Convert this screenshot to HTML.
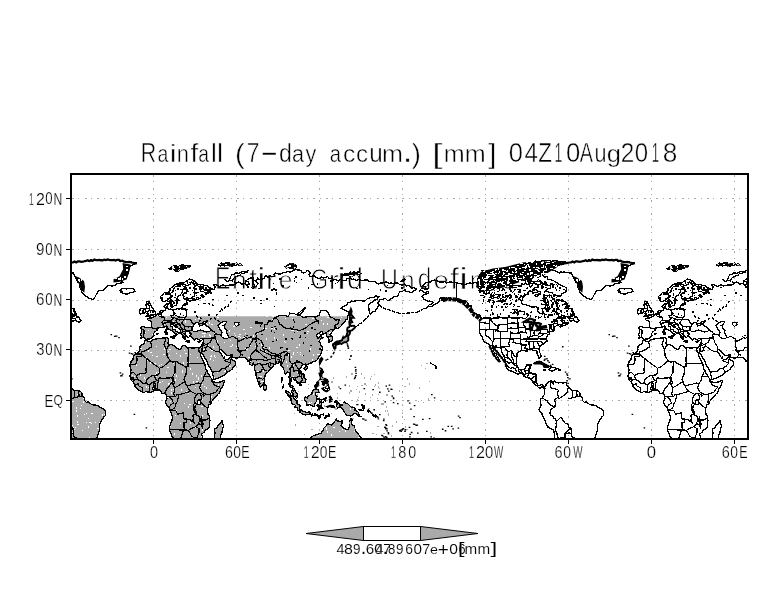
<!DOCTYPE html>
<html><head><meta charset="utf-8"><title>Rainfall</title>
<style>html,body{margin:0;padding:0;background:#fff;width:784px;height:612px;overflow:hidden}svg{display:block;filter:grayscale(1)}</style>
</head><body>
<svg width="784" height="612" viewBox="0 0 784 612">
<rect width="784" height="612" fill="#fff"/>
<g stroke="#aaaaaa" stroke-width="1" stroke-dasharray="2 4.35 1 5.35" fill="none" shape-rendering="crispEdges"><line x1="153.5" y1="175" x2="153.5" y2="438"/><line x1="236.5" y1="175" x2="236.5" y2="438"/><line x1="319.5" y1="175" x2="319.5" y2="438"/><line x1="402.5" y1="175" x2="402.5" y2="438"/><line x1="485.5" y1="175" x2="485.5" y2="438"/><line x1="568.5" y1="175" x2="568.5" y2="438"/><line x1="651.5" y1="175" x2="651.5" y2="438"/><line x1="734.5" y1="175" x2="734.5" y2="438"/><line x1="72" y1="400.5" x2="747" y2="400.5"/><line x1="72" y1="350.5" x2="747" y2="350.5"/><line x1="72" y1="300.5" x2="747" y2="300.5"/><line x1="72" y1="249.5" x2="747" y2="249.5"/><line x1="72" y1="198.5" x2="747" y2="198.5"/></g>
<g fill="#000"><text transform="translate(214.99,288.90) scale(0.2325,0.3081)" font-family="Liberation Sans" font-size="100" stroke="#fff" stroke-width="2.960">E</text><text transform="translate(232.05,288.90) scale(0.2637,0.2620)" font-family="Liberation Sans" font-size="100" stroke="#fff" stroke-width="3.044">n</text><text transform="translate(249.37,288.66) scale(0.2859,0.3041)" font-family="Liberation Sans" font-size="100" stroke="#fff" stroke-width="2.712">t</text><text transform="translate(257.11,288.90) scale(0.3868,0.2953)" font-family="Liberation Sans" font-size="100" stroke="#fff" stroke-width="2.345">i</text><text transform="translate(265.75,288.90) scale(0.3240,0.2620)" font-family="Liberation Sans" font-size="100" stroke="#fff" stroke-width="2.730">r</text><text transform="translate(278.66,288.65) scale(0.2451,0.2574)" font-family="Liberation Sans" font-size="100" stroke="#fff" stroke-width="3.184">e</text><text transform="translate(310.56,288.61) scale(0.2267,0.2994)" font-family="Liberation Sans" font-size="100" stroke="#fff" stroke-width="3.041">G</text><text transform="translate(328.81,288.90) scale(0.3000,0.2620)" font-family="Liberation Sans" font-size="100" stroke="#fff" stroke-width="2.847">r</text><text transform="translate(336.96,288.90) scale(0.4096,0.2953)" font-family="Liberation Sans" font-size="100" stroke="#fff" stroke-width="2.270">i</text><text transform="translate(347.10,288.62) scale(0.2869,0.2914)" font-family="Liberation Sans" font-size="100" stroke="#fff" stroke-width="2.767">d</text><text transform="translate(381.01,288.60) scale(0.2324,0.3038)" font-family="Liberation Sans" font-size="100" stroke="#fff" stroke-width="2.984">U</text><text transform="translate(401.32,288.90) scale(0.2378,0.2620)" font-family="Liberation Sans" font-size="100" stroke="#fff" stroke-width="3.201">n</text><text transform="translate(417.87,288.62) scale(0.2446,0.2914)" font-family="Liberation Sans" font-size="100" stroke="#fff" stroke-width="2.985">d</text><text transform="translate(433.43,288.65) scale(0.2749,0.2574)" font-family="Liberation Sans" font-size="100" stroke="#fff" stroke-width="3.006">e</text><text transform="translate(450.05,288.90) scale(0.3206,0.2957)" font-family="Liberation Sans" font-size="100" stroke="#fff" stroke-width="2.596">f</text><text transform="translate(458.96,288.90) scale(0.4096,0.2953)" font-family="Liberation Sans" font-size="100" stroke="#fff" stroke-width="2.270">i</text><text transform="translate(469.94,288.90) scale(0.2354,0.2620)" font-family="Liberation Sans" font-size="100" stroke="#fff" stroke-width="3.216">n</text><text transform="translate(485.41,288.65) scale(0.2557,0.2574)" font-family="Liberation Sans" font-size="100" stroke="#fff" stroke-width="3.118">e</text><text transform="translate(501.47,288.62) scale(0.2446,0.2914)" font-family="Liberation Sans" font-size="100" stroke="#fff" stroke-width="2.985">d</text></g>
<defs><clipPath id="box"><rect x="72" y="175" width="675" height="263"/></clipPath>
<clipPath id="gclip"><path d="M67.7,316.3 L348.5,316.3 L348.5,346.6 L356.9,363.5 L365.1,392.1 L365.1,444.3 L67.7,444.3Z"/></clipPath>
<g id="outl"><path d="M145.5,340.1 L144.9,338.3 L143.2,337.6 L141.0,338.2 L141.3,335.4 L140.3,335.2 L141.3,332.8 L141.7,329.9 L140.4,327.8 L142.5,326.5 L145.5,327.4 L148.2,327.2 L151.2,327.5 L151.3,325.4 L151.8,322.8 L150.5,320.9 L148.8,320.7 L147.7,319.8 L147.1,319.2 L149.4,317.9 L150.9,318.8 L150.9,316.9 L151.9,317.7 L153.7,317.1 L155.3,316.0 L155.7,314.8 L157.7,313.8 L158.8,313.2 L159.8,312.1 L160.4,311.1 L161.8,310.2 L163.1,310.4 L165.1,310.1 L165.8,309.6 L165.2,308.0 L163.8,306.8 L165.3,305.4 L165.4,304.5 L167.9,303.3 L168.0,304.9 L168.0,305.1 L166.7,306.9 L167.6,308.2 L168.7,309.5 L170.7,309.1 L172.9,310.0 L175.7,309.5 L177.4,308.7 L179.2,308.7 L181.1,308.7 L182.3,307.4 L182.7,305.5 L183.7,304.5 L184.5,303.8 L187.1,304.2 L187.0,302.2 L185.6,299.1 L188.1,299.4 L190.2,301.5 L192.2,300.0 L194.9,300.9 L193.6,299.0 L191.6,298.2 L189.3,298.2 L187.4,299.7 L185.0,299.8 L183.3,298.0 L184.1,296.2 L182.7,294.8 L184.4,292.8 L186.3,292.1 L186.5,290.2 L188.3,291.8 L186.7,289.0 L182.3,289.2 L182.7,291.5 L181.2,293.8 L179.5,295.8 L177.4,296.6 L176.6,300.1 L178.4,299.3 L179.0,300.6 L176.9,301.0 L177.1,303.3 L176.3,305.4 L174.5,305.4 L173.4,306.8 L171.3,307.3 L170.5,306.0 L170.0,303.3 L170.1,299.9 L169.3,301.8 L166.5,300.3 L164.6,301.5 L163.7,301.6 L162.1,301.1 L161.8,299.2 L160.3,297.8 L160.7,296.3 L162.4,294.9 L164.7,292.2 L169.1,293.6 L168.9,291.5 L169.8,288.8 L172.2,287.2 L173.5,286.2 L174.7,284.7 L176.8,283.8 L179.8,283.1 L182.7,282.8 L184.7,282.2 L186.7,281.0 L189.3,279.0 L192.7,280.1 L195.5,281.2 L196.3,283.3 L199.1,284.5 L201.2,284.5 L203.1,284.7 L204.9,285.4 L207.2,285.2 L208.4,286.8 L210.4,287.8 L208.9,289.4 L206.6,290.3 L204.8,290.0 L203.1,288.4 L201.2,289.0 L199.7,288.0 L200.2,290.3 L201.7,291.7 L203.4,291.7 L204.5,292.3 L206.6,292.4 L208.1,291.4 L209.3,289.9 L211.5,289.1 L214.3,289.2 L214.4,287.0 L213.7,285.1 L215.5,284.6 L217.2,285.5 L219.2,286.4 L221.2,285.5 L223.2,285.0 L225.3,285.9 L227.5,285.7 L229.5,284.8 L231.7,285.1 L233.7,285.1 L235.7,284.0 L238.1,282.0 L240.1,282.6 L242.1,284.2 L245.4,283.0 L246.3,285.6 L249.3,284.4 L248.3,281.9 L245.3,280.9 L246.7,280.2 L248.9,278.4 L251.0,277.9 L253.7,277.8 L253.5,280.0 L253.3,281.8 L253.6,284.0 L254.8,286.3 L252.9,288.3 L254.1,286.7 L255.5,286.7 L258.1,283.8 L256.9,282.2 L254.8,280.7 L256.8,280.2 L257.3,278.0 L260.1,279.8 L262.1,279.2 L264.0,278.4 L264.8,276.2 L266.4,275.5 L268.2,277.3 L269.6,275.3 L271.7,276.8 L274.6,276.1 L273.9,274.4 L275.8,273.0 L278.1,274.0 L279.8,274.1 L281.5,273.4 L283.2,272.8 L284.9,272.3 L286.6,272.0 L288.3,271.5 L290.2,272.3 L291.8,271.6 L293.6,270.4 L295.5,269.6 L297.7,270.1 L299.8,269.9 L301.5,270.9 L301.4,272.2 L303.5,273.0 L305.4,272.6 L307.5,270.4 L309.0,271.5 L310.9,273.0 L309.1,274.4 L309.8,276.9 L311.9,276.1 L314.1,276.0 L316.0,277.5 L318.2,278.4 L320.0,278.4 L321.8,276.9 L323.7,278.0 L325.8,277.4 L327.8,276.7 L329.1,278.6 L331.8,278.1 L332.7,281.1 L334.3,279.6 L336.0,279.6 L338.2,281.0 L340.3,279.3 L342.1,280.6 L343.9,280.3 L346.4,280.6 L347.2,278.2 L348.9,278.2 L350.6,278.2 L352.3,279.5 L354.0,279.0 L355.6,280.1 L357.4,280.3 L359.4,279.0 L361.0,280.2 L363.7,280.3 L365.5,280.0 L367.4,280.0 L369.2,281.6 L371.1,281.6 L372.9,281.9 L375.1,281.1 L376.9,283.6 L378.7,283.9 L380.4,282.9 L382.2,283.3 L384.0,282.5 L385.8,282.1 L387.6,282.2 L389.3,283.4 L391.4,282.8 L393.4,283.8 L395.6,282.9 L397.8,282.9 L399.6,284.5 L402.3,285.2 L404.7,284.1 L406.1,286.1 L408.3,285.7 L410.1,286.3 L411.5,288.3 L413.9,287.4 L415.3,288.4 L416.5,288.6 L415.2,290.0 L414.1,290.7 L412.2,292.7 L410.1,292.5 L408.3,291.5 L406.3,291.7 L405.1,289.5 L402.6,291.3 L399.7,291.9 L398.8,293.4 L398.5,295.6 L396.4,296.3 L394.2,296.5 L393.0,298.1 L390.8,298.3 L389.3,300.3 L387.2,300.2 L385.3,298.3 L383.2,299.4 L380.2,299.6 L379.1,301.2 L377.9,303.0 L379.2,304.1 L378.8,305.4 L377.3,308.0 L375.9,309.3 L374.9,311.3 L373.0,311.6 L371.4,313.0 L370.7,314.5 L369.3,312.1 L369.1,310.0 L368.8,307.9 L368.4,306.2 L369.1,304.6 L370.6,302.9 L372.4,302.6 L373.3,301.1 L374.8,300.0 L376.7,299.7 L377.9,297.7 L379.7,296.4 L377.6,296.3 L375.1,295.8 L374.1,297.7 L372.0,297.6 L370.2,297.2 L369.1,298.3 L367.3,298.8 L366.4,299.6 L364.9,300.9 L363.1,301.1 L361.0,300.7 L358.9,300.5 L356.8,300.5 L354.8,301.1 L353.0,301.5 L351.6,301.1 L350.0,302.4 L347.8,302.8 L346.6,304.8 L344.9,306.0 L342.5,306.7 L341.0,308.2 L343.6,309.8 L345.8,310.4 L347.6,311.5 L349.4,312.8 L347.9,315.5 L347.5,317.2 L347.9,319.1 L346.0,319.8 L345.3,321.6 L343.7,322.6 L342.4,323.9 L341.5,325.4 L340.3,326.7 L339.1,327.8 L337.5,328.4 L335.2,327.8 L334.2,329.4 L332.7,331.2 L330.8,333.5 L329.6,334.6 L331.6,335.8 L332.7,338.6 L332.4,340.4 L330.4,341.3 L328.8,342.5 L328.5,341.7 L329.1,339.8 L328.2,338.3 L328.6,337.2 L326.4,336.5 L326.7,334.3 L325.4,333.2 L323.8,333.8 L322.4,334.7 L320.8,335.0 L322.3,334.0 L322.8,332.1 L320.9,331.6 L318.8,333.3 L316.4,334.4 L316.3,335.7 L317.9,337.3 L318.1,337.9 L320.5,336.7 L323.2,337.9 L320.8,338.8 L319.8,340.3 L318.5,341.6 L320.3,342.6 L320.8,345.4 L322.5,347.0 L322.4,348.8 L321.7,349.4 L322.0,350.2 L321.7,352.6 L320.3,354.8 L318.7,357.3 L317.6,359.5 L315.5,361.2 L312.6,362.1 L311.5,363.0 L310.5,363.0 L308.5,363.9 L305.9,364.7 L306.5,366.1 L305.2,365.0 L303.6,364.2 L301.6,365.5 L301.6,367.2 L300.1,368.5 L299.6,370.3 L299.9,372.0 L301.2,373.8 L303.9,374.2 L303.9,377.0 L305.9,379.5 L304.9,382.4 L302.2,382.8 L300.2,382.7 L301.1,385.1 L299.7,385.8 L299.4,384.0 L297.9,383.5 L297.1,382.4 L296.7,380.6 L294.9,380.1 L293.6,379.1 L293.0,377.2 L291.6,377.9 L290.8,379.7 L290.2,381.3 L289.6,383.4 L291.0,385.1 L293.1,386.4 L292.8,387.8 L294.3,388.4 L294.7,390.2 L295.9,392.3 L297.7,393.6 L296.6,396.2 L297.5,397.6 L296.4,398.6 L295.3,397.1 L292.8,396.0 L293.3,393.3 L291.2,391.7 L293.0,389.0 L291.4,387.5 L289.8,386.7 L289.0,383.9 L291.0,382.1 L291.2,379.5 L288.4,377.3 L289.7,375.3 L289.5,373.4 L288.2,372.1 L286.6,372.2 L285.4,374.0 L284.3,373.6 L284.7,370.9 L283.5,369.5 L283.1,367.7 L281.4,365.8 L280.5,364.2 L280.5,362.9 L279.1,362.7 L277.6,363.3 L275.9,363.7 L274.2,364.4 L273.1,366.4 L271.0,368.1 L270.1,369.6 L268.9,370.8 L267.5,372.7 L265.8,373.4 L265.0,375.3 L264.7,377.8 L264.2,379.5 L264.3,381.1 L263.8,383.1 L262.6,384.9 L261.3,385.8 L260.5,387.0 L259.3,385.6 L258.7,382.8 L257.8,380.7 L256.9,377.8 L256.1,376.2 L256.0,374.4 L255.3,371.8 L254.9,370.1 L254.6,368.5 L254.4,366.0 L253.9,364.3 L253.2,363.0 L253.0,364.4 L251.5,365.4 L250.2,364.4 L249.0,363.0 L250.5,362.8 L249.2,362.0 L247.7,361.0 L246.8,359.0 L245.6,357.7 L242.7,357.7 L240.7,357.8 L238.8,357.7 L235.7,358.1 L232.8,357.1 L232.1,354.8 L231.0,355.0 L228.9,355.7 L226.7,355.3 L224.6,353.5 L222.8,351.5 L221.3,349.5 L219.9,350.0 L219.6,351.4 L220.7,353.0 L221.8,355.5 L222.8,356.8 L223.8,358.1 L224.7,357.1 L224.9,359.0 L226.1,359.5 L227.9,359.4 L230.1,357.6 L231.2,356.4 L231.3,358.8 L233.0,360.7 L234.8,360.9 L235.8,362.8 L234.9,365.7 L233.2,367.5 L231.9,369.4 L229.9,370.8 L227.9,371.6 L226.2,373.0 L224.2,375.2 L222.6,375.7 L221.3,376.6 L220.0,377.2 L218.4,378.3 L216.5,378.7 L214.4,379.4 L213.5,379.1 L213.3,376.9 L212.6,374.4 L212.5,372.5 L211.2,369.5 L209.7,367.1 L208.6,365.7 L207.9,364.2 L207.4,362.6 L206.9,360.9 L205.1,358.4 L204.1,357.0 L203.4,355.5 L202.2,353.2 L201.8,353.3 L201.5,350.8 L201.2,353.5 L200.1,352.4 L198.9,350.1 L198.2,348.1 L200.7,347.8 L201.6,345.2 L202.8,343.3 L203.5,340.8 L203.4,338.9 L202.7,339.2 L201.2,338.3 L198.9,339.7 L196.4,338.6 L194.4,339.9 L192.7,338.5 L191.4,337.2 L189.8,336.0 L190.6,334.1 L189.9,333.2 L190.1,332.6 L189.5,331.8 L188.0,331.3 L186.4,331.8 L185.3,332.1 L185.9,333.2 L184.8,334.0 L185.5,334.8 L186.8,336.4 L185.0,336.7 L185.2,339.3 L184.4,339.6 L183.8,338.4 L182.7,336.9 L183.3,336.1 L182.1,335.0 L181.3,333.5 L180.0,332.5 L180.6,330.6 L179.5,329.0 L177.8,327.9 L175.5,327.4 L174.3,325.4 L173.2,324.6 L172.4,324.6 L172.3,323.9 L170.4,324.1 L170.2,325.7 L171.0,326.5 L172.5,327.2 L173.0,329.5 L175.3,330.0 L175.8,331.2 L177.7,331.5 L178.7,332.9 L179.0,333.4 L177.4,332.6 L176.4,333.6 L177.0,334.9 L175.8,336.3 L174.9,336.5 L175.5,335.3 L175.0,333.3 L174.4,332.4 L173.2,331.9 L172.5,330.6 L170.8,330.1 L168.9,329.1 L167.8,328.2 L167.6,326.6 L166.0,326.0 L164.2,327.0 L162.5,327.8 L160.7,327.7 L159.5,327.2 L158.0,327.9 L157.8,329.6 L156.2,330.8 L154.7,332.1 L153.4,333.8 L153.9,335.4 L152.5,337.2 L151.0,338.9 L150.3,338.8 L147.6,339.1 L146.2,339.3Z M144.9,340.1 L144.6,341.4 L144.3,343.6 L143.2,344.2 L140.3,345.7 L139.7,348.4 L140.1,349.3 L139.5,351.3 L137.5,352.9 L135.4,354.0 L133.5,356.2 L133.0,359.3 L131.4,360.6 L130.8,362.9 L129.8,365.2 L130.5,367.7 L131.0,370.1 L130.6,373.2 L129.9,375.5 L129.5,375.7 L130.7,377.7 L130.7,379.5 L132.1,381.1 L133.6,382.6 L134.9,384.5 L135.1,386.7 L136.2,388.1 L137.8,389.4 L139.8,390.5 L141.6,391.6 L143.1,392.9 L145.9,391.6 L147.6,391.9 L149.2,392.3 L150.8,392.7 L153.4,390.8 L155.2,390.6 L157.0,390.2 L159.6,390.0 L160.8,391.4 L161.8,393.5 L163.2,393.4 L165.4,392.7 L165.8,393.9 L166.6,396.2 L167.1,398.9 L166.2,400.4 L165.5,402.3 L166.7,404.7 L168.0,406.4 L169.8,408.6 L170.2,410.7 L171.1,412.3 L171.5,414.0 L172.3,416.5 L172.2,419.0 L172.0,421.0 L170.8,423.4 L170.2,425.4 L169.4,427.4 L169.6,429.1 L169.8,430.8 L170.9,432.8 L171.6,434.9 L172.2,436.8 L173.6,438.4 L173.4,440.5 L173.6,442.6 L175.2,442.6 L176.8,442.6 L178.4,442.6 L180.0,442.6 L181.6,442.6 L183.2,442.6 L184.9,442.6 L186.5,442.6 L188.1,442.6 L189.7,442.6 L191.3,442.6 L192.9,442.6 L194.5,442.6 L196.2,442.6 L197.8,442.6 L199.4,442.6 L201.0,442.6 L202.6,442.6 L202.6,440.9 L202.2,439.2 L202.7,437.5 L201.5,434.4 L202.6,433.2 L204.3,432.4 L205.2,430.2 L207.5,429.1 L209.4,426.7 L209.4,424.1 L209.3,422.4 L209.9,420.7 L209.5,418.2 L209.2,416.0 L208.0,414.1 L207.7,412.0 L207.2,408.8 L208.6,407.3 L208.8,405.0 L211.2,403.6 L211.9,401.1 L213.8,399.0 L215.8,396.9 L217.6,394.5 L219.9,392.2 L220.2,390.4 L221.0,388.9 L222.8,386.3 L223.7,383.6 L224.6,381.0 L222.9,380.7 L221.3,381.8 L219.3,382.2 L217.2,382.6 L215.1,382.9 L213.7,381.5 L212.7,381.1 L212.4,379.7 L211.0,378.0 L209.9,376.1 L208.8,374.3 L207.9,373.2 L207.2,370.3 L205.6,369.0 L205.3,366.8 L205.1,365.1 L204.5,363.5 L203.4,362.0 L202.9,360.2 L202.5,359.3 L201.0,356.9 L200.4,354.7 L200.1,353.1 L198.9,351.8 L198.7,350.2 L198.2,347.9 L196.4,347.3 L195.2,347.9 L193.7,348.1 L191.5,348.2 L190.0,347.5 L188.3,347.4 L186.4,347.0 L185.3,345.6 L183.4,345.4 L181.7,346.3 L181.4,348.6 L179.6,349.8 L177.6,348.7 L175.1,347.1 L174.5,346.1 L171.8,344.7 L169.6,344.4 L167.7,343.8 L168.3,341.6 L168.8,338.6 L167.5,338.1 L167.0,337.6 L165.3,338.1 L163.1,338.0 L160.4,338.5 L157.7,338.8 L154.9,339.1 L152.7,340.0 L150.7,341.9 L148.5,341.6 L146.2,340.1Z M221.9,420.6 L222.3,422.8 L223.1,424.9 L223.3,426.6 L222.3,429.1 L222.2,431.3 L221.7,433.4 L220.4,435.4 L220.4,437.6 L220.1,439.3 L219.5,440.9 L219.2,442.6 L217.6,442.6 L216.0,442.6 L214.4,442.6 L214.2,440.6 L214.2,438.6 L214.3,436.8 L214.4,435.0 L215.0,433.3 L214.7,431.2 L214.1,428.8 L215.9,428.4 L217.2,427.3 L218.2,425.6 L219.3,423.9 L221.3,421.8Z M263.8,389.6 L263.6,387.9 L263.8,386.2 L264.7,383.8 L266.2,386.1 L266.9,388.8 L265.6,390.0 L264.4,390.4Z M145.6,316.4 L148.7,316.0 L150.4,315.8 L152.2,315.5 L153.8,314.9 L155.8,314.4 L155.6,312.2 L153.9,310.6 L153.5,309.1 L151.9,307.7 L150.9,305.1 L148.5,305.7 L150.0,305.3 L150.4,304.3 L149.1,301.7 L146.4,301.8 L147.2,304.6 L145.7,304.7 L146.4,306.6 L146.7,308.5 L148.8,308.3 L149.5,310.2 L146.8,311.8 L147.9,313.3 L146.3,313.6 L148.8,314.3 L147.6,315.0Z M145.5,312.6 L145.2,310.6 L145.7,308.6 L145.1,308.3 L144.3,308.7 L141.8,308.3 L139.7,309.3 L140.0,310.7 L139.2,312.5 L140.4,313.9 L142.4,313.1 L144.6,312.9Z M123.0,293.3 L121.5,292.6 L120.4,291.6 L122.2,291.2 L119.9,290.1 L121.7,288.7 L124.5,288.5 L126.5,289.1 L128.5,288.5 L131.4,288.5 L133.8,289.1 L135.0,291.3 L132.8,292.3 L129.9,292.7 L127.1,294.2 L125.1,293.8Z M52.2,268.1 L54.1,268.0 L55.0,266.3 L56.7,266.1 L58.2,265.0 L59.8,264.8 L61.6,265.3 L63.0,264.0 L64.8,264.2 L66.3,263.6 L68.0,263.3 L69.7,263.0 L71.3,262.4 L73.1,262.8 L74.6,261.6 L76.3,261.6 L77.9,261.2 L79.5,261.3 L81.2,261.3 L82.9,261.8 L84.4,261.0 L86.0,260.5 L87.7,260.5 L89.4,261.2 L90.9,259.9 L92.6,260.4 L94.3,260.1 L96.0,260.4 L97.6,259.9 L99.3,260.3 L100.9,260.0 L102.6,260.2 L104.3,260.4 L105.9,260.0 L107.6,259.4 L109.3,259.3 L110.8,260.4 L112.5,260.0 L114.1,259.7 L115.7,260.8 L117.3,260.4 L118.9,260.7 L120.5,261.3 L122.4,261.0 L124.1,261.4 L125.8,262.4 L127.7,261.7 L129.5,262.7 L131.4,262.1 L133.2,263.0 L135.0,263.2 L136.7,262.6 L135.0,263.4 L133.4,264.5 L131.8,265.5 L130.3,266.1 L128.9,267.1 L127.9,268.4 L127.3,270.3 L125.5,272.1 L127.9,273.4 L126.0,274.5 L124.7,276.1 L123.2,278.7 L122.0,279.8 L120.4,280.0 L121.9,281.0 L123.1,282.4 L121.0,283.1 L118.8,283.3 L117.1,283.7 L115.6,285.1 L113.8,285.3 L112.0,286.1 L109.9,285.7 L107.5,285.6 L106.7,287.5 L104.9,288.3 L103.8,290.0 L102.0,290.8 L99.9,290.3 L98.3,291.2 L97.1,293.8 L95.8,295.3 L95.0,297.1 L93.3,299.6 L91.2,298.7 L88.4,297.9 L87.2,296.9 L85.5,296.3 L84.3,295.2 L83.3,293.9 L81.8,292.2 L80.9,289.4 L79.3,286.8 L80.3,284.7 L83.0,283.5 L81.4,282.7 L79.9,281.8 L77.6,282.0 L76.9,280.4 L75.7,277.9 L75.0,276.3 L74.3,274.8 L73.3,273.1 L71.5,273.2 L69.9,272.2 L68.0,273.0 L66.3,271.7 L64.6,272.5 L62.9,271.9 L61.2,273.0 L59.7,272.1 L57.7,271.4 L56.0,270.3 L54.0,270.0Z M165.4,329.8 L166.6,328.1 L167.1,329.6 L166.4,330.5 L165.3,330.6Z M164.9,331.7 L166.3,330.9 L167.0,332.1 L166.9,334.8 L166.0,334.6 L165.4,334.7 L165.4,333.1Z M170.6,336.5 L172.2,336.3 L174.7,335.9 L174.4,338.2 L174.4,338.7 L173.3,338.1 L170.5,337.3Z M186.0,341.1 L187.4,341.1 L189.8,341.0 L189.4,341.9 L187.5,341.9 L186.1,341.3Z M198.0,341.8 L199.2,341.1 L201.2,340.5 L200.3,341.5 L199.1,342.5Z M156.5,333.5 L157.7,333.5 L158.2,333.6 L157.9,334.0 L157.0,334.2Z M-78.6,290.9 L-76.3,288.2 L-73.5,289.0 L-71.6,288.4 L-69.7,288.7 L-72.1,289.2 L-72.6,287.0 L-74.4,286.3 L-75.8,286.0 L-74.4,285.3 L-72.1,282.7 L-70.0,282.1 L-67.7,282.0 L-65.7,280.7 L-63.3,280.1 L-61.4,280.3 L-59.6,281.8 L-56.9,282.0 L-55.0,282.1 L-53.0,281.4 L-51.3,282.9 L-49.4,282.3 L-47.5,281.9 L-45.7,282.4 L-43.6,282.7 L-41.4,282.4 L-39.5,283.7 L-37.4,283.8 L-35.3,284.0 L-33.2,284.4 L-30.4,283.8 L-28.4,282.9 L-26.1,283.3 L-23.9,282.7 L-21.5,282.7 L-19.5,284.8 L-17.6,282.2 L-15.9,282.6 L-14.2,282.8 L-12.8,285.1 L-10.9,284.7 L-9.2,285.2 L-7.2,284.2 L-5.6,285.2 L-4.0,286.5 L-2.0,284.3 L-0.3,284.6 L1.2,284.5 L3.1,285.6 L4.9,286.5 L6.5,285.5 L8.3,284.9 L10.0,285.5 L11.9,284.8 L13.2,287.4 L15.1,285.9 L17.2,285.4 L19.3,285.5 L22.9,286.5 L23.5,283.0 L25.1,285.0 L27.2,283.6 L29.1,284.2 L31.0,284.1 L32.4,287.1 L33.6,286.0 L34.5,284.3 L36.4,282.4 L38.0,284.3 L40.4,285.1 L40.5,287.1 L38.4,287.2 L36.5,288.2 L35.0,289.8 L34.6,291.5 L31.9,290.9 L30.2,291.7 L29.8,294.7 L27.6,294.8 L26.3,296.1 L23.9,296.3 L24.8,299.0 L23.4,301.0 L23.7,303.5 L25.5,304.7 L27.3,304.5 L28.8,305.0 L31.0,305.7 L33.0,306.9 L35.9,307.1 L37.8,306.8 L40.5,307.5 L39.9,309.4 L39.7,311.4 L40.9,312.5 L41.9,313.7 L44.5,313.9 L45.1,312.1 L44.6,310.4 L43.9,308.4 L46.2,308.2 L47.8,306.3 L48.2,303.2 L47.4,301.8 L44.6,300.6 L46.1,298.8 L46.3,295.7 L47.9,295.7 L49.5,296.0 L51.3,295.4 L53.5,296.0 L54.2,298.3 L56.7,298.6 L56.6,301.2 L59.6,302.5 L61.3,300.7 L63.1,300.1 L64.0,299.2 L65.0,300.9 L66.9,301.9 L68.9,303.4 L68.8,305.4 L69.7,308.0 L71.4,308.3 L74.1,308.9 L73.9,311.8 L75.9,313.3 L74.9,314.7 L72.7,314.2 L71.9,317.0 L69.8,317.1 L67.8,316.4 L65.6,315.4 L63.6,316.1 L61.5,316.4 L59.6,317.3 L58.1,318.9 L56.5,320.0 L55.1,321.2 L57.5,320.6 L58.9,318.9 L60.8,318.0 L62.6,318.4 L64.4,318.3 L63.5,319.7 L64.2,321.4 L64.9,323.0 L66.7,323.0 L68.4,323.2 L70.5,322.7 L69.1,324.2 L67.5,325.2 L65.6,325.4 L64.1,326.4 L62.2,327.4 L62.0,326.1 L64.3,324.0 L62.3,324.5 L60.7,324.8 L58.5,325.7 L56.5,327.0 L55.8,328.7 L56.7,330.5 L54.7,331.1 L53.1,331.7 L51.0,332.1 L51.4,334.3 L49.4,334.9 L48.9,336.8 L48.1,338.4 L49.3,341.4 L47.6,342.0 L45.8,343.7 L43.8,344.5 L41.5,346.6 L40.8,349.2 L41.6,350.9 L41.8,352.6 L42.7,354.2 L43.1,356.0 L42.3,357.8 L40.8,358.1 L40.0,355.6 L38.9,353.4 L38.9,351.1 L36.9,350.1 L35.3,350.5 L33.2,349.3 L31.1,349.3 L29.6,349.7 L29.8,351.7 L28.3,351.4 L26.2,350.7 L23.5,350.7 L21.2,351.7 L18.9,353.6 L19.0,356.8 L18.2,358.4 L18.8,360.1 L18.5,361.8 L18.0,363.6 L19.3,365.8 L20.3,368.6 L22.9,370.3 L24.5,369.6 L26.2,369.2 L27.2,368.4 L28.3,366.0 L28.6,365.1 L30.2,365.0 L31.8,364.2 L33.2,364.6 L32.5,367.7 L31.4,370.2 L31.3,372.9 L33.0,372.9 L34.5,374.1 L37.3,373.9 L38.4,375.3 L37.8,376.9 L38.1,378.6 L38.0,380.3 L37.9,381.8 L39.0,383.5 L39.8,385.6 L42.8,384.9 L44.1,384.6 L46.3,386.4 L47.8,385.9 L48.2,384.3 L49.2,383.1 L50.4,381.9 L52.3,381.1 L53.6,380.4 L54.2,381.9 L54.4,383.4 L55.6,384.5 L55.4,382.4 L56.5,380.8 L58.7,382.7 L60.5,383.0 L62.2,382.3 L65.0,383.0 L68.0,382.4 L68.3,383.8 L69.3,386.6 L70.4,386.8 L72.5,388.8 L74.6,390.7 L77.4,390.5 L80.2,391.2 L82.2,393.3 L82.7,395.6 L84.2,398.0 L84.4,400.5 L86.4,402.3 L88.5,401.6 L90.0,403.2 L91.9,404.7 L93.6,405.0 L95.4,405.1 L98.2,405.3 L100.0,407.1 L102.4,408.5 L104.7,409.8 L105.7,412.5 L105.6,414.1 L105.3,415.8 L103.9,416.8 L103.2,418.3 L101.8,419.8 L100.6,422.5 L99.7,424.0 L99.4,425.7 L99.6,427.9 L99.5,430.0 L99.1,431.7 L98.4,433.3 L97.7,435.9 L97.0,438.0 L95.1,439.2 L95.4,440.9 L95.4,442.6 L93.8,442.6 L92.1,442.6 L90.5,442.6 L88.8,442.6 L87.2,442.6 L85.5,442.6 L83.9,442.6 L82.3,442.6 L80.6,442.6 L79.0,442.6 L77.3,442.6 L75.7,442.6 L74.0,442.6 L72.4,442.6 L70.8,442.6 L69.1,442.6 L67.5,442.6 L65.8,442.6 L64.2,442.6 L62.5,442.6 L60.9,442.6 L59.3,442.6 L57.6,442.6 L56.0,442.6 L56.1,440.9 L56.5,439.2 L56.6,437.6 L56.5,435.8 L56.2,433.6 L56.0,431.6 L55.3,429.9 L53.9,429.2 L52.3,428.6 L51.2,427.3 L49.4,426.8 L48.8,425.0 L48.0,423.2 L47.4,421.2 L46.3,419.3 L45.4,417.5 L44.4,415.3 L43.8,413.0 L42.2,411.6 L41.1,409.7 L42.0,407.6 L43.2,405.5 L42.8,403.8 L42.6,402.3 L42.6,398.8 L44.5,398.0 L45.1,396.1 L46.4,394.6 L46.6,392.9 L46.5,391.2 L46.7,389.5 L45.2,387.2 L43.5,387.0 L42.1,388.3 L39.9,386.9 L38.5,385.5 L36.9,384.3 L35.4,383.6 L35.0,381.8 L33.8,380.1 L32.5,378.5 L30.4,377.8 L28.6,377.7 L27.1,376.8 L25.7,375.9 L25.0,374.1 L22.7,372.9 L19.9,374.3 L17.4,372.7 L15.6,372.0 L13.9,371.1 L11.9,370.9 L10.2,369.8 L8.7,368.5 L8.0,366.9 L7.8,364.4 L6.8,362.2 L5.7,360.1 L4.0,358.5 L3.2,357.1 L2.1,355.8 L0.9,354.7 L0.3,353.1 L-1.2,351.6 L-2.4,349.9 L-3.8,348.3 L-5.4,347.0 L-4.6,349.8 L-4.3,351.6 L-3.4,353.0 L-1.8,354.0 L-1.1,355.8 L-0.0,357.4 L0.9,359.1 L2.1,361.7 L0.6,361.0 L-0.7,359.9 L-1.4,358.4 L-2.7,356.6 L-4.5,355.2 L-5.5,352.5 L-6.1,350.8 L-6.7,349.0 L-7.3,347.3 L-8.2,345.6 L-10.5,343.4 L-13.7,342.4 L-14.4,340.6 L-15.4,339.0 L-15.7,336.7 L-17.0,335.5 L-17.7,334.0 L-18.2,332.5 L-18.2,329.8 L-18.3,328.2 L-18.4,326.3 L-18.2,324.5 L-18.3,322.8 L-18.7,320.9 L-18.9,319.9 L-16.9,319.0 L-17.2,316.9 L-18.7,314.8 L-20.8,314.8 L-21.4,314.3 L-24.0,312.6 L-26.2,312.3 L-27.2,310.1 L-26.5,305.8 L-29.9,306.7 L-31.4,306.0 L-33.2,305.1 L-33.0,300.4 L-36.5,302.5 L-38.5,302.3 L-39.5,300.5 L-41.3,300.5 L-42.9,299.1 L-45.6,299.2 L-47.5,299.0 L-49.3,297.8 L-51.5,300.3 L-54.0,300.1 L-56.2,300.9 L-55.9,299.1 L-53.7,298.1 L-57.4,298.1 L-58.5,299.4 L-58.8,301.2 L-60.7,303.5 L-62.3,304.0 L-63.9,304.6 L-65.0,305.8 L-66.5,306.5 L-69.5,306.6 L-72.0,308.1 L-74.5,308.8 L-72.2,308.4 L-70.4,307.0 L-68.9,304.8 L-66.5,304.5 L-65.7,303.1 L-64.5,302.4 L-66.4,301.8 L-68.2,301.0 L-69.7,301.6 L-70.8,300.4 L-72.6,300.1 L-74.6,299.0 L-75.3,297.1 L-76.1,296.2 L-74.1,294.4 L-72.5,294.0 L-70.8,293.9 L-69.6,293.6 L-69.2,291.1 L-72.0,292.4 L-73.7,292.2 L-75.3,291.7 L-76.6,290.2Z M310.7,438.3 L311.5,437.2 L313.9,435.4 L316.0,435.0 L318.1,434.1 L321.0,433.4 L321.6,431.8 L322.8,430.5 L324.0,428.0 L325.6,426.5 L326.6,425.2 L327.8,423.7 L329.8,424.3 L331.8,425.3 L333.1,423.4 L334.7,421.6 L336.3,418.9 L337.1,421.0 L340.3,421.3 L342.3,420.5 L342.0,423.3 L341.0,425.7 L342.9,427.5 L344.5,428.4 L345.8,429.4 L348.1,429.9 L348.5,428.2 L349.5,426.6 L349.2,424.5 L349.3,422.4 L350.0,420.8 L350.6,420.0 L351.1,418.3 L352.4,419.5 L351.6,421.5 L351.8,424.3 L354.2,425.8 L354.6,428.3 L355.7,430.7 L356.4,432.2 L358.4,434.1 L359.6,435.8 L361.4,437.8 L361.5,439.4 L361.9,441.0 L362.4,442.6 L360.7,442.6 L359.1,442.6 L357.5,442.6 L355.8,442.6 L354.2,442.6 L352.5,442.6 L350.9,442.6 L349.2,442.6 L347.6,442.6 L346.0,442.6 L344.3,442.6 L342.7,442.6 L341.0,442.6 L339.4,442.6 L337.7,442.6 L336.1,442.6 L334.5,442.6 L332.8,442.6 L331.2,442.6 L329.5,442.6 L327.9,442.6 L326.2,442.6 L324.6,442.6 L323.0,442.6 L321.3,442.6 L319.7,442.6 L318.0,442.6 L316.4,442.6 L314.7,442.6 L313.1,442.6 L311.5,442.6 L309.8,442.6 L310.3,440.5Z M71.3,320.4 L73.7,320.6 L75.7,320.6 L76.8,321.4 L79.7,322.2 L80.9,320.4 L79.6,318.9 L79.7,317.5 L76.3,316.5 L76.8,314.0 L74.4,313.7 L74.3,316.1 L72.6,317.2 L71.5,318.9Z M35.8,363.4 L37.4,362.9 L38.7,361.8 L41.6,361.2 L44.2,362.6 L45.6,363.5 L47.0,364.3 L49.8,365.6 L51.0,366.7 L49.1,367.2 L46.2,366.9 L44.9,364.5 L42.2,363.6 L40.0,363.2 L37.3,363.5Z M50.7,369.5 L51.9,368.4 L52.8,367.0 L54.7,367.2 L56.7,367.3 L58.9,368.8 L56.7,370.0 L54.5,371.2 L52.4,370.4Z M45.1,369.9 L48.0,370.0 L47.1,370.5 L45.5,369.9Z M60.6,369.1 L62.6,369.5 L62.6,370.1 L60.5,370.2Z M68.6,288.1 L68.0,291.4 L66.3,292.8 L63.7,293.4 L63.6,295.7 L61.9,295.9 L60.2,295.5 L58.4,295.4 L56.9,294.4 L55.1,294.2 L54.2,292.6 L52.5,292.5 L49.8,291.8 L47.7,290.6 L46.1,292.1 L46.7,291.5 L48.3,290.3 L49.8,288.6 L52.3,288.7 L52.5,285.9 L50.4,285.6 L48.1,285.6 L46.6,283.1 L44.3,283.3 L42.4,281.8 L40.1,281.8 L38.0,281.3 L36.0,282.5 L34.2,281.5 L32.3,281.2 L29.7,281.3 L29.4,279.8 L30.6,277.4 L32.7,278.3 L34.6,278.3 L35.9,276.9 L37.6,275.4 L39.4,277.4 L41.1,276.9 L43.1,275.5 L45.0,275.6 L46.5,277.5 L48.9,276.6 L50.0,279.2 L52.1,279.4 L53.9,280.2 L55.8,280.9 L57.5,282.0 L59.1,283.0 L61.6,284.5 L63.2,285.3 L64.7,286.2 L66.5,286.7Z M28.9,273.0 L30.5,273.2 L32.2,273.1 L33.9,270.7 L35.4,272.3 L37.1,271.9 L38.7,272.3 L40.3,271.0 L42.1,271.1 L43.9,271.7 L45.1,271.1 L46.9,270.5 L47.5,268.4 L49.6,267.9 L51.7,268.0 L53.4,267.1 L55.3,266.7 L57.0,266.3 L58.5,265.2 L60.1,264.2 L62.1,264.3 L63.6,263.4 L65.7,262.8 L67.7,261.8 L65.9,261.2 L64.0,261.7 L62.2,261.1 L60.3,261.3 L58.5,260.9 L56.7,260.6 L54.9,261.0 L53.2,261.3 L51.5,260.8 L49.8,260.5 L48.0,260.5 L46.3,260.9 L44.6,260.4 L43.0,261.7 L41.3,262.0 L39.5,261.9 L37.5,260.8 L36.1,262.9 L34.4,263.5 L32.7,263.9 L31.0,264.4 L29.5,263.8 L27.5,264.4 L25.6,266.6 L27.9,266.6 L29.2,267.8 L30.9,269.5Z M22.2,269.8 L24.1,270.0 L25.8,267.8 L28.0,269.9 L28.9,268.6 L29.1,265.9 L27.8,265.4 L25.6,263.6 L23.9,265.6 L21.8,264.2 L19.4,265.3 L20.3,267.4Z M42.8,275.5 L41.2,273.8 L39.5,274.0 L37.8,275.9 L36.2,273.9 L34.5,274.6 L32.9,276.4 L31.2,273.6 L29.5,275.7 L27.9,275.5 L26.2,275.1 L24.5,274.0 L22.2,274.6 L20.8,273.5 L22.5,273.7 L24.0,272.5 L25.8,273.1 L27.4,272.3 L28.9,272.7 L30.8,270.9 L32.5,271.6 L34.2,272.1 L36.0,271.1 L37.5,273.9 L39.3,273.0 L41.2,271.6 L42.6,272.9Z M29.0,278.6 L27.3,280.2 L25.7,280.2 L24.0,279.0 L22.4,280.6 L21.5,279.6 L22.1,277.9 L22.1,274.6 L23.9,276.5 L25.8,275.9 L27.2,276.1 L27.0,278.1Z M20.8,279.7 L19.2,279.2 L17.7,278.1 L15.5,280.0 L13.8,280.1 L13.1,279.2 L13.4,276.8 L15.2,275.6 L17.1,277.3 L20.2,276.4 L18.9,278.9Z M13.8,285.5 L12.0,285.5 L10.1,284.2 L8.3,285.5 L6.5,285.7 L4.6,284.9 L2.7,285.1 L0.9,285.8 L-1.0,285.4 L-2.4,284.3 L-4.8,285.5 L-6.2,284.7 L-8.0,284.5 L-9.2,283.2 L-11.5,281.4 L-8.4,280.7 L-9.2,277.9 L-6.8,279.5 L-5.5,276.5 L-3.1,278.4 L-1.4,276.8 L0.2,277.5 L1.8,277.6 L3.6,276.6 L5.3,276.7 L6.5,278.1 L9.2,278.0 L11.5,279.2 L10.8,282.1 L12.3,283.2Z M-5.6,279.2 L-7.4,280.1 L-9.5,278.9 L-11.2,280.8 L-13.2,280.4 L-15.0,280.6 L-16.7,280.1 L-18.1,278.2 L-20.7,279.0 L-19.2,277.4 L-18.1,274.8 L-16.4,275.0 L-14.6,276.9 L-13.1,274.8 L-11.4,275.5 L-9.6,274.9 L-8.3,276.6 L-6.1,276.7Z M7.5,273.3 L6.0,274.6 L4.2,276.0 L2.3,274.2 L0.6,275.6 L-1.2,275.5 L-3.0,275.2 L-4.8,274.5 L-6.6,273.6 L-8.4,275.0 L-6.1,274.2 L-6.4,273.2 L-4.6,271.1 L-2.9,270.7 L-1.3,271.0 L0.2,273.2 L1.9,272.5 L3.5,273.6 L5.1,273.9 L6.5,272.9Z M24.7,275.7 L22.9,275.3 L21.1,274.3 L19.4,273.3 L17.4,274.8 L15.5,274.7 L13.4,272.7 L15.6,273.2 L16.7,270.7 L18.3,272.7 L20.2,272.8 L22.7,271.6 L23.4,273.5Z M-5.3,272.1 L-7.1,272.1 L-8.9,272.1 L-11.0,270.7 L-12.5,272.2 L-14.1,271.3 L-16.3,270.6 L-14.4,271.3 L-12.6,271.9 L-11.3,270.5 L-10.0,271.3 L-7.9,271.6Z M15.1,269.3 L13.3,269.4 L11.3,269.2 L9.2,270.9 L7.6,268.8 L9.7,269.4 L11.8,269.2 L14.5,267.3Z M42.8,294.4 L41.3,293.9 L39.8,292.9 L38.2,292.4 L36.6,292.2 L34.7,293.4 L34.3,293.4 L34.6,290.0 L36.5,289.9 L38.4,289.6 L40.0,291.1 L42.3,292.1Z M38.7,296.3 L41.5,294.5 L39.5,294.3 L36.5,295.6Z M347.2,330.7 L349.1,331.2 L351.8,330.3 L353.4,329.1 L355.0,327.5 L354.1,325.8 L351.0,325.9 L349.5,324.1 L349.7,325.7 L349.2,327.1 L347.6,327.8 L347.1,329.8Z M349.1,330.8 L349.9,332.3 L349.8,333.9 L348.2,336.0 L348.3,338.2 L348.3,340.4 L347.1,341.5 L345.8,342.2 L344.4,342.2 L343.0,343.0 L341.7,344.0 L340.4,343.4 L338.9,342.4 L336.8,343.0 L334.9,343.4 L335.1,342.6 L336.9,341.5 L338.9,341.2 L341.9,340.4 L343.0,337.6 L343.2,338.3 L345.0,337.1 L346.4,335.7 L347.3,333.2 L347.6,331.4Z M333.3,343.7 L334.8,343.4 L335.6,345.2 L335.5,348.0 L334.2,348.3 L333.5,346.7 L333.0,345.0Z M336.7,344.7 L338.1,344.2 L339.6,343.7 L339.6,343.0 L337.4,342.9 L336.7,344.1Z M349.9,323.0 L352.3,322.2 L351.2,320.2 L351.3,317.8 L353.8,317.8 L352.6,316.3 L351.3,314.7 L351.3,313.0 L351.7,311.2 L350.9,309.1 L350.4,310.5 L349.2,313.0 L350.1,314.6 L349.8,316.3 L349.8,318.0 L350.0,319.7 L349.5,321.4Z M319.7,361.7 L319.9,363.4 L321.1,361.3 L322.5,359.1 L321.5,357.9 L320.3,359.2Z M304.1,368.5 L306.3,365.6 L307.6,367.8 L305.5,370.6 L304.9,369.3Z M320.3,368.2 L322.0,369.3 L323.1,372.2 L321.7,373.9 L321.6,377.0 L323.0,378.2 L325.1,378.7 L324.3,379.3 L321.7,378.3 L320.2,376.5 L319.2,373.4 L321.1,372.8 L320.4,371.0Z M322.2,388.5 L325.1,387.6 L326.9,386.5 L327.9,384.1 L328.5,386.3 L329.5,389.4 L326.6,391.7 L324.7,390.8Z M325.5,378.9 L327.4,380.0 L328.1,381.9 L326.5,383.7 L324.6,383.0 L324.3,381.3Z M321.8,381.5 L324.1,381.6 L323.1,382.6 L323.2,382.3Z M323.6,381.8 L324.5,382.9 L323.9,385.1 L322.6,384.4Z M320.2,378.1 L322.5,378.3 L321.4,379.3 L319.8,379.5Z M314.7,385.7 L316.6,384.6 L317.1,382.5 L318.4,381.3 L318.5,383.6 L318.2,385.9 L315.3,387.6Z M304.3,398.0 L305.4,396.6 L307.3,398.2 L308.0,396.1 L309.8,395.1 L311.9,393.9 L312.3,390.9 L314.4,389.2 L315.7,389.0 L318.1,389.4 L319.1,392.3 L315.9,392.9 L315.4,394.8 L317.0,396.9 L316.6,398.0 L317.2,398.3 L316.4,401.6 L314.4,403.8 L314.2,405.5 L314.3,406.9 L312.4,405.9 L310.0,404.7 L307.2,405.1 L306.8,405.1 L306.3,401.7 L304.7,400.5Z M285.5,390.4 L288.4,391.7 L290.5,393.4 L290.1,395.9 L292.1,396.1 L293.8,397.7 L294.5,399.8 L296.9,400.4 L297.1,403.8 L298.6,404.7 L300.0,405.5 L299.7,407.9 L299.9,410.0 L297.8,410.5 L297.6,407.9 L295.1,407.4 L295.2,405.2 L294.1,404.4 L291.4,403.5 L291.3,401.6 L291.0,399.5 L290.8,397.1 L288.3,396.7 L287.9,394.4 L286.2,393.0Z M300.0,412.7 L300.4,409.3 L302.8,411.7 L304.6,411.4 L306.2,412.9 L309.2,411.9 L310.8,413.4 L311.6,416.0 L310.3,413.5 L308.4,414.7 L305.5,414.9 L302.8,414.0 L300.4,412.7Z M311.9,414.4 L312.8,413.9 L312.8,415.4Z M314.2,415.7 L315.8,414.7 L314.7,415.3 L313.9,415.3Z M314.8,413.9 L316.9,414.3 L318.2,416.2 L315.9,415.4Z M319.4,416.0 L321.4,414.6 L323.6,414.1 L323.4,414.9 L321.3,414.5 L320.6,415.0Z M318.5,415.4 L320.5,417.1 L319.2,419.0 L318.2,417.0Z M324.5,418.0 L326.1,415.3 L328.2,415.7 L328.9,413.7 L329.2,416.5 L327.0,416.7 L325.5,418.0Z M317.1,405.4 L319.4,403.7 L319.9,401.6 L318.4,398.7 L320.5,399.4 L323.8,399.3 L326.0,397.8 L325.7,401.1 L323.7,398.9 L321.9,399.8 L320.8,402.6 L324.0,401.9 L321.6,402.8 L321.1,405.8 L323.0,408.5 L321.6,408.0 L319.1,405.1 L319.2,407.5 L320.2,408.9 L317.8,410.0 L318.7,407.6Z M329.5,397.1 L330.4,396.9 L331.9,399.3 L329.8,400.0 L331.3,401.4 L329.9,401.8 L330.9,399.7Z M330.6,405.5 L332.3,405.7 L333.3,405.8 L334.4,407.4 L330.9,406.8Z M327.8,407.0 L330.3,406.1 L329.5,405.9 L327.1,406.7Z M334.6,402.1 L336.3,400.7 L337.9,402.4 L339.6,404.0 L339.5,405.2 L342.4,405.0 L344.2,402.0 L345.7,403.1 L347.5,403.5 L349.8,405.8 L351.3,407.2 L353.2,407.4 L355.0,408.0 L355.1,410.6 L356.6,410.8 L358.3,412.2 L358.7,413.6 L359.2,416.2 L361.2,416.6 L359.1,416.7 L357.6,415.0 L355.6,413.4 L353.4,413.7 L352.0,415.4 L350.3,416.0 L348.8,415.7 L347.1,415.1 L345.3,414.8 L345.4,413.5 L344.0,412.0 L343.6,409.3 L341.9,408.8 L340.6,406.8 L337.5,407.9 L336.2,405.4 L338.2,403.8 L335.6,402.8Z M358.9,409.7 L361.2,410.0 L363.1,407.5 L363.3,407.5 L363.8,410.8 L361.3,409.9 L359.5,410.6Z M361.8,404.7 L364.2,405.7 L364.5,407.5 L364.6,408.7 L363.1,406.5 L361.8,405.4Z M368.7,409.0 L369.2,411.0 L368.3,412.6 L367.5,410.9Z M370.5,411.6 L372.2,414.3 L374.8,415.4 L372.6,415.8 L372.4,414.2Z M373.9,416.7 L375.7,416.7 L375.6,417.1 L375.3,416.6Z M375.5,414.6 L377.2,416.4 L376.2,416.8 L375.6,415.3Z M281.4,377.9 L282.3,378.0 L282.0,380.3 L281.5,382.2 L281.9,381.7 L281.3,379.5Z M283.4,385.0 L283.3,387.0 L282.5,388.8 L283.1,386.8Z M225.1,279.5 L226.9,281.5 L229.1,280.6 L230.0,278.4 L231.0,276.0 L232.2,274.7 L234.0,274.3 L235.2,273.2 L236.9,272.8 L238.8,273.3 L240.4,272.5 L242.0,271.4 L244.1,271.2 L246.2,271.6 L248.0,270.7 L246.9,272.7 L244.6,272.7 L243.1,273.9 L241.2,273.7 L239.8,275.5 L238.1,275.4 L237.1,276.8 L235.2,276.9 L234.1,277.8 L233.3,279.2 L232.4,281.1 L230.6,280.2 L229.1,280.9 L227.4,281.6Z M234.5,281.9 L237.2,282.7 L236.5,283.2 L234.4,282.8Z M168.9,269.0 L170.5,267.8 L171.9,266.4 L173.7,265.8 L175.6,265.5 L177.6,266.3 L179.4,266.2 L181.2,264.9 L182.8,265.1 L184.4,265.2 L186.0,266.1 L187.6,265.3 L189.2,265.1 L190.8,265.5 L189.5,267.2 L187.4,267.3 L186.0,268.9 L183.8,268.6 L182.1,269.9 L180.0,269.5 L178.4,271.0 L176.1,271.9 L174.7,269.6 L172.3,268.5 L170.2,269.7Z M218.5,264.9 L220.2,264.3 L221.7,263.1 L223.8,263.8 L225.4,263.1 L227.3,263.2 L229.1,262.9 L231.0,263.4 L232.8,263.8 L234.6,263.6 L236.6,263.0 L238.2,264.6 L240.3,263.7 L242.2,265.4 L240.5,265.3 L238.7,265.0 L236.9,264.5 L235.4,265.8 L233.7,265.5 L231.9,266.3 L230.0,266.7 L228.2,265.0 L226.4,265.7 L224.5,265.9 L222.7,265.5 L220.5,266.1Z M284.8,266.4 L286.8,266.7 L287.5,264.4 L289.6,264.0 L291.9,263.7 L293.9,264.3 L295.7,265.3 L297.0,266.0 L295.6,267.7 L293.7,269.6 L292.3,267.6 L290.3,268.6 L288.8,267.0 L286.5,268.1Z M341.7,276.6 L343.4,275.3 L345.2,274.8 L346.8,275.7 L349.3,275.4 L350.6,277.1 L352.3,276.2 L354.0,275.2 L355.5,273.1 L357.3,274.2 L359.2,273.9 L361.6,273.4 L359.7,273.3 L357.7,271.3 L356.0,273.2 L354.0,271.9 L352.2,272.7 L350.3,272.1 L348.6,273.6 L346.5,273.5 L345.0,274.1 L342.6,274.2Z M400.6,281.6 L403.3,279.3 L405.6,279.6 L403.9,280.8 L402.1,281.7Z M-62.0,368.7 L-61.1,367.8 L-62.2,366.4 L-62.4,367.4Z M-63.3,365.3 L-62.2,365.6 L-62.8,365.8Z M-65.7,364.5 L-64.7,364.5 L-65.3,364.7Z M-67.5,362.7 L-67.0,363.2 L-67.4,363.7Z"/><path d="M193.6,331.4 L192.1,330.3 L192.0,328.9 L191.7,327.6 L193.2,326.6 L193.2,324.8 L194.5,324.2 L195.2,322.9 L196.2,322.5 L198.5,322.9 L200.1,323.4 L198.5,324.0 L199.9,326.0 L201.2,325.3 L202.7,324.9 L204.1,324.2 L205.5,325.1 L206.3,326.2 L208.4,326.8 L209.3,328.4 L211.2,329.5 L210.8,330.4 L209.3,331.5 L206.7,332.0 L204.5,331.5 L202.5,330.7 L200.8,330.1 L199.3,330.2 L197.1,331.4 L195.4,331.4Z M201.9,323.9 L204.2,324.1 L206.2,322.4 L207.7,320.6 L205.4,321.5 L203.8,321.9 L202.4,322.6Z M219.2,328.1 L220.6,330.1 L221.9,332.3 L221.7,334.1 L221.0,336.0 L222.1,337.1 L223.4,338.2 L225.1,338.6 L226.9,338.6 L228.6,337.7 L227.9,335.1 L226.7,333.2 L226.4,330.5 L227.2,330.8 L226.6,329.6 L224.5,327.8 L224.4,325.8 L223.1,325.5 L225.0,324.5 L226.9,321.8 L224.0,321.1 L221.4,322.5 L219.3,324.0 L217.9,325.4Z"/><path d="M354.6,327.0 L356.3,326.6 L357.7,325.4 L358.9,324.3 L361.2,323.4 L362.9,321.5 L364.1,320.2 L366.1,318.2 L367.9,316.6 L369.3,315.5 M378.7,305.9 L380.8,305.6 L381.4,307.7 L383.2,307.7 L385.1,309.1 L387.4,309.2 L389.0,309.8 L390.5,310.6 L392.3,310.9 L394.3,311.9 L396.4,312.3 L398.4,312.8 L401.1,314.0 L403.9,313.2 L406.0,313.8 L408.0,313.0 L410.1,313.1 L412.1,312.4 L415.0,312.6 L417.9,312.0 L420.4,310.2 L423.2,309.6" stroke-dasharray="5 1 3 1"/><path d="M150.3,341.5 L150.8,343.3 L151.4,344.9 L151.9,346.6 L150.0,347.7 L148.4,349.2 L146.6,349.8 L145.0,350.7 L143.2,351.4 L141.3,352.2 L141.5,354.1 L139.4,353.9 L137.3,353.9 L135.2,353.9 M141.4,353.9 L141.5,356.7 L139.2,356.8 L136.8,356.7 L137.0,358.8 L137.0,361.0 L136.1,362.8 L135.5,364.7 L133.7,364.4 L131.8,364.7 L130.0,364.6 M141.5,354.5 L142.9,355.4 L144.2,356.4 L145.4,357.6 L146.8,358.5 L148.3,359.4 L149.5,360.8 L150.9,361.9 L152.5,362.7 L153.7,364.1 L155.2,365.1 L156.7,366.0 L158.0,367.1 L159.3,368.2 L161.7,367.5 L163.1,366.5 L164.6,365.5 L165.9,364.2 L167.4,363.3 L168.7,362.1 L170.1,360.9 M147.0,358.4 L146.8,360.0 L146.8,361.6 L146.6,363.2 L146.3,364.8 L146.5,366.5 L146.1,368.1 L146.0,369.7 L146.2,371.3 L145.9,373.1 L144.3,373.2 L142.6,373.3 L141.0,373.8 L139.3,374.0 L137.6,374.3 L136.8,375.6 L135.1,374.1 L133.5,372.6 L130.7,373.2 M165.4,338.4 L165.2,340.2 L164.9,342.0 L163.8,344.7 L164.9,346.2 L165.9,347.9 L166.5,349.7 L166.7,351.4 L166.9,353.2 L166.9,355.0 L167.3,356.7 L168.4,358.1 L169.5,359.6 L170.1,360.9 M169.5,344.9 L167.6,347.1 L166.6,349.7 M188.0,347.3 L188.1,348.9 L188.1,350.5 L188.1,352.2 L188.2,353.8 L188.2,355.4 L188.1,357.0 L188.0,358.6 L188.0,360.2 L188.1,361.9 L188.1,363.7 L189.7,363.3 L191.4,363.7 L193.0,363.6 L194.7,363.6 L196.3,363.3 L198.0,363.5 L199.6,363.6 L201.3,363.6 L202.9,363.6 L204.5,363.5 M188.1,363.5 L188.0,365.1 L188.1,366.6 L186.7,366.8 L186.6,367.8 L185.3,366.9 L184.0,365.9 L182.5,365.2 L181.2,364.2 L179.7,363.6 L178.3,362.7 L177.0,361.8 L175.6,361.3 L172.9,362.2 L170.1,360.9 M175.5,361.1 L175.2,362.7 L175.1,364.4 L175.1,366.0 L175.0,367.7 L175.1,369.4 L174.9,371.0 L175.0,372.8 L174.0,374.0 L173.3,375.5 L172.5,376.9 M159.2,368.2 L159.1,370.2 L159.4,372.3 L158.4,374.7 L156.6,375.1 L154.9,375.2 L153.8,375.6 L155.5,378.2 L156.2,379.5 L157.3,380.2 L158.4,380.8 L159.0,377.9 L161.1,378.2 L163.2,378.4 L165.2,378.3 L167.3,378.0 L169.0,378.0 L170.7,377.8 L172.5,377.8 M157.3,389.7 L157.3,387.5 L157.3,385.4 L157.8,383.1 L158.5,380.8 M165.1,392.7 L166.0,390.7 L167.0,388.6 L168.5,387.1 L169.7,385.3 L170.8,384.0 L172.0,382.9 L172.6,381.1 L173.6,379.4 L172.9,378.3 M173.8,379.4 L174.0,381.6 L174.4,383.7 L172.6,384.0 L173.6,386.0 L175.0,387.9 L174.6,389.9 L174.1,391.8 L173.7,393.6 L174.5,395.3 L175.6,396.8 L173.6,396.8 L171.3,396.8 L169.1,396.7 L167.1,396.6 M174.8,387.7 L176.2,386.9 L177.7,386.2 L179.1,385.4 L180.7,384.3 L182.3,383.0 L183.9,382.2 L185.2,382.0 L185.8,383.8 L186.6,385.4 L188.0,387.9 L189.0,389.3 L190.3,390.5 L191.4,391.7 L189.7,391.7 L188.1,392.1 L186.0,392.6 L183.9,393.4 L182.4,393.9 L180.8,394.3 L179.2,394.6 L176.6,394.7 L175.6,396.8 M186.8,367.7 L186.5,369.4 L186.5,371.1 L186.2,372.7 L186.0,374.4 L184.7,376.9 L183.9,379.5 L185.0,382.2 M186.0,385.5 L187.8,385.7 L189.5,385.5 L191.3,384.7 L193.2,384.6 L195.0,384.0 L197.0,383.3 L199.0,382.9 L200.5,384.5 M206.8,370.5 L206.0,371.9 L205.4,373.5 L204.6,374.9 L203.8,376.4 L203.5,379.4 L202.9,380.9 L201.8,382.2 L200.6,384.5 L200.6,386.0 L199.0,387.1 L200.1,388.7 L201.0,390.4 L202.0,392.0 L203.2,392.8 M204.0,376.6 L205.4,376.8 L207.1,376.6 L208.9,376.1 L210.1,377.1 L211.2,378.3 L212.3,379.5 M212.1,379.4 L211.2,381.2 L213.0,382.8 L214.4,385.2 L216.2,385.8 L218.0,386.6 L219.8,386.9 L218.8,388.2 L217.7,389.5 L216.7,390.7 L215.8,392.3 L213.7,392.9 L211.6,393.6 L209.5,394.3 L207.4,394.8 L205.3,393.8 L203.2,392.8 M210.2,393.8 L210.4,395.8 L210.3,397.7 L210.4,399.6 L210.0,401.5 L210.2,403.4 M203.1,392.5 L200.6,393.6 L198.4,393.7 L196.4,394.3 L194.2,393.1 L191.4,391.7 M200.7,393.4 L201.1,395.7 L202.0,398.0 L200.4,400.5 L200.3,402.3 L201.5,403.4 L202.8,404.3 L204.0,405.3 L205.2,406.4 L206.5,407.4 L207.7,408.4 M196.6,394.3 L195.7,396.1 L194.8,398.0 L194.7,400.3 L194.7,402.8 L193.5,405.2 L194.0,408.1 L194.0,409.8 L194.2,411.5 L195.1,413.1 L195.7,414.8 M194.5,402.9 L195.6,402.2 L196.2,404.7 L195.0,407.2 L194.0,408.1 M170.4,410.5 L171.3,410.3 L173.0,409.0 L174.6,407.7 L175.5,405.9 L175.8,403.8 L177.6,401.3 L177.7,399.4 L178.2,397.5 L178.5,395.9 L179.2,394.4 M169.0,396.9 L170.3,398.0 L171.8,398.8 L172.5,401.0 L173.5,403.0 L172.2,403.8 L170.9,404.8 L169.0,407.1 M170.4,410.8 L172.1,410.5 L173.9,410.4 L175.7,410.6 L176.7,412.3 L177.7,414.1 L179.7,413.8 L181.7,413.3 L183.9,412.8 L183.7,414.9 L183.7,416.9 L183.9,418.9 L186.7,419.0 M186.5,419.0 L186.5,420.7 L186.7,422.3 L183.9,422.4 L183.9,424.1 L184.1,425.8 L183.8,427.5 L185.7,430.0 L184.1,429.8 L182.4,430.1 L180.7,430.0 L179.1,429.9 L177.2,429.8 L175.4,429.5 L173.5,429.5 L171.7,429.5 L169.8,429.6 M181.2,442.6 L181.2,440.9 L181.2,439.2 L181.0,437.5 L181.6,435.5 L182.2,433.4 L182.6,431.3 L184.2,430.7 L185.8,429.8 L188.4,430.3 L190.3,429.3 L192.2,428.1 L193.8,427.4 L195.6,426.8 M195.7,414.7 L193.1,414.8 L193.0,416.5 L193.5,418.2 L193.0,419.8 L192.9,421.5 L194.6,423.2 L192.7,421.8 L190.9,420.2 L188.8,419.4 L186.7,419.0 M196.6,415.1 L199.3,416.5 L199.2,418.6 L199.4,420.7 L198.6,423.5 L197.1,425.2 L195.6,426.8 M201.8,420.0 L203.6,420.0 L205.5,420.2 L207.4,419.1 L209.4,418.2 M202.0,419.8 L202.4,422.0 L203.2,424.1 L202.7,426.2 L202.4,428.2 L202.0,426.5 L201.3,424.8 L199.5,424.2 L198.7,423.6 M195.6,426.7 L197.2,427.7 L199.1,428.4 L199.0,430.5 L199.1,432.6 L198.2,434.4 L197.6,436.3 L196.8,438.3 L194.2,437.8 L192.4,436.6 L191.2,435.4 L190.6,433.8 L189.4,432.5 L188.5,430.5 M188.1,443.4 L190.2,441.7 L191.5,440.5 L192.7,439.0 L194.2,437.9 M197.0,438.2 L197.3,440.4 L197.8,442.6 M136.5,375.8 L137.1,377.7 L137.7,379.7 L139.7,380.6 L141.7,381.3 L142.4,383.4 L144.2,383.3 L146.0,383.0 L146.5,381.0 L147.2,379.1 L148.9,377.7 L150.7,376.5 L152.2,375.8 L153.8,375.4 M145.9,383.1 L147.7,384.0 L149.7,384.4 L151.3,383.2 L152.8,382.1 L154.6,381.9 L156.8,380.5 M130.4,379.7 L132.4,379.3 L134.6,379.2 L137.7,379.6 M132.7,382.1 L133.7,380.8 L134.5,379.3 M135.1,385.4 L136.7,384.6 L138.5,383.6 L139.0,386.1 L140.7,386.9 L142.5,387.7 L142.8,389.5 L142.7,391.3 L143.1,393.1 M149.0,391.9 L149.2,390.1 L149.2,388.2 L149.3,386.3 L149.6,384.5 M155.2,390.2 L154.5,388.7 L154.1,387.0 L154.0,385.4 L153.8,383.7 L153.6,382.0 M155.9,390.1 L155.9,387.7 L155.8,385.3 L155.0,383.7 L154.7,382.0 M130.3,377.7 L132.3,377.5 L134.4,377.6 M130.4,378.3 L132.4,378.5 L134.4,378.3 M201.0,347.7 L201.8,350.8 M248.2,360.7 L250.1,360.5 L251.9,359.7 L253.8,359.3 L256.6,360.1 L258.3,359.7 L260.0,359.2 L262.1,359.6 L264.2,360.3 L267.0,360.2 L269.7,359.4 L272.5,358.5 L275.2,358.4 M254.3,366.2 L256.6,364.4 L258.6,363.8 L261.4,364.1 L263.1,364.1 L264.8,364.3 L267.7,363.7 L269.7,362.7 L272.4,363.6 L273.9,364.3 M255.2,373.7 L257.2,372.6 L258.9,372.2 L260.8,371.9 L262.1,369.4 L264.9,370.1 L266.2,371.0 M256.7,379.6 L258.6,377.8 L261.4,378.7 L262.6,379.3 L264.4,377.8 M259.3,386.2 L260.1,383.6 L259.3,381.1 M256.0,349.8 L257.3,350.7 L258.6,351.7 L260.6,353.4 L262.0,355.1 L264.1,356.8 L265.6,357.5 L266.9,358.4 M260.0,349.2 L261.4,350.8 L263.5,351.7 L264.2,352.0 M261.4,364.3 L262.2,365.9 L262.8,367.6 L263.9,368.9 L264.9,370.2 M267.8,363.4 L268.5,365.1 L269.0,366.9 L270.9,368.0 M203.5,339.0 L204.1,338.4 L206.1,338.6 L208.8,338.3 L212.0,338.0 L213.7,338.0 L215.6,337.9 L214.6,335.6 L215.6,333.5 L213.7,331.5 L210.9,330.6 M215.6,333.5 L217.8,334.8 L219.9,334.4 L221.1,335.9 M215.3,338.0 L216.3,340.8 L217.1,343.3 L218.0,344.7 L219.0,346.0 L219.4,347.5 L219.9,350.0 M212.2,338.1 L211.1,340.2 L210.4,342.3 L208.7,343.2 L207.2,344.3 L208.0,346.2 L209.4,347.3 L210.9,348.3 L212.3,349.4 L213.7,350.5 L215.3,351.2 L217.9,351.3 L219.5,352.5 M217.8,351.6 L220.5,352.5 M207.9,346.3 L206.3,347.0 L204.7,347.5 L206.1,350.1 L203.3,351.5 L201.9,351.0 M203.1,345.6 L205.1,345.0 L207.2,344.3 M202.6,344.9 L202.2,346.9 L202.2,348.9 L201.9,350.8 M203.0,342.4 L204.1,343.4 L202.7,344.4 M212.8,373.0 L214.3,371.3 L216.4,371.5 L218.5,371.8 L219.9,370.4 L221.3,369.1 L223.4,368.7 L225.4,368.5 L226.6,367.1 L228.1,366.1 L229.3,364.8 L230.6,363.3 L228.9,362.5 L227.2,361.6 L225.4,361.0 L224.7,359.6 M225.3,368.6 L226.2,370.5 L227.0,372.6 M230.4,363.4 L230.8,361.2 L231.1,358.9 M238.3,340.6 L237.6,343.3 L237.3,345.4 L237.3,347.7 L238.9,347.9 L237.8,350.2 L239.7,352.2 L241.1,354.7 L240.0,355.9 L238.7,358.1 M228.1,337.8 L230.3,337.3 L232.4,336.4 L234.1,337.1 L235.6,338.0 L237.1,338.9 L238.2,340.6 L240.0,341.1 L241.4,340.3 L242.7,339.4 L244.0,338.4 L245.5,337.8 L247.6,338.3 L249.2,337.3 L251.1,336.8 L252.4,338.3 L254.5,338.2 L256.6,337.7 L257.2,338.2 M256.6,338.4 L254.6,339.3 L252.6,339.9 L251.6,342.6 L250.4,343.6 L249.8,345.2 L249.4,346.9 L247.3,347.5 L246.1,348.8 L245.2,350.4 L243.5,350.8 L241.7,350.9 L240.0,350.9 L237.7,350.3 M257.4,338.3 L256.4,340.3 L255.8,342.4 L256.6,344.1 L257.2,345.8 L256.7,348.4 L255.0,350.2 L254.1,351.6 L252.7,352.4 L251.8,353.8 L250.3,355.9 L251.0,358.3 L249.6,359.7 L248.0,360.8 M257.1,338.4 L259.2,339.4 L261.2,340.7 L261.9,342.4 L262.8,344.1 L263.5,345.8 L262.0,348.1 L264.5,349.5 L266.2,349.4 L268.1,350.5 L269.8,351.9 L272.5,353.5 L275.5,353.5 M264.5,349.6 L264.1,352.1 L265.7,352.9 L267.3,353.8 L269.1,354.2 L271.1,355.4 L273.2,355.7 L275.6,356.1 L275.5,353.5 M276.3,354.5 L278.6,354.1 L280.7,353.6 L282.1,352.7 L283.5,352.1 L286.6,351.6 L288.1,353.1 L286.4,354.3 L284.8,355.7 L284.5,357.9 L283.7,360.1 L283.1,361.8 L282.4,363.4 L281.6,364.8 M276.1,363.5 L276.0,361.3 L275.6,359.3 L275.9,356.4 L277.8,356.6 L279.5,357.6 L281.3,358.4 L281.1,360.1 L281.1,361.8 L281.6,364.8 M276.2,354.6 L276.6,355.4 L278.7,355.3 L280.5,355.2 L280.8,353.7 M288.1,353.0 L289.7,354.2 L289.6,356.1 L289.3,357.9 L289.2,359.7 L290.0,361.5 L291.1,363.1 L292.9,363.8 L291.8,366.0 L290.8,367.6 L289.7,368.8 L290.4,370.8 L289.9,373.0 L290.4,374.9 L290.0,376.7 L289.7,378.5 L289.3,380.2 L289.4,381.9 L289.9,383.7 M291.7,366.4 L293.7,367.6 L293.3,369.4 L293.6,371.4 L295.6,370.2 L298.5,371.0 L299.1,373.8 L299.2,375.8 L297.3,377.2 L295.0,377.1 L295.4,379.0 L295.8,380.8 M299.3,376.2 L301.5,376.2 L301.8,378.0 L302.5,380.1 L300.1,382.2 L298.1,383.0 M301.4,376.3 L302.1,374.4 L301.2,372.1 L300.3,370.5 L298.9,369.2 L297.5,367.6 L295.9,365.5 L294.9,362.9 L294.2,362.8 L293.4,364.1 M294.9,362.9 L297.4,362.0 L300.2,362.1 L301.5,363.2 L302.9,364.3 M292.2,389.4 L293.7,391.4 L294.7,390.1 M274.9,317.7 L276.9,319.0 L278.6,320.6 L279.0,322.2 L279.4,323.9 L280.8,324.7 L282.1,325.8 L283.5,326.8 L284.9,327.8 L286.3,328.7 L288.0,328.9 L289.8,328.8 L291.5,328.9 L293.2,329.2 L295.0,329.3 L296.7,329.6 L298.4,330.2 L300.1,330.5 L301.8,329.5 L303.6,329.0 L305.3,328.1 L306.9,327.2 L308.0,325.9 L309.2,324.8 L311.0,324.0 L312.8,323.0 L314.6,322.1 L316.8,321.5 L318.7,320.8 L316.0,319.7 L315.3,318.2 L314.7,316.7 M275.0,317.7 L276.9,316.8 L278.8,316.0 L280.8,315.4 L282.7,315.5 L284.6,315.7 L286.5,316.0 L288.4,316.4 L289.1,314.7 L289.5,313.1 L291.2,313.5 L292.9,313.6 L294.6,313.9 L296.1,314.4 L297.7,315.0 L299.3,315.4 L300.8,315.9 L302.2,316.7 L303.6,317.6 L305.3,317.0 L307.1,317.0 L308.8,316.5 L310.5,316.4 L312.6,316.5 L314.7,316.7 M314.6,316.5 L316.8,316.3 L318.7,315.8 L319.5,314.2 L320.0,312.4 L320.6,310.9 L322.5,310.6 L324.3,310.6 L326.1,310.9 L327.9,311.6 L328.3,313.4 L329.4,314.9 L329.8,316.9 L332.0,317.5 L334.0,318.4 L335.4,320.3 L337.6,319.8 L339.7,319.1 L339.0,320.9 L338.4,322.6 L337.5,324.2 L334.9,325.1 L334.9,326.9 L335.0,328.8 L334.2,329.1 M334.1,329.0 L331.9,330.0 L330.5,329.6 L329.2,330.7 L327.7,331.4 L325.4,333.3 M328.7,337.0 L331.0,335.5 M274.9,317.6 L273.8,318.8 L272.9,320.2 L271.8,321.5 L270.1,321.0 L268.4,321.1 L267.7,324.1 L266.1,324.4 L264.4,324.8 L264.7,326.4 L264.3,328.1 L264.5,329.6 L263.1,330.4 L261.6,331.1 L260.0,331.5 L258.0,332.5 L255.7,333.1 L255.5,333.9 L256.4,335.6 L257.2,337.4 M188.1,309.4 L185.9,309.8 L186.2,311.4 L186.1,313.0 L186.4,313.8 L186.8,315.6 L185.0,318.0 L184.1,318.9 L186.0,320.0 L188.1,319.4 L190.2,319.5 L191.3,320.4 L191.9,322.1 L192.5,323.9 M191.4,298.0 L192.9,296.7 L195.0,296.1 L194.5,294.5 L194.8,292.8 L194.2,290.7 L194.1,288.5 L195.6,286.1 L193.5,284.4 M186.9,289.7 L186.0,287.7 L184.6,286.7 L182.9,286.0 L182.1,283.7 L184.1,284.0 L186.0,285.5 L188.2,285.1 L190.1,284.5 L191.0,282.4 L193.1,283.5 L194.7,283.1 L196.4,283.0 M182.2,285.1 L180.0,283.9 L178.7,285.7 L177.4,286.6 L175.3,286.6 L174.3,287.9 L173.2,289.1 L172.9,291.7 L171.1,292.8 L169.7,294.3 L170.7,296.2 L169.7,298.0 L171.0,299.8 L169.0,301.2 M180.6,309.1 L182.8,308.9 L185.0,309.0 L186.0,309.8 M192.5,323.7 L194.6,324.2 M183.0,324.9 L184.9,326.0 L186.5,326.6 L188.1,327.0 L189.9,326.5 L191.9,326.3 L193.1,326.9 M184.1,319.0 L183.1,320.7 L182.5,322.4 L181.7,322.8 L183.1,324.8 M185.1,326.1 L184.8,328.1 L185.2,330.9 L186.7,330.8 L189.6,330.3 L192.2,329.8 M181.3,333.8 L182.4,331.5 L185.2,331.0 M189.6,331.8 L189.6,330.3 M172.4,324.1 L175.0,323.0 L176.5,322.2 L177.7,323.4 L179.3,323.3 L180.4,324.4 L179.8,324.9 M175.2,324.3 L177.5,324.7 L179.7,325.0 L180.7,327.4 L179.1,329.0 M175.3,324.4 L176.4,325.6 L177.7,328.1 M180.2,329.9 L181.1,329.0 L181.9,329.8 L182.6,331.8 M181.8,329.6 L184.6,329.3 M180.7,327.2 L181.6,328.5 L183.9,329.3 M175.8,320.3 L177.0,319.5 L179.5,320.1 L181.8,319.6 L184.1,319.0 M176.5,322.2 L175.8,320.2 M184.6,318.0 L182.6,317.3 L180.5,317.1 L179.5,317.2 L177.0,318.7 M179.5,317.1 L177.9,316.4 L176.3,315.6 L174.2,314.6 L172.6,315.4 L170.9,315.7 L172.6,318.3 L174.3,317.8 L177.0,318.7 M172.6,318.4 L171.5,320.6 L169.8,320.3 L168.0,320.6 L166.8,320.5 M166.8,320.6 L168.1,321.9 L170.5,321.4 L172.5,322.4 L175.1,322.1 M172.5,322.1 L170.2,322.3 L168.0,322.1 L165.9,323.0 L163.0,323.2 L163.2,326.1 L163.9,326.8 M161.7,322.7 L163.2,320.7 L165.4,320.3 L166.8,320.5 M151.1,327.3 L153.5,328.7 L155.6,328.8 L157.9,329.1 M141.2,329.8 L142.5,329.6 L144.4,330.3 L144.1,331.5 L143.9,334.0 L143.5,335.7 L143.3,337.9 M157.1,314.3 L159.0,316.0 L161.5,317.3 L163.2,317.5 L164.8,318.0 L164.0,320.4 M158.2,314.1 L160.4,313.8 L161.7,314.6 M163.5,311.0 L161.6,313.3 L161.8,315.0 L162.2,317.2 M173.1,309.8 L173.9,312.1 L174.2,314.6 M165.4,308.0 L167.2,308.3 M143.6,308.1 L142.4,308.8 L144.9,309.4 M-5.3,346.9 L-3.6,347.5 L-1.8,347.5 L-0.0,347.8 M2.9,347.8 L3.2,349.7 L3.6,351.6 L4.8,354.2 L6.0,355.8 L6.7,357.6 L7.0,359.3 L7.6,360.9 M9.1,350.7 L9.2,352.4 L9.1,354.2 L8.9,355.9 L10.1,357.1 L11.1,358.4 L12.4,360.1 L13.8,361.8 M12.9,350.4 L13.4,351.9 L13.4,353.5 L13.8,355.1 L13.8,356.7 L14.5,358.4 L15.3,360.1 L15.6,362.2 L15.9,364.3 M7.6,360.9 L9.4,362.1 L10.9,363.3 L12.3,362.5 L13.7,361.9 L14.8,363.0 L15.9,364.3 L17.9,366.0 M7.8,364.4 L9.1,365.6 L10.4,366.7 L12.4,368.4 L15.2,367.6 L17.3,369.3 L18.6,371.9 M18.3,363.3 L15.9,364.3 M19.2,366.1 L18.1,367.7 L17.2,369.4 M20.2,368.5 L20.1,370.9 L21.4,372.1 L22.8,373.2 M22.7,369.9 L24.2,372.7 L26.0,375.2 M11.0,358.5 L9.0,357.8 L6.9,357.6 M3.9,358.3 L5.3,356.8 L6.2,355.1 M38.5,375.4 L35.9,376.9 L34.6,378.0 L33.2,378.6 M31.4,372.8 L30.0,375.2 L29.7,376.9 M34.9,381.8 L37.3,382.2 L37.7,382.0 M38.7,386.2 L39.4,384.5 M46.5,387.0 L47.0,388.7 M-16.7,318.5 L-15.0,318.1 L-13.4,318.0 L-11.8,318.1 L-10.2,318.0 L-8.6,317.8 L-7.0,318.2 L-5.4,318.2 L-3.8,317.9 L-2.2,318.0 L-0.6,318.1 L1.0,317.9 L2.6,317.8 L4.2,317.9 L5.8,318.0 L7.4,318.0 L9.0,318.0 L10.6,317.9 L12.2,317.8 L13.8,318.1 L15.4,318.0 L17.0,318.0 L18.6,317.9 L20.2,317.9 L21.7,318.0 L22.0,317.5 L24.0,317.9 L25.9,318.4 L27.8,318.9 L29.7,319.7 M50.0,324.5 L52.3,324.7 L54.4,324.6 L56.1,323.1 L57.8,320.9 L59.6,320.9 L59.5,323.7 L60.8,325.1 M-41.4,283.2 L-41.1,284.9 L-41.2,286.7 L-41.8,288.4 L-41.8,290.2 L-41.6,292.0 L-41.7,293.7 L-41.8,295.5 L-41.1,297.2 L-41.5,298.9 L-38.7,299.4 L-36.8,301.0 L-34.2,300.2 L-33.0,301.4 L-31.1,301.9 L-30.1,303.5 L-29.7,305.5 L-27.2,305.8 L-26.3,307.9 M-8.5,345.9 L-6.8,345.5 L-5.2,345.4 L-3.5,346.4 L-1.8,347.0 L-0.0,347.9 L1.9,347.6 L3.8,347.8 L3.8,347.0 L6.2,346.9 L7.6,348.8 L8.9,350.8 L11.0,351.6 L13.1,350.3 L14.2,351.8 L15.0,353.4 L16.2,356.1 L19.0,356.9 M-18.0,322.8 L-16.3,322.8 L-14.6,322.9 L-12.8,323.0 L-11.1,323.2 L-8.2,323.1 M-18.3,329.8 L-16.7,329.8 L-15.0,329.6 L-13.3,329.8 L-11.7,330.0 L-10.0,329.8 L-8.3,329.7 L-6.7,329.6 L-5.0,329.8 L-3.4,329.9 L-1.7,329.9 L-0.0,329.8 M-8.2,318.0 L-8.2,320.2 L-8.5,322.4 L-8.1,323.9 L-8.3,325.9 L-8.5,327.9 L-8.3,329.8 M-7.0,318.0 L-7.0,320.6 L-5.9,321.8 L-4.9,323.1 L-3.1,324.2 L-1.4,325.7 L-0.0,325.6 M-0.0,324.9 L1.6,325.0 L3.2,324.7 L4.8,324.6 L6.4,324.7 L8.0,324.9 L9.6,324.8 M9.6,318.0 L9.6,319.7 L9.6,321.4 L9.5,323.1 L9.8,324.8 L9.7,326.4 L9.5,328.1 L9.7,329.8 L9.6,331.5 M0.0,324.8 L0.1,326.4 L-0.0,328.1 L-0.1,329.8 L-0.0,331.3 L1.6,331.6 L3.2,331.4 L4.8,331.4 L6.4,331.4 L8.0,331.4 L9.6,331.5 M-4.1,329.8 L-4.3,331.4 L-4.4,333.1 L-4.2,334.7 L-4.3,336.3 L-4.2,337.9 L-4.0,339.6 L-5.2,341.6 L-5.2,343.5 L-5.2,345.5 M-12.3,329.8 L-12.5,331.5 L-12.6,333.2 L-12.4,334.7 L-11.4,336.1 L-9.9,336.9 L-8.7,338.1 L-7.5,339.3 L-6.4,340.6 L-5.0,341.6 M-0.0,331.3 L2.7,331.5 L2.7,333.1 L2.6,334.7 L2.6,336.4 L2.9,338.0 L2.5,339.6 L2.8,341.3 L2.8,342.9 L2.8,344.5 L2.6,346.2 L2.7,347.8 M-4.2,338.3 L-2.5,338.2 L-0.9,338.4 L0.8,338.1 L2.4,338.4 L4.1,338.2 L5.8,338.3 L7.4,338.4 L9.1,338.2 L10.7,338.4 L12.4,338.2 M12.3,331.5 L12.5,333.2 L12.5,334.9 L12.3,336.5 L12.4,338.2 M10.9,338.2 L11.2,339.9 L11.2,341.6 L10.8,343.3 L11.2,344.9 L11.0,346.8 L9.4,346.8 L7.7,346.6 L6.0,346.6 M9.6,323.1 L11.3,323.2 L13.0,323.1 L14.8,322.9 L16.5,323.1 L18.2,323.1 L19.9,323.1 M9.6,328.2 L11.4,328.2 L13.1,328.0 L14.8,328.2 L16.5,328.1 L18.3,328.2 L20.0,328.1 M12.4,333.0 L14.3,333.0 L16.1,333.2 L18.0,333.3 L19.8,333.0 L21.7,333.2 M12.4,338.3 L14.1,338.3 L15.8,338.1 L17.5,338.3 L19.2,338.1 L20.9,338.3 L22.6,338.2 M11.0,338.8 L13.1,339.1 L15.2,339.1 L15.1,342.5 L17.3,342.8 L19.3,343.7 L21.4,343.8 L23.4,343.9 L23.3,346.1 L23.7,348.3 L23.7,350.5 M18.9,318.0 L19.2,319.7 L19.7,321.4 L20.1,323.1 L19.9,325.2 L20.0,327.1 L21.8,327.2 L23.7,327.5 L25.5,327.3 L27.3,327.3 M21.0,332.2 L23.0,331.9 L25.0,332.1 L27.1,332.2 M19.8,327.3 L20.3,328.9 L20.7,330.5 L20.9,332.2 L22.6,334.7 L22.7,336.9 L22.6,339.2 L24.7,339.1 L26.8,339.0 L28.9,339.0 L29.7,339.9 M22.5,339.1 L22.5,341.0 L22.7,343.0 L22.8,344.9 L25.1,345.0 L27.3,344.9 M23.5,345.0 L25.4,344.8 L27.4,345.0 L27.2,346.7 L26.8,348.2 L29.6,348.3 L29.6,349.7 M31.2,341.6 L31.0,343.5 L31.2,345.5 L31.2,347.4 L31.2,349.3 M35.3,341.6 L35.4,343.3 L35.7,344.9 L36.0,346.6 L35.9,348.5 L34.1,348.3 L32.3,348.3 L32.5,349.5 M35.9,348.3 L38.0,348.4 L40.0,348.8 L40.8,348.8 M29.0,339.0 L30.6,339.0 L32.3,339.1 L33.9,338.9 L35.6,338.9 L37.2,339.1 L38.8,339.0 L40.5,338.9 M28.6,341.6 L30.2,341.7 L31.9,341.5 L33.6,341.5 L35.2,341.5 L36.9,341.6 M36.9,341.7 L38.5,341.4 L40.1,341.2 L41.7,341.4 L43.3,341.9 L44.9,343.4 M38.7,341.5 L40.2,343.5 L41.5,346.5 M37.7,338.9 L39.5,338.9 L41.3,338.8 L43.1,339.1 L44.9,338.9 L46.7,339.0 L48.5,339.0 M30.2,338.2 L32.4,336.5 L34.3,336.1 L35.9,335.0 L37.5,335.7 L39.2,335.8 L40.7,334.1 L42.0,332.2 M32.6,330.3 L32.5,332.6 L32.3,334.8 L31.8,336.9 M36.4,330.3 L36.0,332.5 L36.2,334.7 M42.1,329.8 L42.1,331.7 L42.1,333.7 M42.1,329.6 L43.9,329.7 L45.7,329.7 L47.4,329.6 L49.2,329.8 L50.1,331.0 L49.6,333.5 M42.1,333.9 L43.8,333.7 L45.4,333.9 L47.0,333.8 L48.6,333.7 M46.2,333.6 L45.8,334.2 L43.6,335.8 L41.7,336.4 L40.1,337.4 M28.2,328.9 L30.1,328.9 L32.0,329.0 M26.2,321.9 L25.2,323.8 L26.4,325.5 L27.3,327.3 M33.2,330.3 L34.8,330.5 L36.4,330.1 L38.0,330.3 M51.9,324.7 L51.9,326.7 L51.9,328.6 L51.5,331.5 M52.1,328.5 L54.4,329.7 L54.2,331.0 M53.0,324.8 L53.2,326.7 L53.2,328.6 M55.2,324.2 L55.4,326.1 L55.3,327.9 M27.1,332.5 L27.7,330.8 L28.2,329.0 M31.7,364.3 L31.2,365.8 L31.2,367.5 L30.6,369.0 L30.2,370.3 L28.5,370.7 L26.9,371.4 L28.4,373.6 L26.0,375.2 M30.0,373.7 L30.2,372.1 L30.2,370.5 M26.2,369.2 L27.6,371.0 M53.7,380.2 L53.1,382.0 L52.3,385.1 L53.2,387.9 L54.9,388.3 L56.7,388.7 L58.5,389.2 L60.3,390.1 L59.7,392.9 L59.9,395.1 L60.5,397.1 L61.1,398.5 M44.5,398.0 L47.0,399.7 L48.9,400.6 L49.9,402.1 L50.8,403.4 L51.9,404.6 L53.5,405.4 L55.2,406.2 L56.7,407.2 M56.8,407.2 L57.1,405.6 L57.2,403.9 L57.2,402.3 L56.8,400.6 L57.3,398.7 L58.9,398.1 L60.4,397.1 M56.7,407.3 L54.9,408.0 L53.2,408.9 L52.6,411.0 L51.9,413.1 L52.8,415.5 L54.4,416.0 L55.8,416.5 L56.0,418.8 L57.4,419.0 L58.4,421.5 L58.1,423.6 L58.1,425.8 L57.9,427.9 L57.6,430.0 L57.4,431.1 M58.4,421.4 L59.9,420.1 L61.4,418.7 L62.8,417.4 L64.0,418.7 L65.0,420.3 L66.0,421.7 L67.1,423.1 L69.9,423.7 L70.4,425.8 L70.5,427.8 L72.8,427.9 L73.1,429.7 L73.4,431.5 L73.1,433.4 L73.7,435.0 L73.9,436.7 L76.8,438.0 L78.1,440.9 M57.5,431.0 L58.9,432.4 L59.0,434.2 L59.3,435.9 L60.0,437.4 L60.8,438.8 L63.6,437.6 L65.3,437.6 L66.9,438.0 L69.1,440.1 L70.7,440.9 L72.3,441.7 L74.0,442.6 M72.9,427.8 L71.7,428.9 L70.5,429.9 L69.3,431.0 L68.2,432.3 L67.0,433.3 L67.1,435.6 L67.0,437.9 M67.0,433.3 L69.1,433.3 L71.2,433.0 L73.3,434.2 M70.6,386.2 L70.2,388.1 L69.5,389.9 L69.1,391.9 L69.8,391.7 L68.1,393.2 L66.5,394.7 L64.9,396.2 L63.1,397.5 L61.1,398.5 M74.3,390.4 L74.4,392.1 L74.7,393.8 L74.6,395.5 L74.7,397.1 M78.7,390.9 L78.7,392.8 L79.0,394.7 L78.8,396.6 M82.3,393.5 L81.6,395.1 L80.9,396.4 L78.8,396.7 L76.1,397.3 L73.3,398.1 L70.5,398.8" stroke-width="1.2"/><path d="M197.4,400.3 L199.2,399.9 L200.6,401.0 L201.1,402.9 L199.8,404.6 L198.4,404.8 L197.1,403.5Z M193.9,406.3 L194.9,408.6 L195.9,411.4 L195.9,413.0 L196.2,414.5 L196.5,415.0 L196.1,412.2 L194.7,409.8 L194.3,408.1 L194.4,406.6Z M201.1,416.7 L201.6,419.0 L202.2,420.8 L201.9,422.7 L202.5,424.5 L201.5,423.2 L201.1,421.5 L200.9,419.9 L201.1,418.3Z M172.0,378.4 L173.7,377.2 L173.8,378.4 L172.8,379.5Z M152.3,389.6 L152.7,387.8 L153.4,386.2 L154.4,388.8 L153.8,390.1Z M203.2,393.0 L204.2,395.6 L203.5,396.3 L203.1,394.6Z M194.0,299.4 L195.7,299.6 L196.9,297.7 L198.4,297.9 L198.9,298.7 L197.1,299.6 L195.1,299.8Z M200.8,295.8 L202.5,294.7 L204.1,296.3 L202.8,297.3Z M170.6,300.5 L172.2,300.4 L172.2,301.3 L170.8,302.2Z M234.1,322.2 L236.4,322.1 L238.7,322.2 L239.1,324.9 L236.5,326.4 L234.6,324.7Z M255.2,322.0 L257.9,322.1 L259.6,322.2 L261.2,322.1 L262.8,322.2 L261.4,324.0 L258.6,323.3 L255.8,323.9Z M297.1,313.9 L298.7,312.9 L300.1,311.9 L301.4,310.8 L303.0,309.5 L304.2,307.8 L305.6,307.2 L304.2,309.6 L302.8,311.9 L301.6,313.2 L300.2,314.1 L298.0,314.4Z M292.2,338.2 L292.4,339.1 L291.3,338.4Z M25.9,321.8 L27.8,320.7 L29.7,319.7 L31.8,318.5 L33.9,319.0 L35.7,319.9 L36.6,322.3 L33.8,322.5 L31.1,321.5 L28.3,322.1Z M31.8,324.3 L32.2,326.2 L32.1,328.1 L32.4,330.2 L34.0,330.2 L34.3,327.4 L35.5,325.2 L36.2,323.4 L35.3,323.5 L33.5,324.1Z M36.5,322.9 L38.4,323.0 L40.7,323.4 L43.0,324.0 L42.1,325.6 L40.5,327.7 L39.7,327.9 L39.4,326.0 L38.1,325.6 L38.3,323.9Z M38.0,330.1 L39.7,330.3 L41.4,329.8 L44.2,328.2 L42.2,328.6 L39.4,329.6Z M43.1,327.5 L46.3,327.4 L48.2,327.2 L47.8,326.2 L44.9,326.6 L43.5,327.2Z M16.6,309.8 L19.3,310.0 L20.1,312.1 L20.0,314.0 L19.8,315.7 L19.0,313.7 L17.3,312.1Z M-8.3,297.4 L-6.7,298.2 L-5.1,298.1 L-3.5,297.8 L-1.7,297.7 L-0.3,296.8 L1.3,296.2 L2.8,294.6 L0.6,295.2 L-1.7,294.1 L-3.5,295.4 L-5.6,296.1 L-7.4,296.3Z M-19.2,290.6 L-18.4,288.8 L-16.4,288.8 L-15.3,288.2 L-13.4,287.6 L-11.5,287.1 L-9.0,287.7 L-9.1,289.2 L-10.6,290.1 L-12.3,290.4 L-13.9,291.6 L-15.6,291.5 L-17.0,290.3Z M-0.9,301.5 L0.8,301.3 L2.6,301.1 L4.1,300.2 L6.8,300.2 L4.8,301.2 L2.7,301.6 L0.9,301.2Z M11.8,304.6 L13.4,303.1 L12.5,304.0Z M14.5,313.8 L16.0,312.0 L16.8,313.8Z M54.2,311.0 L56.3,309.1 L56.7,311.2Z M58.1,314.3 L59.7,314.0 L58.0,313.9Z M50.2,315.1 L52.7,314.4 L51.9,315.3Z M-3.4,347.1 L-1.4,344.9 M-2.4,331.6 L-1.4,330.3 L-2.2,330.9Z M17.2,300.9 L19.3,301.2 M13.7,309.5 L15.6,308.9 M15.3,306.5 L17.2,305.4 M19.4,307.2 L21.4,305.9 M23.4,312.1 L25.5,311.3 M24.9,314.7 L26.9,313.8 M27.6,317.5 L29.7,316.7 M32.4,312.9 L34.5,311.6 M37.2,316.9 L39.4,316.3 M45.9,316.8 L47.7,317.7 M48.1,308.3 L50.4,307.6 M52.6,305.5 L55.3,304.0 M57.8,306.7 L59.7,306.2 M62.1,311.2 L64.3,310.3 M65.8,308.6 L67.7,307.6 M8.2,307.8 L9.6,306.6 M5.4,304.3 L7.6,303.7 M6.8,293.5 L8.9,292.3 M17.1,295.8 L19.3,295.3 M20.4,292.1 L22.8,291.9 M15.4,291.5 L17.2,289.7 M4.0,289.1 L6.2,288.6 M-1.2,292.3 L0.6,290.7 M-4.9,294.5 L-2.8,293.3 M-9.6,294.0 L-7.7,292.8 M9.3,296.5 L11.7,295.8 M21.1,299.2 L22.4,297.5 M28.3,288.5 L30.4,287.7" stroke-width="1.2"/><path d="M219.3,322.1 L217.5,320.2 L214.6,318.3 L216.4,316.3 L217.1,313.8 L218.4,312.6 L219.8,311.1 L222.4,310.9 L221.8,308.5 L224.3,308.0 L225.8,306.7 L228.0,306.7 L228.7,304.6 L230.3,302.7 L231.7,300.3 M203.5,303.8 L205.2,303.4 L206.6,303.5 L208.8,303.5 L211.6,304.9 L214.4,305.7 M195.7,315.5 L197.0,316.7 L198.5,317.3 L200.7,318.2 L202.1,320.0 L200.3,320.5 L199.1,321.6 L198.5,322.1 M208.5,313.6 L209.5,316.3 L211.0,318.9 L209.5,320.5 M29.0,350.8 L28.7,349.2 L29.0,347.4 L28.7,345.7 L27.5,343.8 L27.9,341.8 L28.9,340.1 L29.6,338.3 L29.1,335.1 L27.9,332.3 L27.6,330.2 L27.2,328.2 L26.3,325.4 L24.8,324.8" stroke-width="1.3" stroke-dasharray="2.5 2"/></g>
<clipPath id="landc"><path d="M145.5,340.1 L144.9,338.3 L143.2,337.6 L141.0,338.2 L141.3,335.4 L140.3,335.2 L141.3,332.8 L141.7,329.9 L140.4,327.8 L142.5,326.5 L145.5,327.4 L148.2,327.2 L151.2,327.5 L151.3,325.4 L151.8,322.8 L150.5,320.9 L148.8,320.7 L147.7,319.8 L147.1,319.2 L149.4,317.9 L150.9,318.8 L150.9,316.9 L151.9,317.7 L153.7,317.1 L155.3,316.0 L155.7,314.8 L157.7,313.8 L158.8,313.2 L159.8,312.1 L160.4,311.1 L161.8,310.2 L163.1,310.4 L165.1,310.1 L165.8,309.6 L165.2,308.0 L163.8,306.8 L165.3,305.4 L165.4,304.5 L167.9,303.3 L168.0,304.9 L168.0,305.1 L166.7,306.9 L167.6,308.2 L168.7,309.5 L170.7,309.1 L172.9,310.0 L175.7,309.5 L177.4,308.7 L179.2,308.7 L181.1,308.7 L182.3,307.4 L182.7,305.5 L183.7,304.5 L184.5,303.8 L187.1,304.2 L187.0,302.2 L185.6,299.1 L188.1,299.4 L190.2,301.5 L192.2,300.0 L194.9,300.9 L193.6,299.0 L191.6,298.2 L189.3,298.2 L187.4,299.7 L185.0,299.8 L183.3,298.0 L184.1,296.2 L182.7,294.8 L184.4,292.8 L186.3,292.1 L186.5,290.2 L188.3,291.8 L186.7,289.0 L182.3,289.2 L182.7,291.5 L181.2,293.8 L179.5,295.8 L177.4,296.6 L176.6,300.1 L178.4,299.3 L179.0,300.6 L176.9,301.0 L177.1,303.3 L176.3,305.4 L174.5,305.4 L173.4,306.8 L171.3,307.3 L170.5,306.0 L170.0,303.3 L170.1,299.9 L169.3,301.8 L166.5,300.3 L164.6,301.5 L163.7,301.6 L162.1,301.1 L161.8,299.2 L160.3,297.8 L160.7,296.3 L162.4,294.9 L164.7,292.2 L169.1,293.6 L168.9,291.5 L169.8,288.8 L172.2,287.2 L173.5,286.2 L174.7,284.7 L176.8,283.8 L179.8,283.1 L182.7,282.8 L184.7,282.2 L186.7,281.0 L189.3,279.0 L192.7,280.1 L195.5,281.2 L196.3,283.3 L199.1,284.5 L201.2,284.5 L203.1,284.7 L204.9,285.4 L207.2,285.2 L208.4,286.8 L210.4,287.8 L208.9,289.4 L206.6,290.3 L204.8,290.0 L203.1,288.4 L201.2,289.0 L199.7,288.0 L200.2,290.3 L201.7,291.7 L203.4,291.7 L204.5,292.3 L206.6,292.4 L208.1,291.4 L209.3,289.9 L211.5,289.1 L214.3,289.2 L214.4,287.0 L213.7,285.1 L215.5,284.6 L217.2,285.5 L219.2,286.4 L221.2,285.5 L223.2,285.0 L225.3,285.9 L227.5,285.7 L229.5,284.8 L231.7,285.1 L233.7,285.1 L235.7,284.0 L238.1,282.0 L240.1,282.6 L242.1,284.2 L245.4,283.0 L246.3,285.6 L249.3,284.4 L248.3,281.9 L245.3,280.9 L246.7,280.2 L248.9,278.4 L251.0,277.9 L253.7,277.8 L253.5,280.0 L253.3,281.8 L253.6,284.0 L254.8,286.3 L252.9,288.3 L254.1,286.7 L255.5,286.7 L258.1,283.8 L256.9,282.2 L254.8,280.7 L256.8,280.2 L257.3,278.0 L260.1,279.8 L262.1,279.2 L264.0,278.4 L264.8,276.2 L266.4,275.5 L268.2,277.3 L269.6,275.3 L271.7,276.8 L274.6,276.1 L273.9,274.4 L275.8,273.0 L278.1,274.0 L279.8,274.1 L281.5,273.4 L283.2,272.8 L284.9,272.3 L286.6,272.0 L288.3,271.5 L290.2,272.3 L291.8,271.6 L293.6,270.4 L295.5,269.6 L297.7,270.1 L299.8,269.9 L301.5,270.9 L301.4,272.2 L303.5,273.0 L305.4,272.6 L307.5,270.4 L309.0,271.5 L310.9,273.0 L309.1,274.4 L309.8,276.9 L311.9,276.1 L314.1,276.0 L316.0,277.5 L318.2,278.4 L320.0,278.4 L321.8,276.9 L323.7,278.0 L325.8,277.4 L327.8,276.7 L329.1,278.6 L331.8,278.1 L332.7,281.1 L334.3,279.6 L336.0,279.6 L338.2,281.0 L340.3,279.3 L342.1,280.6 L343.9,280.3 L346.4,280.6 L347.2,278.2 L348.9,278.2 L350.6,278.2 L352.3,279.5 L354.0,279.0 L355.6,280.1 L357.4,280.3 L359.4,279.0 L361.0,280.2 L363.7,280.3 L365.5,280.0 L367.4,280.0 L369.2,281.6 L371.1,281.6 L372.9,281.9 L375.1,281.1 L376.9,283.6 L378.7,283.9 L380.4,282.9 L382.2,283.3 L384.0,282.5 L385.8,282.1 L387.6,282.2 L389.3,283.4 L391.4,282.8 L393.4,283.8 L395.6,282.9 L397.8,282.9 L399.6,284.5 L402.3,285.2 L404.7,284.1 L406.1,286.1 L408.3,285.7 L410.1,286.3 L411.5,288.3 L413.9,287.4 L415.3,288.4 L416.5,288.6 L415.2,290.0 L414.1,290.7 L412.2,292.7 L410.1,292.5 L408.3,291.5 L406.3,291.7 L405.1,289.5 L402.6,291.3 L399.7,291.9 L398.8,293.4 L398.5,295.6 L396.4,296.3 L394.2,296.5 L393.0,298.1 L390.8,298.3 L389.3,300.3 L387.2,300.2 L385.3,298.3 L383.2,299.4 L380.2,299.6 L379.1,301.2 L377.9,303.0 L379.2,304.1 L378.8,305.4 L377.3,308.0 L375.9,309.3 L374.9,311.3 L373.0,311.6 L371.4,313.0 L370.7,314.5 L369.3,312.1 L369.1,310.0 L368.8,307.9 L368.4,306.2 L369.1,304.6 L370.6,302.9 L372.4,302.6 L373.3,301.1 L374.8,300.0 L376.7,299.7 L377.9,297.7 L379.7,296.4 L377.6,296.3 L375.1,295.8 L374.1,297.7 L372.0,297.6 L370.2,297.2 L369.1,298.3 L367.3,298.8 L366.4,299.6 L364.9,300.9 L363.1,301.1 L361.0,300.7 L358.9,300.5 L356.8,300.5 L354.8,301.1 L353.0,301.5 L351.6,301.1 L350.0,302.4 L347.8,302.8 L346.6,304.8 L344.9,306.0 L342.5,306.7 L341.0,308.2 L343.6,309.8 L345.8,310.4 L347.6,311.5 L349.4,312.8 L347.9,315.5 L347.5,317.2 L347.9,319.1 L346.0,319.8 L345.3,321.6 L343.7,322.6 L342.4,323.9 L341.5,325.4 L340.3,326.7 L339.1,327.8 L337.5,328.4 L335.2,327.8 L334.2,329.4 L332.7,331.2 L330.8,333.5 L329.6,334.6 L331.6,335.8 L332.7,338.6 L332.4,340.4 L330.4,341.3 L328.8,342.5 L328.5,341.7 L329.1,339.8 L328.2,338.3 L328.6,337.2 L326.4,336.5 L326.7,334.3 L325.4,333.2 L323.8,333.8 L322.4,334.7 L320.8,335.0 L322.3,334.0 L322.8,332.1 L320.9,331.6 L318.8,333.3 L316.4,334.4 L316.3,335.7 L317.9,337.3 L318.1,337.9 L320.5,336.7 L323.2,337.9 L320.8,338.8 L319.8,340.3 L318.5,341.6 L320.3,342.6 L320.8,345.4 L322.5,347.0 L322.4,348.8 L321.7,349.4 L322.0,350.2 L321.7,352.6 L320.3,354.8 L318.7,357.3 L317.6,359.5 L315.5,361.2 L312.6,362.1 L311.5,363.0 L310.5,363.0 L308.5,363.9 L305.9,364.7 L306.5,366.1 L305.2,365.0 L303.6,364.2 L301.6,365.5 L301.6,367.2 L300.1,368.5 L299.6,370.3 L299.9,372.0 L301.2,373.8 L303.9,374.2 L303.9,377.0 L305.9,379.5 L304.9,382.4 L302.2,382.8 L300.2,382.7 L301.1,385.1 L299.7,385.8 L299.4,384.0 L297.9,383.5 L297.1,382.4 L296.7,380.6 L294.9,380.1 L293.6,379.1 L293.0,377.2 L291.6,377.9 L290.8,379.7 L290.2,381.3 L289.6,383.4 L291.0,385.1 L293.1,386.4 L292.8,387.8 L294.3,388.4 L294.7,390.2 L295.9,392.3 L297.7,393.6 L296.6,396.2 L297.5,397.6 L296.4,398.6 L295.3,397.1 L292.8,396.0 L293.3,393.3 L291.2,391.7 L293.0,389.0 L291.4,387.5 L289.8,386.7 L289.0,383.9 L291.0,382.1 L291.2,379.5 L288.4,377.3 L289.7,375.3 L289.5,373.4 L288.2,372.1 L286.6,372.2 L285.4,374.0 L284.3,373.6 L284.7,370.9 L283.5,369.5 L283.1,367.7 L281.4,365.8 L280.5,364.2 L280.5,362.9 L279.1,362.7 L277.6,363.3 L275.9,363.7 L274.2,364.4 L273.1,366.4 L271.0,368.1 L270.1,369.6 L268.9,370.8 L267.5,372.7 L265.8,373.4 L265.0,375.3 L264.7,377.8 L264.2,379.5 L264.3,381.1 L263.8,383.1 L262.6,384.9 L261.3,385.8 L260.5,387.0 L259.3,385.6 L258.7,382.8 L257.8,380.7 L256.9,377.8 L256.1,376.2 L256.0,374.4 L255.3,371.8 L254.9,370.1 L254.6,368.5 L254.4,366.0 L253.9,364.3 L253.2,363.0 L253.0,364.4 L251.5,365.4 L250.2,364.4 L249.0,363.0 L250.5,362.8 L249.2,362.0 L247.7,361.0 L246.8,359.0 L245.6,357.7 L242.7,357.7 L240.7,357.8 L238.8,357.7 L235.7,358.1 L232.8,357.1 L232.1,354.8 L231.0,355.0 L228.9,355.7 L226.7,355.3 L224.6,353.5 L222.8,351.5 L221.3,349.5 L219.9,350.0 L219.6,351.4 L220.7,353.0 L221.8,355.5 L222.8,356.8 L223.8,358.1 L224.7,357.1 L224.9,359.0 L226.1,359.5 L227.9,359.4 L230.1,357.6 L231.2,356.4 L231.3,358.8 L233.0,360.7 L234.8,360.9 L235.8,362.8 L234.9,365.7 L233.2,367.5 L231.9,369.4 L229.9,370.8 L227.9,371.6 L226.2,373.0 L224.2,375.2 L222.6,375.7 L221.3,376.6 L220.0,377.2 L218.4,378.3 L216.5,378.7 L214.4,379.4 L213.5,379.1 L213.3,376.9 L212.6,374.4 L212.5,372.5 L211.2,369.5 L209.7,367.1 L208.6,365.7 L207.9,364.2 L207.4,362.6 L206.9,360.9 L205.1,358.4 L204.1,357.0 L203.4,355.5 L202.2,353.2 L201.8,353.3 L201.5,350.8 L201.2,353.5 L200.1,352.4 L198.9,350.1 L198.2,348.1 L200.7,347.8 L201.6,345.2 L202.8,343.3 L203.5,340.8 L203.4,338.9 L202.7,339.2 L201.2,338.3 L198.9,339.7 L196.4,338.6 L194.4,339.9 L192.7,338.5 L191.4,337.2 L189.8,336.0 L190.6,334.1 L189.9,333.2 L190.1,332.6 L189.5,331.8 L188.0,331.3 L186.4,331.8 L185.3,332.1 L185.9,333.2 L184.8,334.0 L185.5,334.8 L186.8,336.4 L185.0,336.7 L185.2,339.3 L184.4,339.6 L183.8,338.4 L182.7,336.9 L183.3,336.1 L182.1,335.0 L181.3,333.5 L180.0,332.5 L180.6,330.6 L179.5,329.0 L177.8,327.9 L175.5,327.4 L174.3,325.4 L173.2,324.6 L172.4,324.6 L172.3,323.9 L170.4,324.1 L170.2,325.7 L171.0,326.5 L172.5,327.2 L173.0,329.5 L175.3,330.0 L175.8,331.2 L177.7,331.5 L178.7,332.9 L179.0,333.4 L177.4,332.6 L176.4,333.6 L177.0,334.9 L175.8,336.3 L174.9,336.5 L175.5,335.3 L175.0,333.3 L174.4,332.4 L173.2,331.9 L172.5,330.6 L170.8,330.1 L168.9,329.1 L167.8,328.2 L167.6,326.6 L166.0,326.0 L164.2,327.0 L162.5,327.8 L160.7,327.7 L159.5,327.2 L158.0,327.9 L157.8,329.6 L156.2,330.8 L154.7,332.1 L153.4,333.8 L153.9,335.4 L152.5,337.2 L151.0,338.9 L150.3,338.8 L147.6,339.1 L146.2,339.3Z M144.9,340.1 L144.6,341.4 L144.3,343.6 L143.2,344.2 L140.3,345.7 L139.7,348.4 L140.1,349.3 L139.5,351.3 L137.5,352.9 L135.4,354.0 L133.5,356.2 L133.0,359.3 L131.4,360.6 L130.8,362.9 L129.8,365.2 L130.5,367.7 L131.0,370.1 L130.6,373.2 L129.9,375.5 L129.5,375.7 L130.7,377.7 L130.7,379.5 L132.1,381.1 L133.6,382.6 L134.9,384.5 L135.1,386.7 L136.2,388.1 L137.8,389.4 L139.8,390.5 L141.6,391.6 L143.1,392.9 L145.9,391.6 L147.6,391.9 L149.2,392.3 L150.8,392.7 L153.4,390.8 L155.2,390.6 L157.0,390.2 L159.6,390.0 L160.8,391.4 L161.8,393.5 L163.2,393.4 L165.4,392.7 L165.8,393.9 L166.6,396.2 L167.1,398.9 L166.2,400.4 L165.5,402.3 L166.7,404.7 L168.0,406.4 L169.8,408.6 L170.2,410.7 L171.1,412.3 L171.5,414.0 L172.3,416.5 L172.2,419.0 L172.0,421.0 L170.8,423.4 L170.2,425.4 L169.4,427.4 L169.6,429.1 L169.8,430.8 L170.9,432.8 L171.6,434.9 L172.2,436.8 L173.6,438.4 L173.4,440.5 L173.6,442.6 L175.2,442.6 L176.8,442.6 L178.4,442.6 L180.0,442.6 L181.6,442.6 L183.2,442.6 L184.9,442.6 L186.5,442.6 L188.1,442.6 L189.7,442.6 L191.3,442.6 L192.9,442.6 L194.5,442.6 L196.2,442.6 L197.8,442.6 L199.4,442.6 L201.0,442.6 L202.6,442.6 L202.6,440.9 L202.2,439.2 L202.7,437.5 L201.5,434.4 L202.6,433.2 L204.3,432.4 L205.2,430.2 L207.5,429.1 L209.4,426.7 L209.4,424.1 L209.3,422.4 L209.9,420.7 L209.5,418.2 L209.2,416.0 L208.0,414.1 L207.7,412.0 L207.2,408.8 L208.6,407.3 L208.8,405.0 L211.2,403.6 L211.9,401.1 L213.8,399.0 L215.8,396.9 L217.6,394.5 L219.9,392.2 L220.2,390.4 L221.0,388.9 L222.8,386.3 L223.7,383.6 L224.6,381.0 L222.9,380.7 L221.3,381.8 L219.3,382.2 L217.2,382.6 L215.1,382.9 L213.7,381.5 L212.7,381.1 L212.4,379.7 L211.0,378.0 L209.9,376.1 L208.8,374.3 L207.9,373.2 L207.2,370.3 L205.6,369.0 L205.3,366.8 L205.1,365.1 L204.5,363.5 L203.4,362.0 L202.9,360.2 L202.5,359.3 L201.0,356.9 L200.4,354.7 L200.1,353.1 L198.9,351.8 L198.7,350.2 L198.2,347.9 L196.4,347.3 L195.2,347.9 L193.7,348.1 L191.5,348.2 L190.0,347.5 L188.3,347.4 L186.4,347.0 L185.3,345.6 L183.4,345.4 L181.7,346.3 L181.4,348.6 L179.6,349.8 L177.6,348.7 L175.1,347.1 L174.5,346.1 L171.8,344.7 L169.6,344.4 L167.7,343.8 L168.3,341.6 L168.8,338.6 L167.5,338.1 L167.0,337.6 L165.3,338.1 L163.1,338.0 L160.4,338.5 L157.7,338.8 L154.9,339.1 L152.7,340.0 L150.7,341.9 L148.5,341.6 L146.2,340.1Z M221.9,420.6 L222.3,422.8 L223.1,424.9 L223.3,426.6 L222.3,429.1 L222.2,431.3 L221.7,433.4 L220.4,435.4 L220.4,437.6 L220.1,439.3 L219.5,440.9 L219.2,442.6 L217.6,442.6 L216.0,442.6 L214.4,442.6 L214.2,440.6 L214.2,438.6 L214.3,436.8 L214.4,435.0 L215.0,433.3 L214.7,431.2 L214.1,428.8 L215.9,428.4 L217.2,427.3 L218.2,425.6 L219.3,423.9 L221.3,421.8Z M263.8,389.6 L263.6,387.9 L263.8,386.2 L264.7,383.8 L266.2,386.1 L266.9,388.8 L265.6,390.0 L264.4,390.4Z M145.6,316.4 L148.7,316.0 L150.4,315.8 L152.2,315.5 L153.8,314.9 L155.8,314.4 L155.6,312.2 L153.9,310.6 L153.5,309.1 L151.9,307.7 L150.9,305.1 L148.5,305.7 L150.0,305.3 L150.4,304.3 L149.1,301.7 L146.4,301.8 L147.2,304.6 L145.7,304.7 L146.4,306.6 L146.7,308.5 L148.8,308.3 L149.5,310.2 L146.8,311.8 L147.9,313.3 L146.3,313.6 L148.8,314.3 L147.6,315.0Z M145.5,312.6 L145.2,310.6 L145.7,308.6 L145.1,308.3 L144.3,308.7 L141.8,308.3 L139.7,309.3 L140.0,310.7 L139.2,312.5 L140.4,313.9 L142.4,313.1 L144.6,312.9Z M123.0,293.3 L121.5,292.6 L120.4,291.6 L122.2,291.2 L119.9,290.1 L121.7,288.7 L124.5,288.5 L126.5,289.1 L128.5,288.5 L131.4,288.5 L133.8,289.1 L135.0,291.3 L132.8,292.3 L129.9,292.7 L127.1,294.2 L125.1,293.8Z M52.2,268.1 L54.1,268.0 L55.0,266.3 L56.7,266.1 L58.2,265.0 L59.8,264.8 L61.6,265.3 L63.0,264.0 L64.8,264.2 L66.3,263.6 L68.0,263.3 L69.7,263.0 L71.3,262.4 L73.1,262.8 L74.6,261.6 L76.3,261.6 L77.9,261.2 L79.5,261.3 L81.2,261.3 L82.9,261.8 L84.4,261.0 L86.0,260.5 L87.7,260.5 L89.4,261.2 L90.9,259.9 L92.6,260.4 L94.3,260.1 L96.0,260.4 L97.6,259.9 L99.3,260.3 L100.9,260.0 L102.6,260.2 L104.3,260.4 L105.9,260.0 L107.6,259.4 L109.3,259.3 L110.8,260.4 L112.5,260.0 L114.1,259.7 L115.7,260.8 L117.3,260.4 L118.9,260.7 L120.5,261.3 L122.4,261.0 L124.1,261.4 L125.8,262.4 L127.7,261.7 L129.5,262.7 L131.4,262.1 L133.2,263.0 L135.0,263.2 L136.7,262.6 L135.0,263.4 L133.4,264.5 L131.8,265.5 L130.3,266.1 L128.9,267.1 L127.9,268.4 L127.3,270.3 L125.5,272.1 L127.9,273.4 L126.0,274.5 L124.7,276.1 L123.2,278.7 L122.0,279.8 L120.4,280.0 L121.9,281.0 L123.1,282.4 L121.0,283.1 L118.8,283.3 L117.1,283.7 L115.6,285.1 L113.8,285.3 L112.0,286.1 L109.9,285.7 L107.5,285.6 L106.7,287.5 L104.9,288.3 L103.8,290.0 L102.0,290.8 L99.9,290.3 L98.3,291.2 L97.1,293.8 L95.8,295.3 L95.0,297.1 L93.3,299.6 L91.2,298.7 L88.4,297.9 L87.2,296.9 L85.5,296.3 L84.3,295.2 L83.3,293.9 L81.8,292.2 L80.9,289.4 L79.3,286.8 L80.3,284.7 L83.0,283.5 L81.4,282.7 L79.9,281.8 L77.6,282.0 L76.9,280.4 L75.7,277.9 L75.0,276.3 L74.3,274.8 L73.3,273.1 L71.5,273.2 L69.9,272.2 L68.0,273.0 L66.3,271.7 L64.6,272.5 L62.9,271.9 L61.2,273.0 L59.7,272.1 L57.7,271.4 L56.0,270.3 L54.0,270.0Z M165.4,329.8 L166.6,328.1 L167.1,329.6 L166.4,330.5 L165.3,330.6Z M164.9,331.7 L166.3,330.9 L167.0,332.1 L166.9,334.8 L166.0,334.6 L165.4,334.7 L165.4,333.1Z M170.6,336.5 L172.2,336.3 L174.7,335.9 L174.4,338.2 L174.4,338.7 L173.3,338.1 L170.5,337.3Z M186.0,341.1 L187.4,341.1 L189.8,341.0 L189.4,341.9 L187.5,341.9 L186.1,341.3Z M198.0,341.8 L199.2,341.1 L201.2,340.5 L200.3,341.5 L199.1,342.5Z M156.5,333.5 L157.7,333.5 L158.2,333.6 L157.9,334.0 L157.0,334.2Z M-78.6,290.9 L-76.3,288.2 L-73.5,289.0 L-71.6,288.4 L-69.7,288.7 L-72.1,289.2 L-72.6,287.0 L-74.4,286.3 L-75.8,286.0 L-74.4,285.3 L-72.1,282.7 L-70.0,282.1 L-67.7,282.0 L-65.7,280.7 L-63.3,280.1 L-61.4,280.3 L-59.6,281.8 L-56.9,282.0 L-55.0,282.1 L-53.0,281.4 L-51.3,282.9 L-49.4,282.3 L-47.5,281.9 L-45.7,282.4 L-43.6,282.7 L-41.4,282.4 L-39.5,283.7 L-37.4,283.8 L-35.3,284.0 L-33.2,284.4 L-30.4,283.8 L-28.4,282.9 L-26.1,283.3 L-23.9,282.7 L-21.5,282.7 L-19.5,284.8 L-17.6,282.2 L-15.9,282.6 L-14.2,282.8 L-12.8,285.1 L-10.9,284.7 L-9.2,285.2 L-7.2,284.2 L-5.6,285.2 L-4.0,286.5 L-2.0,284.3 L-0.3,284.6 L1.2,284.5 L3.1,285.6 L4.9,286.5 L6.5,285.5 L8.3,284.9 L10.0,285.5 L11.9,284.8 L13.2,287.4 L15.1,285.9 L17.2,285.4 L19.3,285.5 L22.9,286.5 L23.5,283.0 L25.1,285.0 L27.2,283.6 L29.1,284.2 L31.0,284.1 L32.4,287.1 L33.6,286.0 L34.5,284.3 L36.4,282.4 L38.0,284.3 L40.4,285.1 L40.5,287.1 L38.4,287.2 L36.5,288.2 L35.0,289.8 L34.6,291.5 L31.9,290.9 L30.2,291.7 L29.8,294.7 L27.6,294.8 L26.3,296.1 L23.9,296.3 L24.8,299.0 L23.4,301.0 L23.7,303.5 L25.5,304.7 L27.3,304.5 L28.8,305.0 L31.0,305.7 L33.0,306.9 L35.9,307.1 L37.8,306.8 L40.5,307.5 L39.9,309.4 L39.7,311.4 L40.9,312.5 L41.9,313.7 L44.5,313.9 L45.1,312.1 L44.6,310.4 L43.9,308.4 L46.2,308.2 L47.8,306.3 L48.2,303.2 L47.4,301.8 L44.6,300.6 L46.1,298.8 L46.3,295.7 L47.9,295.7 L49.5,296.0 L51.3,295.4 L53.5,296.0 L54.2,298.3 L56.7,298.6 L56.6,301.2 L59.6,302.5 L61.3,300.7 L63.1,300.1 L64.0,299.2 L65.0,300.9 L66.9,301.9 L68.9,303.4 L68.8,305.4 L69.7,308.0 L71.4,308.3 L74.1,308.9 L73.9,311.8 L75.9,313.3 L74.9,314.7 L72.7,314.2 L71.9,317.0 L69.8,317.1 L67.8,316.4 L65.6,315.4 L63.6,316.1 L61.5,316.4 L59.6,317.3 L58.1,318.9 L56.5,320.0 L55.1,321.2 L57.5,320.6 L58.9,318.9 L60.8,318.0 L62.6,318.4 L64.4,318.3 L63.5,319.7 L64.2,321.4 L64.9,323.0 L66.7,323.0 L68.4,323.2 L70.5,322.7 L69.1,324.2 L67.5,325.2 L65.6,325.4 L64.1,326.4 L62.2,327.4 L62.0,326.1 L64.3,324.0 L62.3,324.5 L60.7,324.8 L58.5,325.7 L56.5,327.0 L55.8,328.7 L56.7,330.5 L54.7,331.1 L53.1,331.7 L51.0,332.1 L51.4,334.3 L49.4,334.9 L48.9,336.8 L48.1,338.4 L49.3,341.4 L47.6,342.0 L45.8,343.7 L43.8,344.5 L41.5,346.6 L40.8,349.2 L41.6,350.9 L41.8,352.6 L42.7,354.2 L43.1,356.0 L42.3,357.8 L40.8,358.1 L40.0,355.6 L38.9,353.4 L38.9,351.1 L36.9,350.1 L35.3,350.5 L33.2,349.3 L31.1,349.3 L29.6,349.7 L29.8,351.7 L28.3,351.4 L26.2,350.7 L23.5,350.7 L21.2,351.7 L18.9,353.6 L19.0,356.8 L18.2,358.4 L18.8,360.1 L18.5,361.8 L18.0,363.6 L19.3,365.8 L20.3,368.6 L22.9,370.3 L24.5,369.6 L26.2,369.2 L27.2,368.4 L28.3,366.0 L28.6,365.1 L30.2,365.0 L31.8,364.2 L33.2,364.6 L32.5,367.7 L31.4,370.2 L31.3,372.9 L33.0,372.9 L34.5,374.1 L37.3,373.9 L38.4,375.3 L37.8,376.9 L38.1,378.6 L38.0,380.3 L37.9,381.8 L39.0,383.5 L39.8,385.6 L42.8,384.9 L44.1,384.6 L46.3,386.4 L47.8,385.9 L48.2,384.3 L49.2,383.1 L50.4,381.9 L52.3,381.1 L53.6,380.4 L54.2,381.9 L54.4,383.4 L55.6,384.5 L55.4,382.4 L56.5,380.8 L58.7,382.7 L60.5,383.0 L62.2,382.3 L65.0,383.0 L68.0,382.4 L68.3,383.8 L69.3,386.6 L70.4,386.8 L72.5,388.8 L74.6,390.7 L77.4,390.5 L80.2,391.2 L82.2,393.3 L82.7,395.6 L84.2,398.0 L84.4,400.5 L86.4,402.3 L88.5,401.6 L90.0,403.2 L91.9,404.7 L93.6,405.0 L95.4,405.1 L98.2,405.3 L100.0,407.1 L102.4,408.5 L104.7,409.8 L105.7,412.5 L105.6,414.1 L105.3,415.8 L103.9,416.8 L103.2,418.3 L101.8,419.8 L100.6,422.5 L99.7,424.0 L99.4,425.7 L99.6,427.9 L99.5,430.0 L99.1,431.7 L98.4,433.3 L97.7,435.9 L97.0,438.0 L95.1,439.2 L95.4,440.9 L95.4,442.6 L93.8,442.6 L92.1,442.6 L90.5,442.6 L88.8,442.6 L87.2,442.6 L85.5,442.6 L83.9,442.6 L82.3,442.6 L80.6,442.6 L79.0,442.6 L77.3,442.6 L75.7,442.6 L74.0,442.6 L72.4,442.6 L70.8,442.6 L69.1,442.6 L67.5,442.6 L65.8,442.6 L64.2,442.6 L62.5,442.6 L60.9,442.6 L59.3,442.6 L57.6,442.6 L56.0,442.6 L56.1,440.9 L56.5,439.2 L56.6,437.6 L56.5,435.8 L56.2,433.6 L56.0,431.6 L55.3,429.9 L53.9,429.2 L52.3,428.6 L51.2,427.3 L49.4,426.8 L48.8,425.0 L48.0,423.2 L47.4,421.2 L46.3,419.3 L45.4,417.5 L44.4,415.3 L43.8,413.0 L42.2,411.6 L41.1,409.7 L42.0,407.6 L43.2,405.5 L42.8,403.8 L42.6,402.3 L42.6,398.8 L44.5,398.0 L45.1,396.1 L46.4,394.6 L46.6,392.9 L46.5,391.2 L46.7,389.5 L45.2,387.2 L43.5,387.0 L42.1,388.3 L39.9,386.9 L38.5,385.5 L36.9,384.3 L35.4,383.6 L35.0,381.8 L33.8,380.1 L32.5,378.5 L30.4,377.8 L28.6,377.7 L27.1,376.8 L25.7,375.9 L25.0,374.1 L22.7,372.9 L19.9,374.3 L17.4,372.7 L15.6,372.0 L13.9,371.1 L11.9,370.9 L10.2,369.8 L8.7,368.5 L8.0,366.9 L7.8,364.4 L6.8,362.2 L5.7,360.1 L4.0,358.5 L3.2,357.1 L2.1,355.8 L0.9,354.7 L0.3,353.1 L-1.2,351.6 L-2.4,349.9 L-3.8,348.3 L-5.4,347.0 L-4.6,349.8 L-4.3,351.6 L-3.4,353.0 L-1.8,354.0 L-1.1,355.8 L-0.0,357.4 L0.9,359.1 L2.1,361.7 L0.6,361.0 L-0.7,359.9 L-1.4,358.4 L-2.7,356.6 L-4.5,355.2 L-5.5,352.5 L-6.1,350.8 L-6.7,349.0 L-7.3,347.3 L-8.2,345.6 L-10.5,343.4 L-13.7,342.4 L-14.4,340.6 L-15.4,339.0 L-15.7,336.7 L-17.0,335.5 L-17.7,334.0 L-18.2,332.5 L-18.2,329.8 L-18.3,328.2 L-18.4,326.3 L-18.2,324.5 L-18.3,322.8 L-18.7,320.9 L-18.9,319.9 L-16.9,319.0 L-17.2,316.9 L-18.7,314.8 L-20.8,314.8 L-21.4,314.3 L-24.0,312.6 L-26.2,312.3 L-27.2,310.1 L-26.5,305.8 L-29.9,306.7 L-31.4,306.0 L-33.2,305.1 L-33.0,300.4 L-36.5,302.5 L-38.5,302.3 L-39.5,300.5 L-41.3,300.5 L-42.9,299.1 L-45.6,299.2 L-47.5,299.0 L-49.3,297.8 L-51.5,300.3 L-54.0,300.1 L-56.2,300.9 L-55.9,299.1 L-53.7,298.1 L-57.4,298.1 L-58.5,299.4 L-58.8,301.2 L-60.7,303.5 L-62.3,304.0 L-63.9,304.6 L-65.0,305.8 L-66.5,306.5 L-69.5,306.6 L-72.0,308.1 L-74.5,308.8 L-72.2,308.4 L-70.4,307.0 L-68.9,304.8 L-66.5,304.5 L-65.7,303.1 L-64.5,302.4 L-66.4,301.8 L-68.2,301.0 L-69.7,301.6 L-70.8,300.4 L-72.6,300.1 L-74.6,299.0 L-75.3,297.1 L-76.1,296.2 L-74.1,294.4 L-72.5,294.0 L-70.8,293.9 L-69.6,293.6 L-69.2,291.1 L-72.0,292.4 L-73.7,292.2 L-75.3,291.7 L-76.6,290.2Z M310.7,438.3 L311.5,437.2 L313.9,435.4 L316.0,435.0 L318.1,434.1 L321.0,433.4 L321.6,431.8 L322.8,430.5 L324.0,428.0 L325.6,426.5 L326.6,425.2 L327.8,423.7 L329.8,424.3 L331.8,425.3 L333.1,423.4 L334.7,421.6 L336.3,418.9 L337.1,421.0 L340.3,421.3 L342.3,420.5 L342.0,423.3 L341.0,425.7 L342.9,427.5 L344.5,428.4 L345.8,429.4 L348.1,429.9 L348.5,428.2 L349.5,426.6 L349.2,424.5 L349.3,422.4 L350.0,420.8 L350.6,420.0 L351.1,418.3 L352.4,419.5 L351.6,421.5 L351.8,424.3 L354.2,425.8 L354.6,428.3 L355.7,430.7 L356.4,432.2 L358.4,434.1 L359.6,435.8 L361.4,437.8 L361.5,439.4 L361.9,441.0 L362.4,442.6 L360.7,442.6 L359.1,442.6 L357.5,442.6 L355.8,442.6 L354.2,442.6 L352.5,442.6 L350.9,442.6 L349.2,442.6 L347.6,442.6 L346.0,442.6 L344.3,442.6 L342.7,442.6 L341.0,442.6 L339.4,442.6 L337.7,442.6 L336.1,442.6 L334.5,442.6 L332.8,442.6 L331.2,442.6 L329.5,442.6 L327.9,442.6 L326.2,442.6 L324.6,442.6 L323.0,442.6 L321.3,442.6 L319.7,442.6 L318.0,442.6 L316.4,442.6 L314.7,442.6 L313.1,442.6 L311.5,442.6 L309.8,442.6 L310.3,440.5Z M71.3,320.4 L73.7,320.6 L75.7,320.6 L76.8,321.4 L79.7,322.2 L80.9,320.4 L79.6,318.9 L79.7,317.5 L76.3,316.5 L76.8,314.0 L74.4,313.7 L74.3,316.1 L72.6,317.2 L71.5,318.9Z M35.8,363.4 L37.4,362.9 L38.7,361.8 L41.6,361.2 L44.2,362.6 L45.6,363.5 L47.0,364.3 L49.8,365.6 L51.0,366.7 L49.1,367.2 L46.2,366.9 L44.9,364.5 L42.2,363.6 L40.0,363.2 L37.3,363.5Z M50.7,369.5 L51.9,368.4 L52.8,367.0 L54.7,367.2 L56.7,367.3 L58.9,368.8 L56.7,370.0 L54.5,371.2 L52.4,370.4Z M45.1,369.9 L48.0,370.0 L47.1,370.5 L45.5,369.9Z M60.6,369.1 L62.6,369.5 L62.6,370.1 L60.5,370.2Z M68.6,288.1 L68.0,291.4 L66.3,292.8 L63.7,293.4 L63.6,295.7 L61.9,295.9 L60.2,295.5 L58.4,295.4 L56.9,294.4 L55.1,294.2 L54.2,292.6 L52.5,292.5 L49.8,291.8 L47.7,290.6 L46.1,292.1 L46.7,291.5 L48.3,290.3 L49.8,288.6 L52.3,288.7 L52.5,285.9 L50.4,285.6 L48.1,285.6 L46.6,283.1 L44.3,283.3 L42.4,281.8 L40.1,281.8 L38.0,281.3 L36.0,282.5 L34.2,281.5 L32.3,281.2 L29.7,281.3 L29.4,279.8 L30.6,277.4 L32.7,278.3 L34.6,278.3 L35.9,276.9 L37.6,275.4 L39.4,277.4 L41.1,276.9 L43.1,275.5 L45.0,275.6 L46.5,277.5 L48.9,276.6 L50.0,279.2 L52.1,279.4 L53.9,280.2 L55.8,280.9 L57.5,282.0 L59.1,283.0 L61.6,284.5 L63.2,285.3 L64.7,286.2 L66.5,286.7Z M28.9,273.0 L30.5,273.2 L32.2,273.1 L33.9,270.7 L35.4,272.3 L37.1,271.9 L38.7,272.3 L40.3,271.0 L42.1,271.1 L43.9,271.7 L45.1,271.1 L46.9,270.5 L47.5,268.4 L49.6,267.9 L51.7,268.0 L53.4,267.1 L55.3,266.7 L57.0,266.3 L58.5,265.2 L60.1,264.2 L62.1,264.3 L63.6,263.4 L65.7,262.8 L67.7,261.8 L65.9,261.2 L64.0,261.7 L62.2,261.1 L60.3,261.3 L58.5,260.9 L56.7,260.6 L54.9,261.0 L53.2,261.3 L51.5,260.8 L49.8,260.5 L48.0,260.5 L46.3,260.9 L44.6,260.4 L43.0,261.7 L41.3,262.0 L39.5,261.9 L37.5,260.8 L36.1,262.9 L34.4,263.5 L32.7,263.9 L31.0,264.4 L29.5,263.8 L27.5,264.4 L25.6,266.6 L27.9,266.6 L29.2,267.8 L30.9,269.5Z M22.2,269.8 L24.1,270.0 L25.8,267.8 L28.0,269.9 L28.9,268.6 L29.1,265.9 L27.8,265.4 L25.6,263.6 L23.9,265.6 L21.8,264.2 L19.4,265.3 L20.3,267.4Z M42.8,275.5 L41.2,273.8 L39.5,274.0 L37.8,275.9 L36.2,273.9 L34.5,274.6 L32.9,276.4 L31.2,273.6 L29.5,275.7 L27.9,275.5 L26.2,275.1 L24.5,274.0 L22.2,274.6 L20.8,273.5 L22.5,273.7 L24.0,272.5 L25.8,273.1 L27.4,272.3 L28.9,272.7 L30.8,270.9 L32.5,271.6 L34.2,272.1 L36.0,271.1 L37.5,273.9 L39.3,273.0 L41.2,271.6 L42.6,272.9Z M29.0,278.6 L27.3,280.2 L25.7,280.2 L24.0,279.0 L22.4,280.6 L21.5,279.6 L22.1,277.9 L22.1,274.6 L23.9,276.5 L25.8,275.9 L27.2,276.1 L27.0,278.1Z M20.8,279.7 L19.2,279.2 L17.7,278.1 L15.5,280.0 L13.8,280.1 L13.1,279.2 L13.4,276.8 L15.2,275.6 L17.1,277.3 L20.2,276.4 L18.9,278.9Z M13.8,285.5 L12.0,285.5 L10.1,284.2 L8.3,285.5 L6.5,285.7 L4.6,284.9 L2.7,285.1 L0.9,285.8 L-1.0,285.4 L-2.4,284.3 L-4.8,285.5 L-6.2,284.7 L-8.0,284.5 L-9.2,283.2 L-11.5,281.4 L-8.4,280.7 L-9.2,277.9 L-6.8,279.5 L-5.5,276.5 L-3.1,278.4 L-1.4,276.8 L0.2,277.5 L1.8,277.6 L3.6,276.6 L5.3,276.7 L6.5,278.1 L9.2,278.0 L11.5,279.2 L10.8,282.1 L12.3,283.2Z M-5.6,279.2 L-7.4,280.1 L-9.5,278.9 L-11.2,280.8 L-13.2,280.4 L-15.0,280.6 L-16.7,280.1 L-18.1,278.2 L-20.7,279.0 L-19.2,277.4 L-18.1,274.8 L-16.4,275.0 L-14.6,276.9 L-13.1,274.8 L-11.4,275.5 L-9.6,274.9 L-8.3,276.6 L-6.1,276.7Z M7.5,273.3 L6.0,274.6 L4.2,276.0 L2.3,274.2 L0.6,275.6 L-1.2,275.5 L-3.0,275.2 L-4.8,274.5 L-6.6,273.6 L-8.4,275.0 L-6.1,274.2 L-6.4,273.2 L-4.6,271.1 L-2.9,270.7 L-1.3,271.0 L0.2,273.2 L1.9,272.5 L3.5,273.6 L5.1,273.9 L6.5,272.9Z M24.7,275.7 L22.9,275.3 L21.1,274.3 L19.4,273.3 L17.4,274.8 L15.5,274.7 L13.4,272.7 L15.6,273.2 L16.7,270.7 L18.3,272.7 L20.2,272.8 L22.7,271.6 L23.4,273.5Z M-5.3,272.1 L-7.1,272.1 L-8.9,272.1 L-11.0,270.7 L-12.5,272.2 L-14.1,271.3 L-16.3,270.6 L-14.4,271.3 L-12.6,271.9 L-11.3,270.5 L-10.0,271.3 L-7.9,271.6Z M15.1,269.3 L13.3,269.4 L11.3,269.2 L9.2,270.9 L7.6,268.8 L9.7,269.4 L11.8,269.2 L14.5,267.3Z M42.8,294.4 L41.3,293.9 L39.8,292.9 L38.2,292.4 L36.6,292.2 L34.7,293.4 L34.3,293.4 L34.6,290.0 L36.5,289.9 L38.4,289.6 L40.0,291.1 L42.3,292.1Z M38.7,296.3 L41.5,294.5 L39.5,294.3 L36.5,295.6Z M347.2,330.7 L349.1,331.2 L351.8,330.3 L353.4,329.1 L355.0,327.5 L354.1,325.8 L351.0,325.9 L349.5,324.1 L349.7,325.7 L349.2,327.1 L347.6,327.8 L347.1,329.8Z M349.1,330.8 L349.9,332.3 L349.8,333.9 L348.2,336.0 L348.3,338.2 L348.3,340.4 L347.1,341.5 L345.8,342.2 L344.4,342.2 L343.0,343.0 L341.7,344.0 L340.4,343.4 L338.9,342.4 L336.8,343.0 L334.9,343.4 L335.1,342.6 L336.9,341.5 L338.9,341.2 L341.9,340.4 L343.0,337.6 L343.2,338.3 L345.0,337.1 L346.4,335.7 L347.3,333.2 L347.6,331.4Z M333.3,343.7 L334.8,343.4 L335.6,345.2 L335.5,348.0 L334.2,348.3 L333.5,346.7 L333.0,345.0Z M336.7,344.7 L338.1,344.2 L339.6,343.7 L339.6,343.0 L337.4,342.9 L336.7,344.1Z M349.9,323.0 L352.3,322.2 L351.2,320.2 L351.3,317.8 L353.8,317.8 L352.6,316.3 L351.3,314.7 L351.3,313.0 L351.7,311.2 L350.9,309.1 L350.4,310.5 L349.2,313.0 L350.1,314.6 L349.8,316.3 L349.8,318.0 L350.0,319.7 L349.5,321.4Z M319.7,361.7 L319.9,363.4 L321.1,361.3 L322.5,359.1 L321.5,357.9 L320.3,359.2Z M304.1,368.5 L306.3,365.6 L307.6,367.8 L305.5,370.6 L304.9,369.3Z M320.3,368.2 L322.0,369.3 L323.1,372.2 L321.7,373.9 L321.6,377.0 L323.0,378.2 L325.1,378.7 L324.3,379.3 L321.7,378.3 L320.2,376.5 L319.2,373.4 L321.1,372.8 L320.4,371.0Z M322.2,388.5 L325.1,387.6 L326.9,386.5 L327.9,384.1 L328.5,386.3 L329.5,389.4 L326.6,391.7 L324.7,390.8Z M325.5,378.9 L327.4,380.0 L328.1,381.9 L326.5,383.7 L324.6,383.0 L324.3,381.3Z M321.8,381.5 L324.1,381.6 L323.1,382.6 L323.2,382.3Z M323.6,381.8 L324.5,382.9 L323.9,385.1 L322.6,384.4Z M320.2,378.1 L322.5,378.3 L321.4,379.3 L319.8,379.5Z M314.7,385.7 L316.6,384.6 L317.1,382.5 L318.4,381.3 L318.5,383.6 L318.2,385.9 L315.3,387.6Z M304.3,398.0 L305.4,396.6 L307.3,398.2 L308.0,396.1 L309.8,395.1 L311.9,393.9 L312.3,390.9 L314.4,389.2 L315.7,389.0 L318.1,389.4 L319.1,392.3 L315.9,392.9 L315.4,394.8 L317.0,396.9 L316.6,398.0 L317.2,398.3 L316.4,401.6 L314.4,403.8 L314.2,405.5 L314.3,406.9 L312.4,405.9 L310.0,404.7 L307.2,405.1 L306.8,405.1 L306.3,401.7 L304.7,400.5Z M285.5,390.4 L288.4,391.7 L290.5,393.4 L290.1,395.9 L292.1,396.1 L293.8,397.7 L294.5,399.8 L296.9,400.4 L297.1,403.8 L298.6,404.7 L300.0,405.5 L299.7,407.9 L299.9,410.0 L297.8,410.5 L297.6,407.9 L295.1,407.4 L295.2,405.2 L294.1,404.4 L291.4,403.5 L291.3,401.6 L291.0,399.5 L290.8,397.1 L288.3,396.7 L287.9,394.4 L286.2,393.0Z M300.0,412.7 L300.4,409.3 L302.8,411.7 L304.6,411.4 L306.2,412.9 L309.2,411.9 L310.8,413.4 L311.6,416.0 L310.3,413.5 L308.4,414.7 L305.5,414.9 L302.8,414.0 L300.4,412.7Z M311.9,414.4 L312.8,413.9 L312.8,415.4Z M314.2,415.7 L315.8,414.7 L314.7,415.3 L313.9,415.3Z M314.8,413.9 L316.9,414.3 L318.2,416.2 L315.9,415.4Z M319.4,416.0 L321.4,414.6 L323.6,414.1 L323.4,414.9 L321.3,414.5 L320.6,415.0Z M318.5,415.4 L320.5,417.1 L319.2,419.0 L318.2,417.0Z M324.5,418.0 L326.1,415.3 L328.2,415.7 L328.9,413.7 L329.2,416.5 L327.0,416.7 L325.5,418.0Z M317.1,405.4 L319.4,403.7 L319.9,401.6 L318.4,398.7 L320.5,399.4 L323.8,399.3 L326.0,397.8 L325.7,401.1 L323.7,398.9 L321.9,399.8 L320.8,402.6 L324.0,401.9 L321.6,402.8 L321.1,405.8 L323.0,408.5 L321.6,408.0 L319.1,405.1 L319.2,407.5 L320.2,408.9 L317.8,410.0 L318.7,407.6Z M329.5,397.1 L330.4,396.9 L331.9,399.3 L329.8,400.0 L331.3,401.4 L329.9,401.8 L330.9,399.7Z M330.6,405.5 L332.3,405.7 L333.3,405.8 L334.4,407.4 L330.9,406.8Z M327.8,407.0 L330.3,406.1 L329.5,405.9 L327.1,406.7Z M334.6,402.1 L336.3,400.7 L337.9,402.4 L339.6,404.0 L339.5,405.2 L342.4,405.0 L344.2,402.0 L345.7,403.1 L347.5,403.5 L349.8,405.8 L351.3,407.2 L353.2,407.4 L355.0,408.0 L355.1,410.6 L356.6,410.8 L358.3,412.2 L358.7,413.6 L359.2,416.2 L361.2,416.6 L359.1,416.7 L357.6,415.0 L355.6,413.4 L353.4,413.7 L352.0,415.4 L350.3,416.0 L348.8,415.7 L347.1,415.1 L345.3,414.8 L345.4,413.5 L344.0,412.0 L343.6,409.3 L341.9,408.8 L340.6,406.8 L337.5,407.9 L336.2,405.4 L338.2,403.8 L335.6,402.8Z M358.9,409.7 L361.2,410.0 L363.1,407.5 L363.3,407.5 L363.8,410.8 L361.3,409.9 L359.5,410.6Z M361.8,404.7 L364.2,405.7 L364.5,407.5 L364.6,408.7 L363.1,406.5 L361.8,405.4Z M368.7,409.0 L369.2,411.0 L368.3,412.6 L367.5,410.9Z M370.5,411.6 L372.2,414.3 L374.8,415.4 L372.6,415.8 L372.4,414.2Z M373.9,416.7 L375.7,416.7 L375.6,417.1 L375.3,416.6Z M375.5,414.6 L377.2,416.4 L376.2,416.8 L375.6,415.3Z M281.4,377.9 L282.3,378.0 L282.0,380.3 L281.5,382.2 L281.9,381.7 L281.3,379.5Z M283.4,385.0 L283.3,387.0 L282.5,388.8 L283.1,386.8Z M225.1,279.5 L226.9,281.5 L229.1,280.6 L230.0,278.4 L231.0,276.0 L232.2,274.7 L234.0,274.3 L235.2,273.2 L236.9,272.8 L238.8,273.3 L240.4,272.5 L242.0,271.4 L244.1,271.2 L246.2,271.6 L248.0,270.7 L246.9,272.7 L244.6,272.7 L243.1,273.9 L241.2,273.7 L239.8,275.5 L238.1,275.4 L237.1,276.8 L235.2,276.9 L234.1,277.8 L233.3,279.2 L232.4,281.1 L230.6,280.2 L229.1,280.9 L227.4,281.6Z M234.5,281.9 L237.2,282.7 L236.5,283.2 L234.4,282.8Z M168.9,269.0 L170.5,267.8 L171.9,266.4 L173.7,265.8 L175.6,265.5 L177.6,266.3 L179.4,266.2 L181.2,264.9 L182.8,265.1 L184.4,265.2 L186.0,266.1 L187.6,265.3 L189.2,265.1 L190.8,265.5 L189.5,267.2 L187.4,267.3 L186.0,268.9 L183.8,268.6 L182.1,269.9 L180.0,269.5 L178.4,271.0 L176.1,271.9 L174.7,269.6 L172.3,268.5 L170.2,269.7Z M218.5,264.9 L220.2,264.3 L221.7,263.1 L223.8,263.8 L225.4,263.1 L227.3,263.2 L229.1,262.9 L231.0,263.4 L232.8,263.8 L234.6,263.6 L236.6,263.0 L238.2,264.6 L240.3,263.7 L242.2,265.4 L240.5,265.3 L238.7,265.0 L236.9,264.5 L235.4,265.8 L233.7,265.5 L231.9,266.3 L230.0,266.7 L228.2,265.0 L226.4,265.7 L224.5,265.9 L222.7,265.5 L220.5,266.1Z M284.8,266.4 L286.8,266.7 L287.5,264.4 L289.6,264.0 L291.9,263.7 L293.9,264.3 L295.7,265.3 L297.0,266.0 L295.6,267.7 L293.7,269.6 L292.3,267.6 L290.3,268.6 L288.8,267.0 L286.5,268.1Z M341.7,276.6 L343.4,275.3 L345.2,274.8 L346.8,275.7 L349.3,275.4 L350.6,277.1 L352.3,276.2 L354.0,275.2 L355.5,273.1 L357.3,274.2 L359.2,273.9 L361.6,273.4 L359.7,273.3 L357.7,271.3 L356.0,273.2 L354.0,271.9 L352.2,272.7 L350.3,272.1 L348.6,273.6 L346.5,273.5 L345.0,274.1 L342.6,274.2Z M400.6,281.6 L403.3,279.3 L405.6,279.6 L403.9,280.8 L402.1,281.7Z M-62.0,368.7 L-61.1,367.8 L-62.2,366.4 L-62.4,367.4Z M-63.3,365.3 L-62.2,365.6 L-62.8,365.8Z M-65.7,364.5 L-64.7,364.5 L-65.3,364.7Z M-67.5,362.7 L-67.0,363.2 L-67.4,363.7Z"/></clipPath>
<clipPath id="dic"><path d="M168.9,269.0 L170.5,267.8 L171.9,266.4 L173.7,265.8 L175.6,265.5 L177.6,266.3 L179.4,266.2 L181.2,264.9 L182.8,265.1 L184.4,265.2 L186.0,266.1 L187.6,265.3 L189.2,265.1 L190.8,265.5 L189.5,267.2 L187.4,267.3 L186.0,268.9 L183.8,268.6 L182.1,269.9 L180.0,269.5 L178.4,271.0 L176.1,271.9 L174.7,269.6 L172.3,268.5 L170.2,269.7Z M218.5,264.9 L220.2,264.3 L221.7,263.1 L223.8,263.8 L225.4,263.1 L227.3,263.2 L229.1,262.9 L231.0,263.4 L232.8,263.8 L234.6,263.6 L236.6,263.0 L238.2,264.6 L240.3,263.7 L242.2,265.4 L240.5,265.3 L238.7,265.0 L236.9,264.5 L235.4,265.8 L233.7,265.5 L231.9,266.3 L230.0,266.7 L228.2,265.0 L226.4,265.7 L224.5,265.9 L222.7,265.5 L220.5,266.1Z M284.8,266.4 L286.8,266.7 L287.5,264.4 L289.6,264.0 L291.9,263.7 L293.9,264.3 L295.7,265.3 L297.0,266.0 L295.6,267.7 L293.7,269.6 L292.3,267.6 L290.3,268.6 L288.8,267.0 L286.5,268.1Z M341.7,276.6 L343.4,275.3 L345.2,274.8 L346.8,275.7 L349.3,275.4 L350.6,277.1 L352.3,276.2 L354.0,275.2 L355.5,273.1 L357.3,274.2 L359.2,273.9 L361.6,273.4 L359.7,273.3 L357.7,271.3 L356.0,273.2 L354.0,271.9 L352.2,272.7 L350.3,272.1 L348.6,273.6 L346.5,273.5 L345.0,274.1 L342.6,274.2Z M400.6,281.6 L403.3,279.3 L405.6,279.6 L403.9,280.8 L402.1,281.7Z"/></clipPath>
<clipPath id="phc"><path d="M320.3,368.2 L322.0,369.3 L323.1,372.2 L321.7,373.9 L321.6,377.0 L323.0,378.2 L325.1,378.7 L324.3,379.3 L321.7,378.3 L320.2,376.5 L319.2,373.4 L321.1,372.8 L320.4,371.0Z M322.2,388.5 L325.1,387.6 L326.9,386.5 L327.9,384.1 L328.5,386.3 L329.5,389.4 L326.6,391.7 L324.7,390.8Z M325.5,378.9 L327.4,380.0 L328.1,381.9 L326.5,383.7 L324.6,383.0 L324.3,381.3Z M321.8,381.5 L324.1,381.6 L323.1,382.6 L323.2,382.3Z M323.6,381.8 L324.5,382.9 L323.9,385.1 L322.6,384.4Z M320.2,378.1 L322.5,378.3 L321.4,379.3 L319.8,379.5Z M314.7,385.7 L316.6,384.6 L317.1,382.5 L318.4,381.3 L318.5,383.6 L318.2,385.9 L315.3,387.6Z M329.5,397.1 L330.4,396.9 L331.9,399.3 L329.8,400.0 L331.3,401.4 L329.9,401.8 L330.9,399.7Z M330.6,405.5 L332.3,405.7 L333.3,405.8 L334.4,407.4 L330.9,406.8Z M327.8,407.0 L330.3,406.1 L329.5,405.9 L327.1,406.7Z"/></clipPath>
<g id="tex"><path d="M-22.0,287.0 L-20.0,277.0 L-17.0,271.8 L-5.0,268.4 L7.0,267.0 L15.0,265.0 L26.0,262.3 L42.0,261.5 L65.0,261.5 L58.0,268.0 L45.0,275.7 L32.0,277.0 L22.0,282.0 L7.0,287.0 L-8.0,291.0 L-18.0,290.0Z" fill="#000"/><path d="M17,278h2v1h-2zM-5,285h2v1h-2zM-14,285h1v1h-1zM29,273h2v1h-2zM23,263h2v1h-2zM45,271h1v2h-1zM33,276h1v1h-1zM17,269h1v2h-1zM39,270h2v1h-2zM26,264h1v1h-1zM-15,280h3v1h-3zM7,270h1v1h-1zM47,266h1v2h-1zM-5,276h2v1h-2zM14,272h2v1h-2zM14,267h3v1h-3zM28,262h2v1h-2zM-3,269h1v2h-1zM6,270h1v1h-1zM33,261h3v1h-3zM10,274h1v2h-1zM20,278h2v1h-2zM-4,289h2v1h-2zM30,273h1v1h-1zM-12,276h3v1h-3zM-1,282h3v1h-3zM20,276h1v1h-1zM-11,275h1v2h-1zM31,269h2v1h-2zM43,263h2v1h-2zM-6,272h1v2h-1zM-9,274h3v1h-3zM28,265h1v1h-1zM9,270h1v1h-1zM-20,280h2v1h-2zM17,272h1v1h-1zM11,278h1v2h-1zM14,271h1v2h-1zM17,275h1v2h-1zM-14,283h1v1h-1zM-12,284h2v1h-2zM4,281h2v1h-2zM21,268h2v1h-2zM35,267h2v1h-2zM-2,288h2v1h-2zM-10,276h1v1h-1zM17,269h2v1h-2zM23,281h1v2h-1zM-19,287h1v1h-1zM37,269h3v1h-3zM4,284h1v1h-1zM33,273h2v1h-2zM-19,285h2v1h-2zM-12,277h3v1h-3zM-4,275h2v1h-2zM-2,284h1v2h-1zM12,284h2v1h-2zM-14,289h2v1h-2zM-10,274h1v1h-1zM10,278h1v2h-1zM18,280h2v1h-2zM-13,287h1v1h-1zM-3,288h1v1h-1zM46,270h1v1h-1zM16,277h3v1h-3zM48,263h1v1h-1zM-6,271h2v1h-2zM36,274h2v1h-2zM43,274h1v2h-1zM3,283h2v1h-2zM26,270h2v1h-2zM31,270h2v1h-2zM27,267h1v2h-1zM10,277h1v1h-1zM22,273h1v2h-1zM-7,288h2v1h-2zM19,265h2v1h-2zM-12,273h1v1h-1zM58,265h1v1h-1zM40,268h2v1h-2zM-12,283h1v1h-1zM54,262h2v1h-2zM24,267h2v1h-2zM52,268h3v1h-3zM55,265h2v1h-2zM11,274h2v1h-2zM-4,280h1v1h-1zM-13,278h3v1h-3zM-11,276h3v1h-3zM21,281h2v1h-2zM-19,283h1v2h-1zM22,278h2v1h-2zM2,281h1v2h-1zM-16,289h2v1h-2zM12,274h3v1h-3zM15,279h1v1h-1zM33,262h2v1h-2zM-6,274h3v1h-3zM13,267h2v1h-2zM-13,284h3v1h-3zM32,273h1v2h-1zM-5,278h3v1h-3zM48,269h1v1h-1zM44,273h2v1h-2zM-15,271h2v1h-2zM-13,287h1v2h-1zM-3,273h2v1h-2zM24,272h2v1h-2zM-20,279h2v1h-2zM0,273h1v1h-1zM1,271h1v2h-1zM-15,279h1v1h-1zM29,274h2v1h-2zM14,277h1v2h-1zM5,277h2v1h-2zM2,282h3v1h-3zM-19,284h1v2h-1zM43,273h3v1h-3zM43,262h3v1h-3zM-15,288h2v1h-2zM40,268h2v1h-2zM-9,289h2v1h-2zM30,264h1v2h-1zM-8,272h2v1h-2zM36,274h3v1h-3zM9,283h2v1h-2zM32,272h3v1h-3zM38,267h3v1h-3zM43,267h2v1h-2zM21,280h2v1h-2zM54,262h1v1h-1zM-2,269h1v1h-1zM57,266h2v1h-2zM32,272h2v1h-2zM8,271h2v1h-2zM44,267h2v1h-2zM43,273h2v1h-2zM10,280h1v2h-1zM6,277h2v1h-2zM15,272h1v1h-1zM18,271h1v2h-1zM-14,278h2v1h-2zM49,261h3v1h-3zM-3,281h1v1h-1zM38,276h3v1h-3zM9,282h3v1h-3zM16,279h3v1h-3zM4,270h2v1h-2zM22,263h3v1h-3zM-19,281h1v2h-1zM11,267h1v2h-1zM10,273h2v1h-2zM-6,283h3v1h-3zM48,268h1v1h-1zM25,278h1v1h-1zM-16,277h1v2h-1zM-14,280h2v1h-2zM-13,285h2v1h-2zM0,268h1v2h-1zM7,275h3v1h-3zM36,276h1v2h-1zM48,263h1v2h-1zM47,273h2v1h-2zM-7,280h2v1h-2zM5,272h1v2h-1zM-12,280h2v1h-2zM47,270h2v1h-2zM-1,282h1v2h-1zM22,274h3v1h-3zM-13,286h2v1h-2zM-17,289h2v1h-2zM-16,288h1v1h-1zM17,268h2v1h-2zM30,266h2v1h-2zM45,265h1v2h-1zM-10,283h1v2h-1zM1,277h2v1h-2zM27,266h2v1h-2zM49,263h3v1h-3zM31,277h2v1h-2zM38,263h1v2h-1zM25,276h1v1h-1zM46,273h1v1h-1zM45,274h1v1h-1zM25,277h2v1h-2zM5,273h1v2h-1zM4,275h1v1h-1zM9,281h1v1h-1zM-11,274h2v1h-2zM39,275h3v1h-3zM27,275h1v1h-1zM-8,280h1v2h-1zM4,269h2v1h-2zM40,271h2v1h-2zM-13,281h2v1h-2zM-6,273h2v1h-2zM29,264h2v1h-2zM7,285h1v2h-1zM-9,281h2v1h-2zM6,273h1v1h-1zM5,284h2v1h-2zM7,280h1v1h-1zM26,267h3v1h-3zM31,266h1v2h-1z" fill="#fff"/><path d="M45,286h1v2h-1zM41,280h2v2h-2zM55,285h1v1h-1zM39,285h2v1h-2zM49,284h1v1h-1zM42,282h2v2h-2zM46,282h1v1h-1zM39,280h1v2h-1zM41,284h2v1h-2zM44,284h2v1h-2zM29,280h2v2h-2zM37,281h1v1h-1zM47,281h1v2h-1zM37,283h2v2h-2zM45,284h2v1h-2zM40,279h1v1h-1zM30,281h2v1h-2zM27,281h1v2h-1zM48,283h1v2h-1zM47,287h2v1h-2zM56,284h1v1h-1zM54,287h2v1h-2zM31,279h2v2h-2zM43,285h2v2h-2zM59,285h1v2h-1zM27,276h1v1h-1zM30,281h1v2h-1zM54,283h1v1h-1zM54,285h1v1h-1zM43,281h1v2h-1zM31,277h1v2h-1zM54,286h2v2h-2zM46,283h2v1h-2zM30,279h1v2h-1zM47,282h2v1h-2zM43,287h2v2h-2zM47,283h1v1h-1zM46,281h1v2h-1zM33,283h2v1h-2zM43,282h2v2h-2zM65,289h2v1h-2zM33,279h1v2h-1zM30,280h1v1h-1zM57,287h1v2h-1zM58,289h1v2h-1zM33,278h1v2h-1zM58,284h1v1h-1zM54,284h2v2h-2zM31,282h2v2h-2zM52,283h2v2h-2zM61,290h1v1h-1zM61,287h2v2h-2z" fill="#000"/><path d="M-7,298h2v1h-2zM12,297h2v1h-2zM12,288h1v1h-1zM6,289h1v2h-1zM-15,300h1v2h-1zM21,299h2v1h-2zM19,289h2v1h-2zM4,299h2v2h-2zM11,297h1v2h-1zM7,299h2v1h-2zM2,298h2v1h-2zM-5,288h1v2h-1zM-7,293h1v2h-1zM4,289h2v1h-2zM-13,293h2v2h-2zM0,298h1v1h-1zM-8,294h2v2h-2zM11,288h2v2h-2zM16,289h1v2h-1zM-9,301h1v2h-1zM6,297h2v1h-2zM16,289h1v1h-1zM9,296h1v2h-1zM9,295h2v1h-2zM14,287h2v1h-2zM-11,293h1v1h-1zM12,295h2v1h-2zM-4,290h1v1h-1zM26,294h1v1h-1zM-19,291h2v2h-2zM7,295h2v2h-2zM-8,288h1v1h-1zM-1,298h2v1h-2zM16,289h2v1h-2zM-7,296h1v2h-1zM18,296h2v2h-2zM-9,291h1v1h-1zM-4,293h1v1h-1zM17,296h1v1h-1zM12,290h2v2h-2zM4,295h1v2h-1zM-16,295h2v1h-2zM-1,287h1v2h-1zM-4,292h1v1h-1zM4,296h2v2h-2zM-17,295h2v1h-2zM-11,301h2v1h-2zM-16,290h2v1h-2zM21,289h2v2h-2zM-10,292h1v1h-1zM6,300h2v2h-2zM-5,303h1v2h-1zM-6,292h1v1h-1zM6,290h1v1h-1zM1,296h1v2h-1zM-15,292h2v2h-2zM3,290h2v1h-2zM-18,289h1v2h-1zM-1,287h2v2h-2zM0,287h2v2h-2zM-10,292h2v2h-2zM21,285h1v1h-1zM4,294h2v1h-2zM-14,296h1v2h-1zM8,298h1v1h-1zM-9,299h2v2h-2zM-18,295h2v1h-2zM-5,296h1v1h-1zM16,293h1v2h-1zM-15,291h1v1h-1zM25,297h1v1h-1zM-8,294h1v1h-1zM21,297h2v1h-2zM13,296h1v2h-1zM15,287h2v1h-2zM12,296h1v1h-1zM0,300h2v2h-2zM20,294h1v1h-1zM26,293h1v2h-1zM-3,297h2v1h-2zM14,292h1v1h-1zM-4,302h1v1h-1zM29,293h2v2h-2zM4,301h1v1h-1zM-12,291h1v2h-1zM22,295h2v2h-2zM26,290h2v1h-2zM17,297h1v1h-1zM7,296h1v2h-1zM-8,295h2v1h-2zM12,298h1v1h-1zM11,294h2v1h-2zM-15,299h1v2h-1zM1,289h1v2h-1zM20,298h2v2h-2zM25,290h2v1h-2zM-15,297h2v1h-2zM17,287h2v1h-2zM11,286h2v2h-2z" fill="#000"/><path d="M-13,310h2v1h-2zM-6,302h1v1h-1zM8,303h2v2h-2zM-1,314h1v2h-1zM-8,314h1v2h-1zM15,304h2v1h-2zM-11,310h1v2h-1zM-11,310h1v1h-1zM-6,313h2v2h-2zM-1,316h2v2h-2zM18,299h1v1h-1zM5,309h1v2h-1zM-10,299h2v2h-2zM3,301h2v2h-2zM7,306h1v2h-1zM2,299h1v1h-1zM-6,300h2v1h-2zM12,300h1v1h-1zM0,316h2v1h-2zM3,306h2v2h-2zM0,305h1v1h-1zM-7,305h2v2h-2zM-15,300h1v2h-1zM10,315h2v2h-2zM-2,306h1v2h-1zM-5,301h2v2h-2zM14,299h1v1h-1zM-16,303h1v1h-1zM6,303h1v2h-1zM22,300h2v1h-2zM-7,307h2v1h-2zM-7,309h1v2h-1zM-6,312h1v2h-1zM12,312h2v1h-2zM2,313h1v2h-1z" fill="#000"/><path d="M73,315h1v2h-1zM50,303h1v2h-1zM52,300h2v1h-2zM54,302h1v2h-1zM50,307h2v2h-2zM59,307h1v2h-1zM57,302h2v2h-2zM56,321h1v1h-1zM59,324h1v1h-1zM49,310h1v1h-1zM52,308h1v1h-1zM61,309h1v1h-1zM50,302h1v2h-1zM55,308h2v2h-2zM70,317h1v2h-1zM59,295h2v2h-2zM45,294h2v2h-2zM47,308h2v2h-2zM73,308h1v1h-1zM69,307h1v2h-1zM66,312h1v1h-1zM53,314h2v2h-2zM58,310h1v1h-1zM66,303h2v2h-2zM51,308h1v2h-1zM53,300h1v2h-1zM54,299h1v1h-1zM72,313h1v1h-1zM56,321h2v1h-2zM54,302h2v2h-2zM68,310h2v2h-2zM75,311h1v1h-1zM65,320h2v1h-2zM62,310h1v2h-1zM55,299h1v1h-1zM63,320h1v2h-1zM58,312h2v2h-2zM43,303h1v2h-1zM54,298h2v2h-2zM74,315h2v1h-2zM45,313h2v1h-2zM53,312h1v1h-1zM55,299h2v1h-2zM55,311h2v1h-2zM59,308h2v2h-2zM58,297h1v1h-1zM57,323h2v1h-2zM58,305h2v1h-2zM58,303h2v2h-2zM63,300h2v2h-2zM71,305h1v1h-1zM58,308h2v2h-2zM60,299h2v1h-2zM48,310h2v2h-2zM65,315h1v2h-1zM53,321h2v2h-2zM51,306h1v2h-1zM73,315h1v2h-1zM47,300h1v2h-1zM47,314h2v1h-2zM60,296h2v1h-2zM70,305h2v2h-2zM49,301h2v2h-2zM67,307h2v2h-2zM58,299h2v2h-2zM54,303h1v2h-1zM46,299h2v1h-2zM62,320h2v1h-2zM66,315h1v2h-1zM49,308h2v2h-2zM72,320h2v2h-2zM60,314h1v2h-1zM64,319h1v1h-1zM51,294h1v1h-1zM54,305h1v2h-1zM63,311h1v2h-1zM53,306h2v2h-2zM59,317h2v1h-2zM46,313h1v1h-1zM64,317h2v2h-2zM54,298h1v2h-1zM60,300h1v1h-1zM47,297h2v2h-2zM49,316h2v2h-2zM72,314h2v2h-2zM61,305h1v2h-1zM69,313h1v2h-1zM42,300h2v1h-2zM69,305h1v1h-1zM64,304h2v1h-2zM66,317h2v2h-2zM45,304h2v1h-2zM62,300h1v1h-1zM46,313h1v1h-1zM55,294h1v2h-1zM63,314h1v2h-1zM59,303h2v1h-2zM70,305h1v2h-1zM57,311h2v2h-2zM66,320h1v2h-1zM55,296h2v1h-2zM49,305h1v2h-1zM44,304h1v1h-1zM49,310h2v2h-2zM65,317h2v1h-2zM45,295h2v2h-2zM56,320h1v1h-1zM76,316h2v2h-2zM47,319h1v1h-1zM46,301h1v2h-1zM53,307h2v1h-2zM75,318h1v2h-1zM55,310h2v2h-2zM64,301h2v1h-2zM49,304h2v1h-2zM56,313h1v2h-1zM44,298h1v1h-1zM55,319h1v2h-1zM66,322h1v1h-1zM46,314h1v2h-1zM69,320h1v1h-1zM66,301h2v1h-2zM60,313h2v1h-2zM45,300h2v1h-2zM67,306h2v1h-2zM60,296h1v1h-1zM70,309h1v1h-1zM61,296h2v1h-2zM55,295h2v1h-2zM62,320h2v1h-2zM73,318h2v1h-2zM62,317h2v1h-2zM53,297h1v1h-1zM45,297h2v2h-2zM44,311h2v1h-2zM50,304h1v2h-1zM51,296h1v2h-1zM64,315h2v1h-2zM69,304h1v2h-1zM59,307h2v2h-2zM49,299h1v2h-1zM64,304h1v2h-1z" fill="#000"/><path d="M29,314h2v2h-2zM41,317h2v1h-2zM28,313h2v1h-2zM43,316h1v1h-1zM40,316h1v1h-1zM32,315h1v2h-1zM29,314h1v1h-1zM29,314h2v1h-2zM40,317h1v2h-1zM26,311h1v2h-1zM28,314h2v1h-2zM37,317h1v1h-1zM37,319h1v2h-1zM21,310h2v2h-2z" fill="#000"/><path d="M122.5,263.0 L130.5,264.5 L130.0,269.0 L128.8,273.5 L126.6,279.4 L120.0,281.8 L113.5,282.6 L113.5,279.2 L119.5,276.3 L123.2,269.0Z M75.5,276.3 L79.0,277.5 L84.0,280.9 L85.0,286.8 L84.3,292.8 L81.0,289.7 L78.8,283.8 L76.3,279.4Z" fill="#000"/><path d="M122,278h1v2h-1zM118,278h1v2h-1zM120,277h1v2h-1zM124,276h2v2h-2zM115,278h2v1h-2zM126,269h2v2h-2zM119,278h2v2h-2zM126,266h2v1h-2zM78,279h2v2h-2zM81,279h1v2h-1zM79,280h1v2h-1z" fill="#fff"/><path d="M320.3,368.2 L322.0,369.3 L323.1,372.2 L321.7,373.9 L321.6,377.0 L323.0,378.2 L325.1,378.7 L324.3,379.3 L321.7,378.3 L320.2,376.5 L319.2,373.4 L321.1,372.8 L320.4,371.0Z M322.2,388.5 L325.1,387.6 L326.9,386.5 L327.9,384.1 L328.5,386.3 L329.5,389.4 L326.6,391.7 L324.7,390.8Z M325.5,378.9 L327.4,380.0 L328.1,381.9 L326.5,383.7 L324.6,383.0 L324.3,381.3Z M321.8,381.5 L324.1,381.6 L323.1,382.6 L323.2,382.3Z M323.6,381.8 L324.5,382.9 L323.9,385.1 L322.6,384.4Z M320.2,378.1 L322.5,378.3 L321.4,379.3 L319.8,379.5Z M314.7,385.7 L316.6,384.6 L317.1,382.5 L318.4,381.3 L318.5,383.6 L318.2,385.9 L315.3,387.6Z M329.5,397.1 L330.4,396.9 L331.9,399.3 L329.8,400.0 L331.3,401.4 L329.9,401.8 L330.9,399.7Z M330.6,405.5 L332.3,405.7 L333.3,405.8 L334.4,407.4 L330.9,406.8Z M327.8,407.0 L330.3,406.1 L329.5,405.9 L327.1,406.7Z" fill="#000" stroke="#000" stroke-width="1.5"/><g clip-path="url(#phc)"><path d="M323,376h1v2h-1zM317,390h2v2h-2zM321,391h1v1h-1zM327,383h1v2h-1zM317,380h2v2h-2zM327,373h2v1h-2zM319,386h2v1h-2zM323,378h1v2h-1zM323,373h2v2h-2zM328,379h2v1h-2zM326,386h2v2h-2zM321,383h1v1h-1zM325,389h2v1h-2zM320,384h1v1h-1zM323,372h2v2h-2zM322,390h2v1h-2zM320,389h2v1h-2zM325,368h1v1h-1zM321,378h2v1h-2zM322,375h1v1h-1zM328,389h1v1h-1zM326,375h1v1h-1zM328,380h1v1h-1zM328,380h1v1h-1zM318,385h1v2h-1zM319,369h2v1h-2zM319,369h2v1h-2zM318,372h1v1h-1zM324,377h2v1h-2zM319,383h2v1h-2zM328,373h1v1h-1zM324,387h1v2h-1z" fill="#fff"/></g><path d="M366,385h1v1h-1zM377,426h2v1h-2zM298,391h1v1h-1zM428,398h1v2h-1zM429,381h1v1h-1zM430,432h1v2h-1zM365,393h1v2h-1zM340,430h2v1h-2zM295,424h1v2h-1zM330,395h1v1h-1zM385,411h1v1h-1zM376,434h1v1h-1zM406,429h2v1h-2zM361,373h1v2h-1zM335,421h2v1h-2zM418,401h1v1h-1zM364,377h1v2h-1zM337,397h1v2h-1zM423,402h1v1h-1zM294,413h1v1h-1zM357,400h2v1h-2zM388,414h1v2h-1zM331,413h1v1h-1zM357,434h1v2h-1zM404,386h2v1h-2zM383,433h2v1h-2zM402,412h1v2h-1zM357,386h1v1h-1zM391,435h1v2h-1zM421,365h1v1h-1zM308,388h1v1h-1zM372,433h2v1h-2zM392,425h1v2h-1zM296,397h1v1h-1zM311,408h1v2h-1zM409,383h1v2h-1zM311,429h2v1h-2zM364,420h2v1h-2zM407,378h1v2h-1zM426,363h2v1h-2zM425,368h1v1h-1zM396,421h1v2h-1zM293,387h1v1h-1zM358,397h1v1h-1zM341,435h2v1h-2zM371,376h1v1h-1zM337,393h1v1h-1zM319,419h1v1h-1zM346,376h1v2h-1zM386,406h1v2h-1zM343,403h1v1h-1zM374,374h1v1h-1zM318,410h1v1h-1zM419,387h1v2h-1zM349,385h1v2h-1zM404,419h1v1h-1zM405,426h1v2h-1zM308,384h1v1h-1zM349,422h1v2h-1zM304,434h1v1h-1zM324,405h1v2h-1zM354,428h1v2h-1zM378,382h1v2h-1zM399,390h1v2h-1zM352,418h2v1h-2zM378,394h1v1h-1z" fill="#aaaaaa"/><path d="M357,399h1v2h-1zM351,409h2v1h-2zM387,410h1v2h-1zM386,394h2v2h-2zM337,400h1v1h-1zM338,386h2v2h-2zM381,403h2v2h-2zM375,384h1v2h-1zM356,401h1v1h-1zM378,386h1v2h-1zM388,413h1v1h-1zM370,378h1v2h-1zM372,394h1v2h-1zM317,394h1v2h-1zM356,389h1v1h-1zM379,388h1v1h-1zM321,377h1v2h-1zM316,390h1v2h-1zM331,381h2v2h-2zM349,392h1v2h-1zM359,391h1v2h-1zM351,373h2v2h-2zM344,405h1v1h-1zM364,383h2v2h-2zM368,408h2v1h-2zM382,403h2v2h-2zM319,377h1v2h-1zM350,390h2v2h-2zM335,408h2v2h-2zM344,404h1v2h-1zM374,386h1v1h-1zM385,410h1v2h-1zM361,385h2v1h-2zM371,412h2v2h-2zM347,406h1v2h-1zM370,397h1v1h-1zM377,398h1v1h-1zM333,377h1v2h-1z" fill="#aaaaaa"/><path d="M62.3,264.9 L64.2,263.5 L66.3,263.4 L68.0,263.1 L69.6,262.8 L71.3,262.5 L73.0,262.5 L74.6,261.6 L76.3,262.5 L77.9,261.4 L79.5,261.4 L81.2,261.8 L82.9,261.7 L84.5,261.3 L86.1,260.9 L87.7,260.2 L89.4,261.1 L91.0,260.4 L92.7,260.9 L94.3,259.6 L95.9,260.1 L97.6,260.1 L99.3,259.9 L100.9,260.3 L102.6,260.3 L104.2,259.7 L105.9,260.0 L107.6,259.4 L109.2,259.9 L110.8,260.1 L112.5,260.1 L114.1,259.8 L115.7,260.5 L117.3,259.8 L119.0,259.9 L120.6,261.1 L122.5,260.7 L124.1,261.6 L125.8,262.0 L127.7,262.2 L129.6,261.9 L131.4,262.5 L133.2,262.7 L135.0,263.5 L136.9,263.1" fill="none" stroke="#000" stroke-width="2.2"/><path d="M187,336h1v2h-1zM191,333h1v2h-1zM187,336h1v2h-1zM188,337h1v1h-1zM185,338h1v1h-1zM182,334h1v1h-1zM185,334h1v1h-1zM183,333h2v1h-2zM185,335h2v2h-2z" fill="#000"/><path d="M347.2,330.7 L349.1,331.2 L351.8,330.3 L353.4,329.1 L355.0,327.5 L354.1,325.8 L351.0,325.9 L349.5,324.1 L349.7,325.7 L349.2,327.1 L347.6,327.8 L347.1,329.8Z M349.1,330.8 L349.9,332.3 L349.8,333.9 L348.2,336.0 L348.3,338.2 L348.3,340.4 L347.1,341.5 L345.8,342.2 L344.4,342.2 L343.0,343.0 L341.7,344.0 L340.4,343.4 L338.9,342.4 L336.8,343.0 L334.9,343.4 L335.1,342.6 L336.9,341.5 L338.9,341.2 L341.9,340.4 L343.0,337.6 L343.2,338.3 L345.0,337.1 L346.4,335.7 L347.3,333.2 L347.6,331.4Z M333.3,343.7 L334.8,343.4 L335.6,345.2 L335.5,348.0 L334.2,348.3 L333.5,346.7 L333.0,345.0Z M336.7,344.7 L338.1,344.2 L339.6,343.7 L339.6,343.0 L337.4,342.9 L336.7,344.1Z M349.9,323.0 L352.3,322.2 L351.2,320.2 L351.3,317.8 L353.8,317.8 L352.6,316.3 L351.3,314.7 L351.3,313.0 L351.7,311.2 L350.9,309.1 L350.4,310.5 L349.2,313.0 L350.1,314.6 L349.8,316.3 L349.8,318.0 L350.0,319.7 L349.5,321.4Z M319.7,361.7 L319.9,363.4 L321.1,361.3 L322.5,359.1 L321.5,357.9 L320.3,359.2Z" fill="none" stroke="#000" stroke-width="1.9"/><g clip-path="url(#landc)"><path d="M281,347h2v1h-2zM313,361h1v2h-1zM318,322h1v2h-1zM265,347h2v1h-2zM244,336h1v1h-1zM303,355h1v1h-1zM305,337h1v1h-1zM305,363h1v2h-1zM261,334h2v1h-2zM275,328h2v1h-2zM285,338h2v2h-2zM256,351h1v1h-1zM286,354h2v2h-2zM260,325h1v2h-1zM314,329h2v1h-2zM271,356h1v2h-1zM275,362h2v2h-2zM272,341h2v1h-2zM274,326h2v1h-2zM261,322h1v2h-1zM280,347h1v2h-1zM271,330h1v2h-1zM301,362h1v2h-1zM319,348h2v2h-2zM242,354h1v2h-1zM271,327h2v1h-2zM300,335h1v2h-1zM293,319h1v2h-1zM280,356h2v1h-2zM259,343h1v1h-1zM310,345h2v1h-2zM258,352h2v1h-2zM276,328h1v2h-1zM299,337h2v1h-2zM246,335h2v1h-2zM304,332h2v2h-2zM296,360h2v2h-2zM238,358h2v2h-2zM290,327h1v1h-1zM270,364h1v2h-1zM311,327h2v2h-2zM276,339h1v2h-1zM274,332h1v1h-1zM293,326h1v2h-1zM294,332h1v1h-1zM303,342h1v2h-1zM257,363h1v2h-1zM319,363h1v2h-1zM309,350h1v2h-1zM294,321h1v2h-1zM317,337h2v2h-2zM239,322h1v1h-1zM286,348h2v2h-2z" fill="#000"/></g><path d="M118.2,336.9h1.6v1.3h-1.6zM114.8,335.5h1.6v1.3h-1.6zM113.9,335.7h1.6v1.3h-1.6zM115.9,335.4h1.6v1.3h-1.6zM110.5,334.0h1.6v1.3h-1.6zM130.1,345.5h1.6v1.3h-1.6zM561.9,346.1h1.6v1.3h-1.6zM544.3,358.4h1.6v1.3h-1.6zM543.6,359.6h1.6v1.3h-1.6zM546.1,358.1h1.6v1.3h-1.6zM547.1,360.1h1.6v1.3h-1.6zM548.4,361.8h1.6v1.3h-1.6zM549.8,364.8h1.6v1.3h-1.6zM551.9,363.8h1.6v1.3h-1.6zM543.9,355.7h1.6v1.3h-1.6zM567.1,376.9h1.6v1.3h-1.6zM566.7,374.6h1.6v1.3h-1.6zM566.1,373.2h1.6v1.3h-1.6zM564.8,371.5h1.6v1.3h-1.6zM567.3,382.8h1.6v1.3h-1.6zM566.3,380.1h1.6v1.3h-1.6zM71.1,378.3h1.6v1.3h-1.6zM346.5,343.3h1.6v1.3h-1.6zM346.9,344.8h1.6v1.3h-1.6zM347.2,346.0h1.6v1.3h-1.6zM347.6,347.6h1.6v1.3h-1.6zM350.2,354.9h1.6v1.3h-1.6zM350.2,355.7h1.6v1.3h-1.6zM349.0,358.8h1.6v1.3h-1.6zM332.6,352.9h1.6v1.3h-1.6zM330.6,355.7h1.6v1.3h-1.6zM330.2,356.4h1.6v1.3h-1.6zM325.3,359.4h1.6v1.3h-1.6zM326.8,358.8h1.6v1.3h-1.6zM334.0,349.3h1.6v1.3h-1.6zM333.1,351.7h1.6v1.3h-1.6zM119.6,372.2h1.6v1.3h-1.6zM121.0,375.1h1.6v1.3h-1.6zM121.8,373.4h1.6v1.3h-1.6zM120.0,375.2h1.6v1.3h-1.6zM128.7,352.4h1.6v1.3h-1.6zM130.7,352.9h1.6v1.3h-1.6zM131.9,353.4h1.6v1.3h-1.6zM134.4,352.0h1.6v1.3h-1.6zM133.6,413.8h1.6v1.3h-1.6zM145.6,427.3h1.6v1.3h-1.6zM355.1,374.9h1.6v1.3h-1.6zM354.4,376.6h1.6v1.3h-1.6zM353.8,377.9h1.6v1.3h-1.6zM355.2,372.7h1.6v1.3h-1.6zM354.9,370.5h1.6v1.3h-1.6zM355.1,368.9h1.6v1.3h-1.6zM354.6,366.8h1.6v1.3h-1.6zM339.6,387.9h1.6v1.3h-1.6zM344.5,384.5h1.6v1.3h-1.6zM363.5,388.0h1.6v1.3h-1.6zM372.3,388.9h1.6v1.3h-1.6zM379.0,391.6h1.6v1.3h-1.6zM390.3,388.5h1.6v1.3h-1.6zM387.0,388.2h1.6v1.3h-1.6zM391.0,388.7h1.6v1.3h-1.6zM385.5,385.4h1.6v1.3h-1.6zM388.0,390.4h1.6v1.3h-1.6zM388.7,384.5h1.6v1.3h-1.6zM391.4,395.4h1.6v1.3h-1.6zM392.8,398.0h1.6v1.3h-1.6zM392.7,397.3h1.6v1.3h-1.6zM433.8,397.3h1.6v1.3h-1.6zM431.0,393.9h1.6v1.3h-1.6zM384.4,401.3h1.6v1.3h-1.6zM392.8,402.0h1.6v1.3h-1.6zM397.0,403.0h1.6v1.3h-1.6zM413.8,405.0h1.6v1.3h-1.6zM410.1,408.4h1.6v1.3h-1.6zM413.3,416.0h1.6v1.3h-1.6zM413.8,423.7h1.6v1.3h-1.6zM412.9,423.4h1.6v1.3h-1.6zM415.4,424.6h1.6v1.3h-1.6zM399.0,430.1h1.6v1.3h-1.6zM400.4,430.8h1.6v1.3h-1.6zM401.4,429.1h1.6v1.3h-1.6zM399.7,429.6h1.6v1.3h-1.6zM401.8,428.4h1.6v1.3h-1.6zM402.6,428.1h1.6v1.3h-1.6zM404.6,429.1h1.6v1.3h-1.6zM404.2,430.8h1.6v1.3h-1.6zM409.1,436.2h1.6v1.3h-1.6zM410.8,431.8h1.6v1.3h-1.6zM409.4,433.8h1.6v1.3h-1.6zM410.9,432.0h1.6v1.3h-1.6zM384.1,426.6h1.6v1.3h-1.6zM384.8,427.1h1.6v1.3h-1.6zM385.2,428.1h1.6v1.3h-1.6zM386.2,428.3h1.6v1.3h-1.6zM386.3,430.3h1.6v1.3h-1.6zM387.6,432.1h1.6v1.3h-1.6zM387.7,433.3h1.6v1.3h-1.6zM385.8,424.7h1.6v1.3h-1.6zM385.2,423.9h1.6v1.3h-1.6zM381.8,435.2h1.6v1.3h-1.6zM383.1,436.4h1.6v1.3h-1.6zM384.2,437.5h1.6v1.3h-1.6zM381.1,434.7h1.6v1.3h-1.6zM384.9,435.9h1.6v1.3h-1.6zM385.9,436.7h1.6v1.3h-1.6zM373.4,409.1h1.6v1.3h-1.6zM370.8,412.6h1.6v1.3h-1.6zM375.2,416.2h1.6v1.3h-1.6zM377.2,416.8h1.6v1.3h-1.6zM377.6,418.2h1.6v1.3h-1.6zM383.1,418.5h1.6v1.3h-1.6zM382.9,420.0h1.6v1.3h-1.6zM444.7,430.1h1.6v1.3h-1.6zM441.9,428.6h1.6v1.3h-1.6zM450.9,425.8h1.6v1.3h-1.6zM457.8,415.5h1.6v1.3h-1.6zM459.2,417.0h1.6v1.3h-1.6zM457.6,427.4h1.6v1.3h-1.6zM452.3,428.3h1.6v1.3h-1.6zM447.5,425.8h1.6v1.3h-1.6zM426.0,430.8h1.6v1.3h-1.6zM430.4,436.2h1.6v1.3h-1.6zM433.1,437.4h1.6v1.3h-1.6zM422.1,418.8h1.6v1.3h-1.6zM428.8,418.0h1.6v1.3h-1.6zM417.0,432.5h1.6v1.3h-1.6zM351.3,406.2h1.6v1.3h-1.6zM356.9,403.9h1.6v1.3h-1.6zM356.2,404.0h1.6v1.3h-1.6zM367.4,409.6h1.6v1.3h-1.6zM365.1,419.4h1.6v1.3h-1.6zM363.1,418.5h1.6v1.3h-1.6zM362.0,418.2h1.6v1.3h-1.6zM407.2,400.2h1.6v1.3h-1.6zM408.9,402.5h1.6v1.3h-1.6zM379.0,414.0h1.6v1.3h-1.6zM374.1,414.8h1.6v1.3h-1.6zM416.5,424.4h1.6v1.3h-1.6zM408.7,426.8h1.6v1.3h-1.6z" fill="#000"/><g clip-path="url(#landc)"><path d="M275,360h1v2h-1zM279,360h1v1h-1zM279,359h1v2h-1zM280,361h2v2h-2zM277,359h2v1h-2zM278,361h2v1h-2z" fill="#000"/></g><path d="M-55.4,300.2 L-51.2,299.0 L-47.1,299.2 L-42.9,299.5 L-39.5,300.3 L-36.0,301.9 L-33.2,303.5 L-30.5,306.2 L-27.7,309.1 L-25.6,312.1 L-23.6,315.0 L-20.8,316.7 L-18.3,318.7 L-16.7,320.5" fill="none" stroke="#000" stroke-width="4.2" stroke-dasharray="5 1 3 1 4 1"/><path d="M-8.5,345.8 L-7.0,349.2 L-5.6,352.5 L-4.2,355.1 L-1.4,358.4 L0.6,360.9 L2.0,361.8 M-5.3,347.0 L-2.5,350.0 L-0.0,353.4 L2.0,355.9 L4.1,358.4 L6.9,362.1 L8.0,364.3 L7.6,366.8" fill="none" stroke="#000" stroke-width="2.4" stroke-dasharray="4 1 2 1"/><path d="M35.9,363.6 L38.7,362.0 L41.5,361.4 L44.2,362.6 L47.0,364.3 L49.8,365.7 L51.0,366.5 L49.1,367.0 L46.0,367.0 L44.9,364.3 L42.1,363.8 L40.1,363.5 L37.3,363.8 L35.9,363.6" fill="#000" stroke="#000" stroke-width="1.6"/><path d="M26.0,321.9 L29.7,319.7 L31.8,318.5 L35.9,319.9 L36.6,322.2 L33.8,322.4 L31.1,321.6 L28.3,322.2Z M31.9,324.2 L32.0,328.1 L32.5,330.3 L33.8,330.1 L34.1,327.3 L35.2,325.1 L36.2,323.4 L35.2,323.2 L33.4,323.9Z M36.5,322.9 L38.4,323.2 L40.8,323.2 L42.8,323.9 L42.1,325.6 L40.5,327.6 L39.5,327.9 L39.4,326.1 L38.1,325.6 L38.3,323.9Z M38.0,330.3 L41.5,330.0 L44.2,328.5 L42.3,328.8 L39.4,329.6Z M43.1,327.6 L46.3,327.6 L48.1,327.3 L47.8,326.1 L44.9,326.6 L43.4,327.1Z" fill="none" stroke="#000" stroke-width="2.2"/><path d="M168.9,269.0 L170.5,267.8 L171.9,266.4 L173.7,265.8 L175.6,265.5 L177.6,266.3 L179.4,266.2 L181.2,264.9 L182.8,265.1 L184.4,265.2 L186.0,266.1 L187.6,265.3 L189.2,265.1 L190.8,265.5 L189.5,267.2 L187.4,267.3 L186.0,268.9 L183.8,268.6 L182.1,269.9 L180.0,269.5 L178.4,271.0 L176.1,271.9 L174.7,269.6 L172.3,268.5 L170.2,269.7Z M218.5,264.9 L220.2,264.3 L221.7,263.1 L223.8,263.8 L225.4,263.1 L227.3,263.2 L229.1,262.9 L231.0,263.4 L232.8,263.8 L234.6,263.6 L236.6,263.0 L238.2,264.6 L240.3,263.7 L242.2,265.4 L240.5,265.3 L238.7,265.0 L236.9,264.5 L235.4,265.8 L233.7,265.5 L231.9,266.3 L230.0,266.7 L228.2,265.0 L226.4,265.7 L224.5,265.9 L222.7,265.5 L220.5,266.1Z M284.8,266.4 L286.8,266.7 L287.5,264.4 L289.6,264.0 L291.9,263.7 L293.9,264.3 L295.7,265.3 L297.0,266.0 L295.6,267.7 L293.7,269.6 L292.3,267.6 L290.3,268.6 L288.8,267.0 L286.5,268.1Z M341.7,276.6 L343.4,275.3 L345.2,274.8 L346.8,275.7 L349.3,275.4 L350.6,277.1 L352.3,276.2 L354.0,275.2 L355.5,273.1 L357.3,274.2 L359.2,273.9 L361.6,273.4 L359.7,273.3 L357.7,271.3 L356.0,273.2 L354.0,271.9 L352.2,272.7 L350.3,272.1 L348.6,273.6 L346.5,273.5 L345.0,274.1 L342.6,274.2Z M400.6,281.6 L403.3,279.3 L405.6,279.6 L403.9,280.8 L402.1,281.7Z" fill="#000"/><g clip-path="url(#dic)"><path d="M323,272h1v2h-1zM205,260h1v2h-1zM219,274h2v2h-2zM201,275h2v2h-2zM369,272h1v1h-1zM314,266h2v2h-2zM348,271h1v2h-1zM156,277h2v2h-2zM219,270h1v2h-1zM313,263h2v1h-2zM179,266h1v2h-1zM393,273h1v1h-1zM357,268h2v1h-2zM274,261h1v1h-1zM198,277h1v1h-1zM272,261h2v2h-2zM170,277h2v2h-2zM246,265h1v2h-1zM200,265h1v1h-1zM289,262h2v2h-2zM299,265h1v1h-1zM256,270h1v2h-1zM220,269h1v1h-1zM232,267h1v1h-1zM307,275h2v1h-2zM385,267h1v1h-1zM154,260h2v1h-2zM231,270h1v1h-1zM161,266h2v2h-2zM347,262h1v2h-1zM348,270h2v1h-2zM253,277h1v2h-1zM371,274h1v1h-1zM244,277h2v1h-2zM169,260h2v1h-2zM189,267h2v2h-2zM180,270h1v2h-1zM161,268h1v2h-1zM294,263h2v2h-2zM364,271h2v1h-2zM342,265h1v1h-1zM390,261h1v1h-1zM217,264h1v1h-1zM186,266h1v1h-1zM251,262h1v1h-1zM202,267h1v1h-1zM306,268h2v2h-2zM311,263h2v1h-2zM178,270h2v2h-2zM249,270h2v1h-2zM256,262h1v1h-1zM245,268h1v2h-1zM392,276h2v2h-2zM242,263h1v1h-1zM306,272h1v1h-1zM336,270h1v1h-1zM372,277h1v1h-1zM271,271h2v1h-2zM234,269h2v2h-2zM399,272h2v2h-2zM372,270h1v1h-1zM284,265h2v2h-2zM401,273h2v1h-2zM315,271h2v1h-2zM212,265h1v2h-1zM335,270h2v2h-2zM281,266h1v1h-1zM372,261h2v2h-2zM293,273h2v2h-2zM376,273h1v1h-1zM182,273h1v2h-1zM298,272h2v2h-2zM415,276h1v2h-1zM294,274h1v1h-1zM351,276h1v1h-1zM175,263h1v2h-1zM333,261h1v1h-1zM348,259h1v2h-1zM283,272h2v2h-2zM319,268h1v2h-1zM227,260h2v1h-2zM372,273h2v1h-2zM199,269h2v2h-2zM371,272h1v1h-1zM251,269h2v2h-2zM323,265h1v2h-1zM408,272h2v1h-2zM308,263h2v2h-2zM285,269h1v1h-1zM266,277h2v2h-2zM377,271h2v2h-2zM412,267h2v1h-2zM390,261h2v2h-2zM358,273h2v1h-2zM389,268h2v2h-2zM240,262h1v2h-1zM178,275h1v1h-1zM283,266h1v1h-1zM408,259h2v1h-2zM220,272h1v1h-1zM234,273h2v2h-2zM385,275h2v2h-2zM294,269h1v2h-1zM382,269h1v1h-1zM344,259h2v2h-2zM159,262h2v2h-2zM168,272h2v2h-2zM379,259h1v2h-1zM202,274h2v1h-2zM187,272h2v2h-2zM204,273h2v2h-2zM399,262h2v2h-2zM195,272h1v2h-1zM215,264h2v2h-2zM317,266h2v2h-2zM253,269h2v1h-2zM178,264h2v1h-2zM336,276h1v1h-1zM249,266h2v2h-2zM397,263h2v1h-2zM330,260h2v2h-2zM320,267h2v2h-2zM340,272h1v1h-1zM378,277h2v2h-2zM402,272h1v1h-1zM281,273h1v2h-1zM201,264h2v2h-2zM406,274h2v2h-2zM330,271h2v2h-2zM414,275h1v1h-1zM273,263h1v1h-1zM404,266h1v1h-1zM307,272h1v2h-1zM338,273h1v2h-1zM302,270h1v2h-1zM311,276h1v2h-1zM217,266h1v1h-1zM378,262h2v1h-2zM252,260h2v2h-2zM167,274h1v2h-1zM282,260h2v2h-2zM395,261h2v2h-2zM264,273h2v1h-2zM265,266h2v2h-2zM270,271h1v1h-1zM356,268h1v1h-1zM231,275h2v2h-2zM157,264h2v1h-2zM366,263h1v1h-1zM299,272h1v2h-1zM172,266h2v2h-2zM272,273h2v1h-2zM170,272h2v1h-2zM154,270h1v2h-1zM381,270h2v1h-2zM204,260h1v1h-1zM220,260h2v1h-2zM346,277h2v1h-2zM231,260h1v1h-1zM195,261h2v1h-2zM410,259h1v1h-1zM401,273h1v2h-1zM320,276h2v2h-2zM254,267h1v2h-1zM263,264h2v2h-2zM318,276h2v2h-2zM314,272h1v1h-1zM371,267h2v1h-2zM311,274h2v1h-2zM303,268h2v1h-2zM349,260h1v2h-1zM354,265h1v1h-1zM359,276h1v1h-1zM292,277h2v1h-2zM287,267h1v2h-1zM217,267h2v1h-2zM404,268h2v1h-2zM343,263h2v2h-2zM196,261h1v1h-1zM390,270h2v1h-2zM393,262h2v2h-2zM368,275h2v1h-2zM156,259h1v2h-1zM173,268h2v1h-2zM231,268h1v2h-1zM388,264h1v1h-1zM257,270h2v1h-2zM316,271h1v1h-1zM325,275h2v2h-2zM215,272h1v1h-1zM295,262h2v2h-2zM298,273h2v2h-2zM414,259h1v1h-1zM307,261h2v1h-2zM236,263h2v1h-2zM208,262h1v1h-1zM323,263h1v1h-1zM400,272h1v2h-1zM280,261h2v2h-2zM389,274h1v2h-1zM378,270h2v1h-2zM192,272h1v1h-1zM403,268h2v2h-2zM260,273h2v2h-2zM208,273h2v1h-2zM307,269h2v1h-2zM318,271h1v1h-1zM337,270h1v2h-1zM265,274h1v1h-1zM342,267h1v1h-1zM391,272h2v2h-2zM237,275h2v2h-2zM303,270h2v2h-2zM396,276h2v1h-2zM314,269h2v2h-2zM305,275h2v1h-2zM210,264h2v1h-2zM246,262h1v1h-1zM245,262h1v2h-1zM332,275h2v2h-2zM183,275h1v1h-1zM191,272h1v2h-1zM346,266h1v1h-1zM322,264h1v2h-1zM186,260h2v1h-2zM409,264h2v2h-2zM370,267h1v1h-1zM162,274h2v1h-2zM376,269h2v1h-2zM317,269h1v1h-1zM405,259h2v2h-2zM218,272h1v1h-1zM213,270h1v1h-1zM264,259h1v1h-1zM304,263h2v2h-2zM288,268h2v1h-2zM196,274h1v2h-1zM381,268h1v1h-1zM241,269h2v1h-2zM253,263h1v2h-1zM408,260h2v1h-2zM396,265h2v1h-2zM233,275h1v1h-1zM349,275h2v1h-2zM416,265h2v1h-2zM407,264h2v2h-2zM360,275h2v1h-2zM355,274h1v1h-1zM349,265h2v2h-2zM300,273h1v1h-1zM241,265h2v1h-2zM191,271h1v1h-1zM283,263h1v1h-1zM414,260h1v1h-1zM360,259h1v1h-1zM394,270h1v1h-1zM225,264h2v1h-2zM370,266h2v2h-2zM311,273h1v2h-1zM309,269h1v1h-1zM281,267h1v2h-1zM248,261h2v2h-2zM286,263h2v2h-2zM406,275h2v2h-2zM194,275h1v2h-1zM264,264h2v1h-2zM258,273h2v2h-2zM172,264h1v1h-1zM336,271h1v1h-1zM243,265h2v1h-2zM240,263h1v2h-1zM168,274h2v2h-2zM164,273h1v1h-1zM172,268h2v1h-2zM207,274h2v2h-2zM234,273h1v1h-1zM203,261h1v2h-1zM220,259h2v2h-2zM397,270h1v1h-1zM323,266h2v2h-2zM329,269h2v2h-2zM375,267h2v1h-2zM334,262h2v1h-2zM346,263h1v1h-1zM287,266h2v1h-2zM224,276h1v1h-1zM304,261h2v2h-2zM362,260h2v2h-2zM370,276h2v1h-2zM173,260h2v2h-2zM261,262h2v1h-2zM254,272h2v1h-2zM201,268h1v1h-1zM244,259h1v2h-1zM403,266h1v2h-1zM411,268h2v1h-2zM186,260h2v2h-2zM352,267h2v1h-2zM189,261h2v1h-2zM248,275h1v1h-1zM205,267h2v1h-2zM378,275h1v2h-1zM270,267h1v1h-1zM377,276h2v1h-2zM273,262h1v2h-1zM333,262h2v2h-2zM288,275h1v2h-1zM262,270h2v2h-2zM385,273h1v2h-1zM237,266h2v2h-2zM320,273h2v2h-2zM216,265h1v1h-1zM401,274h1v2h-1zM192,276h1v1h-1zM340,275h2v2h-2zM191,263h2v1h-2zM351,275h2v1h-2zM360,263h1v1h-1zM388,273h2v1h-2zM370,274h2v1h-2zM183,261h2v1h-2zM348,266h1v1h-1zM346,277h1v2h-1zM291,262h2v2h-2zM304,266h1v2h-1zM411,263h1v2h-1zM338,267h2v2h-2zM302,274h2v2h-2zM249,273h2v1h-2zM281,259h1v2h-1zM367,277h2v1h-2zM294,267h2v2h-2zM283,267h2v2h-2zM244,265h2v1h-2zM403,266h1v2h-1zM393,270h2v2h-2zM229,266h2v2h-2zM239,266h1v2h-1zM264,273h1v2h-1zM156,263h2v2h-2zM197,270h1v2h-1zM255,275h2v1h-2zM375,262h1v1h-1zM399,269h1v2h-1zM372,272h2v2h-2zM155,271h2v1h-2zM351,271h1v2h-1zM177,261h1v1h-1zM373,266h1v1h-1zM230,263h2v1h-2zM239,264h2v2h-2zM376,270h1v2h-1zM318,277h1v2h-1zM370,271h1v1h-1zM206,259h1v2h-1zM365,266h2v1h-2zM312,267h1v1h-1zM161,263h1v1h-1zM284,277h2v1h-2zM359,269h1v2h-1zM218,260h2v1h-2zM413,265h1v2h-1zM160,261h2v2h-2zM192,262h1v2h-1zM282,275h1v2h-1zM168,266h2v2h-2zM307,276h1v1h-1zM365,272h1v2h-1zM307,270h1v1h-1zM193,266h1v1h-1zM412,264h1v1h-1zM198,276h2v1h-2zM254,269h2v2h-2zM363,268h1v1h-1zM320,264h1v2h-1zM386,267h2v2h-2zM292,262h1v1h-1zM203,265h2v2h-2zM411,274h2v1h-2zM250,277h2v1h-2zM408,276h1v1h-1zM414,260h1v1h-1zM401,275h1v2h-1zM316,269h2v1h-2zM376,267h2v2h-2zM349,267h1v1h-1zM265,269h2v1h-2zM261,274h1v2h-1zM334,264h1v2h-1zM281,263h1v2h-1zM156,272h2v2h-2zM378,266h1v1h-1zM306,265h1v2h-1zM372,266h2v2h-2zM408,268h2v2h-2zM397,276h1v1h-1zM202,260h1v2h-1zM390,268h2v1h-2zM352,276h1v1h-1zM171,277h1v2h-1zM363,270h1v1h-1zM409,276h2v1h-2zM305,270h2v2h-2zM225,273h1v1h-1zM212,264h1v2h-1zM242,262h2v2h-2zM177,259h2v1h-2zM291,271h2v1h-2zM304,265h1v1h-1zM331,267h2v1h-2zM276,272h1v2h-1zM364,266h1v1h-1zM412,262h2v2h-2zM298,270h1v2h-1zM336,271h1v1h-1zM314,263h1v1h-1zM228,266h2v2h-2zM199,268h2v2h-2zM266,274h1v1h-1zM260,266h2v1h-2zM157,267h1v2h-1zM214,273h1v1h-1zM320,273h2v1h-2zM313,274h2v1h-2zM329,273h1v2h-1zM219,264h2v1h-2zM328,276h1v1h-1zM174,262h1v2h-1zM356,267h1v1h-1zM285,265h1v1h-1zM260,260h2v2h-2zM331,266h1v1h-1zM204,264h2v2h-2zM375,260h1v1h-1zM372,274h2v2h-2zM293,270h2v2h-2zM294,275h2v2h-2zM155,260h2v2h-2zM241,276h1v1h-1zM261,261h2v2h-2zM352,263h2v1h-2zM161,260h1v1h-1zM406,269h1v1h-1zM238,274h2v1h-2zM329,262h1v1h-1zM175,263h1v1h-1zM376,265h2v1h-2zM318,274h2v1h-2zM282,260h1v2h-1zM156,274h1v2h-1zM337,271h1v2h-1zM235,259h2v2h-2zM231,271h2v2h-2zM217,263h1v1h-1zM235,263h1v2h-1zM160,265h1v1h-1zM365,270h2v1h-2zM406,272h1v2h-1zM283,275h1v2h-1zM287,273h2v2h-2zM372,276h1v1h-1zM171,265h1v2h-1zM383,259h1v1h-1zM369,270h1v2h-1zM300,270h2v2h-2zM372,260h2v1h-2zM285,262h2v2h-2zM290,270h1v1h-1zM269,275h2v2h-2zM354,259h1v2h-1zM208,259h2v1h-2zM187,267h2v1h-2zM289,274h2v1h-2zM255,263h1v1h-1zM282,274h2v2h-2zM290,276h2v2h-2zM254,266h2v2h-2zM278,264h2v2h-2zM222,260h2v1h-2zM285,263h1v2h-1zM361,274h1v1h-1zM164,277h2v1h-2zM285,267h2v1h-2zM224,267h1v1h-1zM228,274h2v1h-2zM316,275h1v1h-1zM166,268h2v2h-2zM385,259h2v1h-2zM349,262h2v1h-2zM309,261h1v2h-1zM185,262h1v1h-1zM335,265h2v2h-2zM395,266h2v2h-2zM155,272h1v1h-1zM274,262h1v2h-1zM394,272h1v1h-1zM317,275h1v2h-1zM186,260h2v1h-2zM269,261h1v2h-1zM349,270h1v2h-1zM173,262h2v1h-2zM288,260h2v1h-2zM339,270h1v2h-1zM289,265h2v2h-2zM287,260h2v2h-2zM173,270h1v1h-1zM217,275h2v2h-2zM274,263h1v2h-1zM259,274h1v1h-1zM359,260h2v1h-2zM290,273h1v2h-1zM179,269h1v2h-1zM283,277h2v2h-2zM267,267h1v2h-1zM369,260h2v1h-2zM266,267h1v1h-1zM197,276h2v2h-2zM321,259h2v1h-2zM272,259h2v2h-2zM306,263h1v2h-1zM172,275h2v2h-2zM368,272h1v2h-1zM170,264h2v1h-2zM183,263h1v2h-1zM245,272h2v2h-2zM228,277h2v2h-2zM279,263h2v2h-2zM259,260h2v1h-2zM177,261h1v2h-1zM208,261h1v2h-1zM402,271h1v1h-1zM384,263h2v1h-2zM285,261h1v2h-1zM246,260h2v2h-2zM278,274h2v1h-2zM294,274h1v1h-1zM343,263h2v1h-2zM411,262h1v2h-1zM361,268h2v1h-2zM298,266h2v1h-2z" fill="#fff"/></g><g clip-path="url(#landc)"><path d="M167,299h1v2h-1zM184,286h2v2h-2zM201,294h2v1h-2zM208,292h2v1h-2zM200,286h2v1h-2zM195,292h2v2h-2zM191,281h1v2h-1zM187,299h1v2h-1zM160,300h1v1h-1zM182,295h1v2h-1zM180,284h1v1h-1zM183,302h1v1h-1zM200,285h1v1h-1zM165,293h2v2h-2zM169,305h2v2h-2zM174,306h2v2h-2zM175,293h1v2h-1zM185,293h2v1h-2zM189,288h1v1h-1zM177,305h1v2h-1zM181,284h1v1h-1zM209,291h2v1h-2zM205,293h2v2h-2zM171,295h2v2h-2zM184,303h1v1h-1zM179,304h2v1h-2zM184,287h2v2h-2zM181,296h2v2h-2zM175,294h1v2h-1zM166,300h2v2h-2zM189,287h2v2h-2zM179,285h2v2h-2zM175,306h2v2h-2zM184,286h2v1h-2zM168,303h2v1h-2zM196,295h1v1h-1zM190,294h1v1h-1zM183,281h2v1h-2zM203,286h1v2h-1zM198,286h2v1h-2zM175,305h1v2h-1zM184,296h1v1h-1zM185,300h1v2h-1zM174,297h2v1h-2zM162,302h2v1h-2zM177,288h2v2h-2zM162,302h2v2h-2zM194,299h2v2h-2zM186,290h2v2h-2zM193,281h1v2h-1zM197,292h2v1h-2zM180,289h2v1h-2zM184,300h2v1h-2zM200,297h1v2h-1zM171,305h2v2h-2zM175,290h1v1h-1zM186,297h2v2h-2zM198,292h1v1h-1zM181,298h1v2h-1zM192,299h1v2h-1zM185,286h1v2h-1zM196,284h2v2h-2zM183,292h1v2h-1zM194,298h1v2h-1zM170,289h1v2h-1zM161,297h2v2h-2zM187,282h1v2h-1zM169,290h1v1h-1zM178,283h2v2h-2zM186,281h2v1h-2zM180,304h2v1h-2zM170,302h2v2h-2zM189,282h2v1h-2zM167,293h2v2h-2zM183,302h1v2h-1zM174,297h1v1h-1zM194,285h1v2h-1zM177,284h2v2h-2zM173,302h2v2h-2zM180,299h2v2h-2zM163,303h2v1h-2zM185,300h2v1h-2zM184,304h2v2h-2zM194,286h1v1h-1zM177,297h1v1h-1zM198,298h2v1h-2zM185,291h2v1h-2zM205,290h1v1h-1zM171,296h1v2h-1zM187,302h1v2h-1zM170,294h1v2h-1zM206,294h1v1h-1zM167,298h2v2h-2zM193,287h2v2h-2zM202,286h2v2h-2z" fill="#000"/><path d="M145,315h1v1h-1zM142,314h2v2h-2zM139,315h1v2h-1zM138,309h1v1h-1zM148,303h2v1h-2zM147,313h1v2h-1zM153,303h1v2h-1zM147,309h1v1h-1zM149,306h1v2h-1zM141,303h2v2h-2zM139,307h1v1h-1zM147,303h1v1h-1zM148,302h2v1h-2zM152,314h2v2h-2zM146,308h2v2h-2zM146,313h2v2h-2zM143,301h2v2h-2zM153,306h2v2h-2zM138,315h2v2h-2zM149,306h1v1h-1zM153,303h2v1h-2zM150,314h2v1h-2zM142,303h1v2h-1zM142,310h2v2h-2zM144,306h2v2h-2zM146,311h2v2h-2zM145,308h1v1h-1zM153,305h1v2h-1zM152,311h2v1h-2zM148,303h1v2h-1zM147,312h1v2h-1zM148,301h2v1h-2zM151,301h2v1h-2zM149,302h2v2h-2zM150,310h2v1h-2zM148,303h1v1h-1zM155,302h2v1h-2zM155,311h2v1h-2zM139,310h1v1h-1zM144,303h2v1h-2zM143,312h1v1h-1zM143,308h1v2h-1zM152,306h1v2h-1zM143,314h1v2h-1zM153,301h1v2h-1zM138,305h2v1h-2zM144,308h1v1h-1zM142,308h1v1h-1zM143,305h2v1h-2zM144,302h1v1h-1zM149,315h2v2h-2zM147,303h2v1h-2zM150,311h1v2h-1zM143,309h1v1h-1z" fill="#000"/><path d="M209,284h2v1h-2zM202,288h2v1h-2zM210,290h1v1h-1zM209,288h2v1h-2zM207,292h2v2h-2zM209,284h1v1h-1zM207,291h2v1h-2zM195,288h2v2h-2zM200,291h1v1h-1zM192,290h1v1h-1zM204,289h2v2h-2zM206,288h1v2h-1zM212,286h2v1h-2zM193,292h2v1h-2zM214,286h2v2h-2zM206,284h1v1h-1zM193,288h1v1h-1zM193,284h1v1h-1zM212,285h2v2h-2zM210,292h2v2h-2zM205,283h1v1h-1zM208,290h2v1h-2zM208,285h2v2h-2zM200,287h2v2h-2zM208,292h2v1h-2zM205,287h2v2h-2z" fill="#000"/><path d="M337,282h1v1h-1zM275,289h2v2h-2zM380,289h1v2h-1zM294,278h1v1h-1zM330,280h2v2h-2zM242,295h2v1h-2zM296,282h1v1h-1zM294,280h1v2h-1zM312,284h2v1h-2zM273,283h1v1h-1zM271,289h2v2h-2zM295,276h2v2h-2zM282,285h2v2h-2zM226,295h2v1h-2zM311,284h1v1h-1zM301,279h1v1h-1zM317,283h1v2h-1zM385,290h2v2h-2zM222,287h2v1h-2zM338,276h2v1h-2zM387,285h1v1h-1zM308,287h1v2h-1zM335,283h1v1h-1zM368,289h1v1h-1zM219,286h1v1h-1zM279,278h2v2h-2zM346,278h1v1h-1zM396,283h1v1h-1zM401,287h2v2h-2zM377,278h1v2h-1zM356,288h2v1h-2z" fill="#000"/><path d="M274,306h1v1h-1zM237,292h2v2h-2zM258,288h2v1h-2zM247,286h2v2h-2zM273,288h2v2h-2zM253,297h2v2h-2zM251,287h1v1h-1zM260,300h2v1h-2zM276,293h1v2h-1zM276,292h1v2h-1zM260,303h2v1h-2zM266,298h2v2h-2z" fill="#000"/><path d="M174,313h2v1h-2zM150,302h2v1h-2zM172,301h2v1h-2zM178,304h1v1h-1zM161,314h1v1h-1zM141,302h2v2h-2zM175,306h1v2h-1zM163,316h1v2h-1zM180,302h1v2h-1zM186,300h1v2h-1zM171,300h2v1h-2zM154,314h1v1h-1zM154,303h2v1h-2zM179,316h1v2h-1zM152,312h2v1h-2zM144,307h2v1h-2zM171,304h2v1h-2zM172,315h2v1h-2zM162,303h2v1h-2zM165,303h2v1h-2zM152,310h2v1h-2zM158,312h2v2h-2zM142,305h1v2h-1zM151,302h2v2h-2zM156,314h1v2h-1zM141,314h1v2h-1zM160,312h1v1h-1zM141,316h2v2h-2zM178,308h2v2h-2zM180,313h1v2h-1zM154,304h1v2h-1zM175,300h1v1h-1zM183,315h1v1h-1zM173,306h2v2h-2zM183,304h2v2h-2zM172,305h1v1h-1zM158,299h2v2h-2zM178,302h2v1h-2zM180,308h2v1h-2zM185,301h1v1h-1zM145,300h2v1h-2zM184,308h2v2h-2zM142,314h1v2h-1z" fill="#000"/><path d="M197,316h1v2h-1zM212,299h2v1h-2zM194,311h2v2h-2zM198,304h1v1h-1z" fill="#000"/></g></g>
</defs>
<g clip-path="url(#box)">
<g clip-path="url(#gclip)"><path d="M145.5,340.1 L144.9,338.3 L143.2,337.6 L141.0,338.2 L141.3,335.4 L140.3,335.2 L141.3,332.8 L141.7,329.9 L140.4,327.8 L142.5,326.5 L145.5,327.4 L148.2,327.2 L151.2,327.5 L151.3,325.4 L151.8,322.8 L150.5,320.9 L148.8,320.7 L147.7,319.8 L147.1,319.2 L149.4,317.9 L150.9,318.8 L150.9,316.9 L151.9,317.7 L153.7,317.1 L155.3,316.0 L155.7,314.8 L157.7,313.8 L158.8,313.2 L159.8,312.1 L160.4,311.1 L161.8,310.2 L163.1,310.4 L165.1,310.1 L165.8,309.6 L165.2,308.0 L163.8,306.8 L165.3,305.4 L165.4,304.5 L167.9,303.3 L168.0,304.9 L168.0,305.1 L166.7,306.9 L167.6,308.2 L168.7,309.5 L170.7,309.1 L172.9,310.0 L175.7,309.5 L177.4,308.7 L179.2,308.7 L181.1,308.7 L182.3,307.4 L182.7,305.5 L183.7,304.5 L184.5,303.8 L187.1,304.2 L187.0,302.2 L185.6,299.1 L188.1,299.4 L190.2,301.5 L192.2,300.0 L194.9,300.9 L193.6,299.0 L191.6,298.2 L189.3,298.2 L187.4,299.7 L185.0,299.8 L183.3,298.0 L184.1,296.2 L182.7,294.8 L184.4,292.8 L186.3,292.1 L186.5,290.2 L188.3,291.8 L186.7,289.0 L182.3,289.2 L182.7,291.5 L181.2,293.8 L179.5,295.8 L177.4,296.6 L176.6,300.1 L178.4,299.3 L179.0,300.6 L176.9,301.0 L177.1,303.3 L176.3,305.4 L174.5,305.4 L173.4,306.8 L171.3,307.3 L170.5,306.0 L170.0,303.3 L170.1,299.9 L169.3,301.8 L166.5,300.3 L164.6,301.5 L163.7,301.6 L162.1,301.1 L161.8,299.2 L160.3,297.8 L160.7,296.3 L162.4,294.9 L164.7,292.2 L169.1,293.6 L168.9,291.5 L169.8,288.8 L172.2,287.2 L173.5,286.2 L174.7,284.7 L176.8,283.8 L179.8,283.1 L182.7,282.8 L184.7,282.2 L186.7,281.0 L189.3,279.0 L192.7,280.1 L195.5,281.2 L196.3,283.3 L199.1,284.5 L201.2,284.5 L203.1,284.7 L204.9,285.4 L207.2,285.2 L208.4,286.8 L210.4,287.8 L208.9,289.4 L206.6,290.3 L204.8,290.0 L203.1,288.4 L201.2,289.0 L199.7,288.0 L200.2,290.3 L201.7,291.7 L203.4,291.7 L204.5,292.3 L206.6,292.4 L208.1,291.4 L209.3,289.9 L211.5,289.1 L214.3,289.2 L214.4,287.0 L213.7,285.1 L215.5,284.6 L217.2,285.5 L219.2,286.4 L221.2,285.5 L223.2,285.0 L225.3,285.9 L227.5,285.7 L229.5,284.8 L231.7,285.1 L233.7,285.1 L235.7,284.0 L238.1,282.0 L240.1,282.6 L242.1,284.2 L245.4,283.0 L246.3,285.6 L249.3,284.4 L248.3,281.9 L245.3,280.9 L246.7,280.2 L248.9,278.4 L251.0,277.9 L253.7,277.8 L253.5,280.0 L253.3,281.8 L253.6,284.0 L254.8,286.3 L252.9,288.3 L254.1,286.7 L255.5,286.7 L258.1,283.8 L256.9,282.2 L254.8,280.7 L256.8,280.2 L257.3,278.0 L260.1,279.8 L262.1,279.2 L264.0,278.4 L264.8,276.2 L266.4,275.5 L268.2,277.3 L269.6,275.3 L271.7,276.8 L274.6,276.1 L273.9,274.4 L275.8,273.0 L278.1,274.0 L279.8,274.1 L281.5,273.4 L283.2,272.8 L284.9,272.3 L286.6,272.0 L288.3,271.5 L290.2,272.3 L291.8,271.6 L293.6,270.4 L295.5,269.6 L297.7,270.1 L299.8,269.9 L301.5,270.9 L301.4,272.2 L303.5,273.0 L305.4,272.6 L307.5,270.4 L309.0,271.5 L310.9,273.0 L309.1,274.4 L309.8,276.9 L311.9,276.1 L314.1,276.0 L316.0,277.5 L318.2,278.4 L320.0,278.4 L321.8,276.9 L323.7,278.0 L325.8,277.4 L327.8,276.7 L329.1,278.6 L331.8,278.1 L332.7,281.1 L334.3,279.6 L336.0,279.6 L338.2,281.0 L340.3,279.3 L342.1,280.6 L343.9,280.3 L346.4,280.6 L347.2,278.2 L348.9,278.2 L350.6,278.2 L352.3,279.5 L354.0,279.0 L355.6,280.1 L357.4,280.3 L359.4,279.0 L361.0,280.2 L363.7,280.3 L365.5,280.0 L367.4,280.0 L369.2,281.6 L371.1,281.6 L372.9,281.9 L375.1,281.1 L376.9,283.6 L378.7,283.9 L380.4,282.9 L382.2,283.3 L384.0,282.5 L385.8,282.1 L387.6,282.2 L389.3,283.4 L391.4,282.8 L393.4,283.8 L395.6,282.9 L397.8,282.9 L399.6,284.5 L402.3,285.2 L404.7,284.1 L406.1,286.1 L408.3,285.7 L410.1,286.3 L411.5,288.3 L413.9,287.4 L415.3,288.4 L416.5,288.6 L415.2,290.0 L414.1,290.7 L412.2,292.7 L410.1,292.5 L408.3,291.5 L406.3,291.7 L405.1,289.5 L402.6,291.3 L399.7,291.9 L398.8,293.4 L398.5,295.6 L396.4,296.3 L394.2,296.5 L393.0,298.1 L390.8,298.3 L389.3,300.3 L387.2,300.2 L385.3,298.3 L383.2,299.4 L380.2,299.6 L379.1,301.2 L377.9,303.0 L379.2,304.1 L378.8,305.4 L377.3,308.0 L375.9,309.3 L374.9,311.3 L373.0,311.6 L371.4,313.0 L370.7,314.5 L369.3,312.1 L369.1,310.0 L368.8,307.9 L368.4,306.2 L369.1,304.6 L370.6,302.9 L372.4,302.6 L373.3,301.1 L374.8,300.0 L376.7,299.7 L377.9,297.7 L379.7,296.4 L377.6,296.3 L375.1,295.8 L374.1,297.7 L372.0,297.6 L370.2,297.2 L369.1,298.3 L367.3,298.8 L366.4,299.6 L364.9,300.9 L363.1,301.1 L361.0,300.7 L358.9,300.5 L356.8,300.5 L354.8,301.1 L353.0,301.5 L351.6,301.1 L350.0,302.4 L347.8,302.8 L346.6,304.8 L344.9,306.0 L342.5,306.7 L341.0,308.2 L343.6,309.8 L345.8,310.4 L347.6,311.5 L349.4,312.8 L347.9,315.5 L347.5,317.2 L347.9,319.1 L346.0,319.8 L345.3,321.6 L343.7,322.6 L342.4,323.9 L341.5,325.4 L340.3,326.7 L339.1,327.8 L337.5,328.4 L335.2,327.8 L334.2,329.4 L332.7,331.2 L330.8,333.5 L329.6,334.6 L331.6,335.8 L332.7,338.6 L332.4,340.4 L330.4,341.3 L328.8,342.5 L328.5,341.7 L329.1,339.8 L328.2,338.3 L328.6,337.2 L326.4,336.5 L326.7,334.3 L325.4,333.2 L323.8,333.8 L322.4,334.7 L320.8,335.0 L322.3,334.0 L322.8,332.1 L320.9,331.6 L318.8,333.3 L316.4,334.4 L316.3,335.7 L317.9,337.3 L318.1,337.9 L320.5,336.7 L323.2,337.9 L320.8,338.8 L319.8,340.3 L318.5,341.6 L320.3,342.6 L320.8,345.4 L322.5,347.0 L322.4,348.8 L321.7,349.4 L322.0,350.2 L321.7,352.6 L320.3,354.8 L318.7,357.3 L317.6,359.5 L315.5,361.2 L312.6,362.1 L311.5,363.0 L310.5,363.0 L308.5,363.9 L305.9,364.7 L306.5,366.1 L305.2,365.0 L303.6,364.2 L301.6,365.5 L301.6,367.2 L300.1,368.5 L299.6,370.3 L299.9,372.0 L301.2,373.8 L303.9,374.2 L303.9,377.0 L305.9,379.5 L304.9,382.4 L302.2,382.8 L300.2,382.7 L301.1,385.1 L299.7,385.8 L299.4,384.0 L297.9,383.5 L297.1,382.4 L296.7,380.6 L294.9,380.1 L293.6,379.1 L293.0,377.2 L291.6,377.9 L290.8,379.7 L290.2,381.3 L289.6,383.4 L291.0,385.1 L293.1,386.4 L292.8,387.8 L294.3,388.4 L294.7,390.2 L295.9,392.3 L297.7,393.6 L296.6,396.2 L297.5,397.6 L296.4,398.6 L295.3,397.1 L292.8,396.0 L293.3,393.3 L291.2,391.7 L293.0,389.0 L291.4,387.5 L289.8,386.7 L289.0,383.9 L291.0,382.1 L291.2,379.5 L288.4,377.3 L289.7,375.3 L289.5,373.4 L288.2,372.1 L286.6,372.2 L285.4,374.0 L284.3,373.6 L284.7,370.9 L283.5,369.5 L283.1,367.7 L281.4,365.8 L280.5,364.2 L280.5,362.9 L279.1,362.7 L277.6,363.3 L275.9,363.7 L274.2,364.4 L273.1,366.4 L271.0,368.1 L270.1,369.6 L268.9,370.8 L267.5,372.7 L265.8,373.4 L265.0,375.3 L264.7,377.8 L264.2,379.5 L264.3,381.1 L263.8,383.1 L262.6,384.9 L261.3,385.8 L260.5,387.0 L259.3,385.6 L258.7,382.8 L257.8,380.7 L256.9,377.8 L256.1,376.2 L256.0,374.4 L255.3,371.8 L254.9,370.1 L254.6,368.5 L254.4,366.0 L253.9,364.3 L253.2,363.0 L253.0,364.4 L251.5,365.4 L250.2,364.4 L249.0,363.0 L250.5,362.8 L249.2,362.0 L247.7,361.0 L246.8,359.0 L245.6,357.7 L242.7,357.7 L240.7,357.8 L238.8,357.7 L235.7,358.1 L232.8,357.1 L232.1,354.8 L231.0,355.0 L228.9,355.7 L226.7,355.3 L224.6,353.5 L222.8,351.5 L221.3,349.5 L219.9,350.0 L219.6,351.4 L220.7,353.0 L221.8,355.5 L222.8,356.8 L223.8,358.1 L224.7,357.1 L224.9,359.0 L226.1,359.5 L227.9,359.4 L230.1,357.6 L231.2,356.4 L231.3,358.8 L233.0,360.7 L234.8,360.9 L235.8,362.8 L234.9,365.7 L233.2,367.5 L231.9,369.4 L229.9,370.8 L227.9,371.6 L226.2,373.0 L224.2,375.2 L222.6,375.7 L221.3,376.6 L220.0,377.2 L218.4,378.3 L216.5,378.7 L214.4,379.4 L213.5,379.1 L213.3,376.9 L212.6,374.4 L212.5,372.5 L211.2,369.5 L209.7,367.1 L208.6,365.7 L207.9,364.2 L207.4,362.6 L206.9,360.9 L205.1,358.4 L204.1,357.0 L203.4,355.5 L202.2,353.2 L201.8,353.3 L201.5,350.8 L201.2,353.5 L200.1,352.4 L198.9,350.1 L198.2,348.1 L200.7,347.8 L201.6,345.2 L202.8,343.3 L203.5,340.8 L203.4,338.9 L202.7,339.2 L201.2,338.3 L198.9,339.7 L196.4,338.6 L194.4,339.9 L192.7,338.5 L191.4,337.2 L189.8,336.0 L190.6,334.1 L189.9,333.2 L190.1,332.6 L189.5,331.8 L188.0,331.3 L186.4,331.8 L185.3,332.1 L185.9,333.2 L184.8,334.0 L185.5,334.8 L186.8,336.4 L185.0,336.7 L185.2,339.3 L184.4,339.6 L183.8,338.4 L182.7,336.9 L183.3,336.1 L182.1,335.0 L181.3,333.5 L180.0,332.5 L180.6,330.6 L179.5,329.0 L177.8,327.9 L175.5,327.4 L174.3,325.4 L173.2,324.6 L172.4,324.6 L172.3,323.9 L170.4,324.1 L170.2,325.7 L171.0,326.5 L172.5,327.2 L173.0,329.5 L175.3,330.0 L175.8,331.2 L177.7,331.5 L178.7,332.9 L179.0,333.4 L177.4,332.6 L176.4,333.6 L177.0,334.9 L175.8,336.3 L174.9,336.5 L175.5,335.3 L175.0,333.3 L174.4,332.4 L173.2,331.9 L172.5,330.6 L170.8,330.1 L168.9,329.1 L167.8,328.2 L167.6,326.6 L166.0,326.0 L164.2,327.0 L162.5,327.8 L160.7,327.7 L159.5,327.2 L158.0,327.9 L157.8,329.6 L156.2,330.8 L154.7,332.1 L153.4,333.8 L153.9,335.4 L152.5,337.2 L151.0,338.9 L150.3,338.8 L147.6,339.1 L146.2,339.3Z M144.9,340.1 L144.6,341.4 L144.3,343.6 L143.2,344.2 L140.3,345.7 L139.7,348.4 L140.1,349.3 L139.5,351.3 L137.5,352.9 L135.4,354.0 L133.5,356.2 L133.0,359.3 L131.4,360.6 L130.8,362.9 L129.8,365.2 L130.5,367.7 L131.0,370.1 L130.6,373.2 L129.9,375.5 L129.5,375.7 L130.7,377.7 L130.7,379.5 L132.1,381.1 L133.6,382.6 L134.9,384.5 L135.1,386.7 L136.2,388.1 L137.8,389.4 L139.8,390.5 L141.6,391.6 L143.1,392.9 L145.9,391.6 L147.6,391.9 L149.2,392.3 L150.8,392.7 L153.4,390.8 L155.2,390.6 L157.0,390.2 L159.6,390.0 L160.8,391.4 L161.8,393.5 L163.2,393.4 L165.4,392.7 L165.8,393.9 L166.6,396.2 L167.1,398.9 L166.2,400.4 L165.5,402.3 L166.7,404.7 L168.0,406.4 L169.8,408.6 L170.2,410.7 L171.1,412.3 L171.5,414.0 L172.3,416.5 L172.2,419.0 L172.0,421.0 L170.8,423.4 L170.2,425.4 L169.4,427.4 L169.6,429.1 L169.8,430.8 L170.9,432.8 L171.6,434.9 L172.2,436.8 L173.6,438.4 L173.4,440.5 L173.6,442.6 L175.2,442.6 L176.8,442.6 L178.4,442.6 L180.0,442.6 L181.6,442.6 L183.2,442.6 L184.9,442.6 L186.5,442.6 L188.1,442.6 L189.7,442.6 L191.3,442.6 L192.9,442.6 L194.5,442.6 L196.2,442.6 L197.8,442.6 L199.4,442.6 L201.0,442.6 L202.6,442.6 L202.6,440.9 L202.2,439.2 L202.7,437.5 L201.5,434.4 L202.6,433.2 L204.3,432.4 L205.2,430.2 L207.5,429.1 L209.4,426.7 L209.4,424.1 L209.3,422.4 L209.9,420.7 L209.5,418.2 L209.2,416.0 L208.0,414.1 L207.7,412.0 L207.2,408.8 L208.6,407.3 L208.8,405.0 L211.2,403.6 L211.9,401.1 L213.8,399.0 L215.8,396.9 L217.6,394.5 L219.9,392.2 L220.2,390.4 L221.0,388.9 L222.8,386.3 L223.7,383.6 L224.6,381.0 L222.9,380.7 L221.3,381.8 L219.3,382.2 L217.2,382.6 L215.1,382.9 L213.7,381.5 L212.7,381.1 L212.4,379.7 L211.0,378.0 L209.9,376.1 L208.8,374.3 L207.9,373.2 L207.2,370.3 L205.6,369.0 L205.3,366.8 L205.1,365.1 L204.5,363.5 L203.4,362.0 L202.9,360.2 L202.5,359.3 L201.0,356.9 L200.4,354.7 L200.1,353.1 L198.9,351.8 L198.7,350.2 L198.2,347.9 L196.4,347.3 L195.2,347.9 L193.7,348.1 L191.5,348.2 L190.0,347.5 L188.3,347.4 L186.4,347.0 L185.3,345.6 L183.4,345.4 L181.7,346.3 L181.4,348.6 L179.6,349.8 L177.6,348.7 L175.1,347.1 L174.5,346.1 L171.8,344.7 L169.6,344.4 L167.7,343.8 L168.3,341.6 L168.8,338.6 L167.5,338.1 L167.0,337.6 L165.3,338.1 L163.1,338.0 L160.4,338.5 L157.7,338.8 L154.9,339.1 L152.7,340.0 L150.7,341.9 L148.5,341.6 L146.2,340.1Z M221.9,420.6 L222.3,422.8 L223.1,424.9 L223.3,426.6 L222.3,429.1 L222.2,431.3 L221.7,433.4 L220.4,435.4 L220.4,437.6 L220.1,439.3 L219.5,440.9 L219.2,442.6 L217.6,442.6 L216.0,442.6 L214.4,442.6 L214.2,440.6 L214.2,438.6 L214.3,436.8 L214.4,435.0 L215.0,433.3 L214.7,431.2 L214.1,428.8 L215.9,428.4 L217.2,427.3 L218.2,425.6 L219.3,423.9 L221.3,421.8Z M263.8,389.6 L263.6,387.9 L263.8,386.2 L264.7,383.8 L266.2,386.1 L266.9,388.8 L265.6,390.0 L264.4,390.4Z M-78.6,290.9 L-76.3,288.2 L-73.5,289.0 L-71.6,288.4 L-69.7,288.7 L-72.1,289.2 L-72.6,287.0 L-74.4,286.3 L-75.8,286.0 L-74.4,285.3 L-72.1,282.7 L-70.0,282.1 L-67.7,282.0 L-65.7,280.7 L-63.3,280.1 L-61.4,280.3 L-59.6,281.8 L-56.9,282.0 L-55.0,282.1 L-53.0,281.4 L-51.3,282.9 L-49.4,282.3 L-47.5,281.9 L-45.7,282.4 L-43.6,282.7 L-41.4,282.4 L-39.5,283.7 L-37.4,283.8 L-35.3,284.0 L-33.2,284.4 L-30.4,283.8 L-28.4,282.9 L-26.1,283.3 L-23.9,282.7 L-21.5,282.7 L-19.5,284.8 L-17.6,282.2 L-15.9,282.6 L-14.2,282.8 L-12.8,285.1 L-10.9,284.7 L-9.2,285.2 L-7.2,284.2 L-5.6,285.2 L-4.0,286.5 L-2.0,284.3 L-0.3,284.6 L1.2,284.5 L3.1,285.6 L4.9,286.5 L6.5,285.5 L8.3,284.9 L10.0,285.5 L11.9,284.8 L13.2,287.4 L15.1,285.9 L17.2,285.4 L19.3,285.5 L22.9,286.5 L23.5,283.0 L25.1,285.0 L27.2,283.6 L29.1,284.2 L31.0,284.1 L32.4,287.1 L33.6,286.0 L34.5,284.3 L36.4,282.4 L38.0,284.3 L40.4,285.1 L40.5,287.1 L38.4,287.2 L36.5,288.2 L35.0,289.8 L34.6,291.5 L31.9,290.9 L30.2,291.7 L29.8,294.7 L27.6,294.8 L26.3,296.1 L23.9,296.3 L24.8,299.0 L23.4,301.0 L23.7,303.5 L25.5,304.7 L27.3,304.5 L28.8,305.0 L31.0,305.7 L33.0,306.9 L35.9,307.1 L37.8,306.8 L40.5,307.5 L39.9,309.4 L39.7,311.4 L40.9,312.5 L41.9,313.7 L44.5,313.9 L45.1,312.1 L44.6,310.4 L43.9,308.4 L46.2,308.2 L47.8,306.3 L48.2,303.2 L47.4,301.8 L44.6,300.6 L46.1,298.8 L46.3,295.7 L47.9,295.7 L49.5,296.0 L51.3,295.4 L53.5,296.0 L54.2,298.3 L56.7,298.6 L56.6,301.2 L59.6,302.5 L61.3,300.7 L63.1,300.1 L64.0,299.2 L65.0,300.9 L66.9,301.9 L68.9,303.4 L68.8,305.4 L69.7,308.0 L71.4,308.3 L74.1,308.9 L73.9,311.8 L75.9,313.3 L74.9,314.7 L72.7,314.2 L71.9,317.0 L69.8,317.1 L67.8,316.4 L65.6,315.4 L63.6,316.1 L61.5,316.4 L59.6,317.3 L58.1,318.9 L56.5,320.0 L55.1,321.2 L57.5,320.6 L58.9,318.9 L60.8,318.0 L62.6,318.4 L64.4,318.3 L63.5,319.7 L64.2,321.4 L64.9,323.0 L66.7,323.0 L68.4,323.2 L70.5,322.7 L69.1,324.2 L67.5,325.2 L65.6,325.4 L64.1,326.4 L62.2,327.4 L62.0,326.1 L64.3,324.0 L62.3,324.5 L60.7,324.8 L58.5,325.7 L56.5,327.0 L55.8,328.7 L56.7,330.5 L54.7,331.1 L53.1,331.7 L51.0,332.1 L51.4,334.3 L49.4,334.9 L48.9,336.8 L48.1,338.4 L49.3,341.4 L47.6,342.0 L45.8,343.7 L43.8,344.5 L41.5,346.6 L40.8,349.2 L41.6,350.9 L41.8,352.6 L42.7,354.2 L43.1,356.0 L42.3,357.8 L40.8,358.1 L40.0,355.6 L38.9,353.4 L38.9,351.1 L36.9,350.1 L35.3,350.5 L33.2,349.3 L31.1,349.3 L29.6,349.7 L29.8,351.7 L28.3,351.4 L26.2,350.7 L23.5,350.7 L21.2,351.7 L18.9,353.6 L19.0,356.8 L18.2,358.4 L18.8,360.1 L18.5,361.8 L18.0,363.6 L19.3,365.8 L20.3,368.6 L22.9,370.3 L24.5,369.6 L26.2,369.2 L27.2,368.4 L28.3,366.0 L28.6,365.1 L30.2,365.0 L31.8,364.2 L33.2,364.6 L32.5,367.7 L31.4,370.2 L31.3,372.9 L33.0,372.9 L34.5,374.1 L37.3,373.9 L38.4,375.3 L37.8,376.9 L38.1,378.6 L38.0,380.3 L37.9,381.8 L39.0,383.5 L39.8,385.6 L42.8,384.9 L44.1,384.6 L46.3,386.4 L47.8,385.9 L48.2,384.3 L49.2,383.1 L50.4,381.9 L52.3,381.1 L53.6,380.4 L54.2,381.9 L54.4,383.4 L55.6,384.5 L55.4,382.4 L56.5,380.8 L58.7,382.7 L60.5,383.0 L62.2,382.3 L65.0,383.0 L68.0,382.4 L68.3,383.8 L69.3,386.6 L70.4,386.8 L72.5,388.8 L74.6,390.7 L77.4,390.5 L80.2,391.2 L82.2,393.3 L82.7,395.6 L84.2,398.0 L84.4,400.5 L86.4,402.3 L88.5,401.6 L90.0,403.2 L91.9,404.7 L93.6,405.0 L95.4,405.1 L98.2,405.3 L100.0,407.1 L102.4,408.5 L104.7,409.8 L105.7,412.5 L105.6,414.1 L105.3,415.8 L103.9,416.8 L103.2,418.3 L101.8,419.8 L100.6,422.5 L99.7,424.0 L99.4,425.7 L99.6,427.9 L99.5,430.0 L99.1,431.7 L98.4,433.3 L97.7,435.9 L97.0,438.0 L95.1,439.2 L95.4,440.9 L95.4,442.6 L93.8,442.6 L92.1,442.6 L90.5,442.6 L88.8,442.6 L87.2,442.6 L85.5,442.6 L83.9,442.6 L82.3,442.6 L80.6,442.6 L79.0,442.6 L77.3,442.6 L75.7,442.6 L74.0,442.6 L72.4,442.6 L70.8,442.6 L69.1,442.6 L67.5,442.6 L65.8,442.6 L64.2,442.6 L62.5,442.6 L60.9,442.6 L59.3,442.6 L57.6,442.6 L56.0,442.6 L56.1,440.9 L56.5,439.2 L56.6,437.6 L56.5,435.8 L56.2,433.6 L56.0,431.6 L55.3,429.9 L53.9,429.2 L52.3,428.6 L51.2,427.3 L49.4,426.8 L48.8,425.0 L48.0,423.2 L47.4,421.2 L46.3,419.3 L45.4,417.5 L44.4,415.3 L43.8,413.0 L42.2,411.6 L41.1,409.7 L42.0,407.6 L43.2,405.5 L42.8,403.8 L42.6,402.3 L42.6,398.8 L44.5,398.0 L45.1,396.1 L46.4,394.6 L46.6,392.9 L46.5,391.2 L46.7,389.5 L45.2,387.2 L43.5,387.0 L42.1,388.3 L39.9,386.9 L38.5,385.5 L36.9,384.3 L35.4,383.6 L35.0,381.8 L33.8,380.1 L32.5,378.5 L30.4,377.8 L28.6,377.7 L27.1,376.8 L25.7,375.9 L25.0,374.1 L22.7,372.9 L19.9,374.3 L17.4,372.7 L15.6,372.0 L13.9,371.1 L11.9,370.9 L10.2,369.8 L8.7,368.5 L8.0,366.9 L7.8,364.4 L6.8,362.2 L5.7,360.1 L4.0,358.5 L3.2,357.1 L2.1,355.8 L0.9,354.7 L0.3,353.1 L-1.2,351.6 L-2.4,349.9 L-3.8,348.3 L-5.4,347.0 L-4.6,349.8 L-4.3,351.6 L-3.4,353.0 L-1.8,354.0 L-1.1,355.8 L-0.0,357.4 L0.9,359.1 L2.1,361.7 L0.6,361.0 L-0.7,359.9 L-1.4,358.4 L-2.7,356.6 L-4.5,355.2 L-5.5,352.5 L-6.1,350.8 L-6.7,349.0 L-7.3,347.3 L-8.2,345.6 L-10.5,343.4 L-13.7,342.4 L-14.4,340.6 L-15.4,339.0 L-15.7,336.7 L-17.0,335.5 L-17.7,334.0 L-18.2,332.5 L-18.2,329.8 L-18.3,328.2 L-18.4,326.3 L-18.2,324.5 L-18.3,322.8 L-18.7,320.9 L-18.9,319.9 L-16.9,319.0 L-17.2,316.9 L-18.7,314.8 L-20.8,314.8 L-21.4,314.3 L-24.0,312.6 L-26.2,312.3 L-27.2,310.1 L-26.5,305.8 L-29.9,306.7 L-31.4,306.0 L-33.2,305.1 L-33.0,300.4 L-36.5,302.5 L-38.5,302.3 L-39.5,300.5 L-41.3,300.5 L-42.9,299.1 L-45.6,299.2 L-47.5,299.0 L-49.3,297.8 L-51.5,300.3 L-54.0,300.1 L-56.2,300.9 L-55.9,299.1 L-53.7,298.1 L-57.4,298.1 L-58.5,299.4 L-58.8,301.2 L-60.7,303.5 L-62.3,304.0 L-63.9,304.6 L-65.0,305.8 L-66.5,306.5 L-69.5,306.6 L-72.0,308.1 L-74.5,308.8 L-72.2,308.4 L-70.4,307.0 L-68.9,304.8 L-66.5,304.5 L-65.7,303.1 L-64.5,302.4 L-66.4,301.8 L-68.2,301.0 L-69.7,301.6 L-70.8,300.4 L-72.6,300.1 L-74.6,299.0 L-75.3,297.1 L-76.1,296.2 L-74.1,294.4 L-72.5,294.0 L-70.8,293.9 L-69.6,293.6 L-69.2,291.1 L-72.0,292.4 L-73.7,292.2 L-75.3,291.7 L-76.6,290.2Z M310.7,438.3 L311.5,437.2 L313.9,435.4 L316.0,435.0 L318.1,434.1 L321.0,433.4 L321.6,431.8 L322.8,430.5 L324.0,428.0 L325.6,426.5 L326.6,425.2 L327.8,423.7 L329.8,424.3 L331.8,425.3 L333.1,423.4 L334.7,421.6 L336.3,418.9 L337.1,421.0 L340.3,421.3 L342.3,420.5 L342.0,423.3 L341.0,425.7 L342.9,427.5 L344.5,428.4 L345.8,429.4 L348.1,429.9 L348.5,428.2 L349.5,426.6 L349.2,424.5 L349.3,422.4 L350.0,420.8 L350.6,420.0 L351.1,418.3 L352.4,419.5 L351.6,421.5 L351.8,424.3 L354.2,425.8 L354.6,428.3 L355.7,430.7 L356.4,432.2 L358.4,434.1 L359.6,435.8 L361.4,437.8 L361.5,439.4 L361.9,441.0 L362.4,442.6 L360.7,442.6 L359.1,442.6 L357.5,442.6 L355.8,442.6 L354.2,442.6 L352.5,442.6 L350.9,442.6 L349.2,442.6 L347.6,442.6 L346.0,442.6 L344.3,442.6 L342.7,442.6 L341.0,442.6 L339.4,442.6 L337.7,442.6 L336.1,442.6 L334.5,442.6 L332.8,442.6 L331.2,442.6 L329.5,442.6 L327.9,442.6 L326.2,442.6 L324.6,442.6 L323.0,442.6 L321.3,442.6 L319.7,442.6 L318.0,442.6 L316.4,442.6 L314.7,442.6 L313.1,442.6 L311.5,442.6 L309.8,442.6 L310.3,440.5Z M304.3,398.0 L305.4,396.6 L307.3,398.2 L308.0,396.1 L309.8,395.1 L311.9,393.9 L312.3,390.9 L314.4,389.2 L315.7,389.0 L318.1,389.4 L319.1,392.3 L315.9,392.9 L315.4,394.8 L317.0,396.9 L316.6,398.0 L317.2,398.3 L316.4,401.6 L314.4,403.8 L314.2,405.5 L314.3,406.9 L312.4,405.9 L310.0,404.7 L307.2,405.1 L306.8,405.1 L306.3,401.7 L304.7,400.5Z M285.5,390.4 L288.4,391.7 L290.5,393.4 L290.1,395.9 L292.1,396.1 L293.8,397.7 L294.5,399.8 L296.9,400.4 L297.1,403.8 L298.6,404.7 L300.0,405.5 L299.7,407.9 L299.9,410.0 L297.8,410.5 L297.6,407.9 L295.1,407.4 L295.2,405.2 L294.1,404.4 L291.4,403.5 L291.3,401.6 L291.0,399.5 L290.8,397.1 L288.3,396.7 L287.9,394.4 L286.2,393.0Z M300.0,412.7 L300.4,409.3 L302.8,411.7 L304.6,411.4 L306.2,412.9 L309.2,411.9 L310.8,413.4 L311.6,416.0 L310.3,413.5 L308.4,414.7 L305.5,414.9 L302.8,414.0 L300.4,412.7Z M334.6,402.1 L336.3,400.7 L337.9,402.4 L339.6,404.0 L339.5,405.2 L342.4,405.0 L344.2,402.0 L345.7,403.1 L347.5,403.5 L349.8,405.8 L351.3,407.2 L353.2,407.4 L355.0,408.0 L355.1,410.6 L356.6,410.8 L358.3,412.2 L358.7,413.6 L359.2,416.2 L361.2,416.6 L359.1,416.7 L357.6,415.0 L355.6,413.4 L353.4,413.7 L352.0,415.4 L350.3,416.0 L348.8,415.7 L347.1,415.1 L345.3,414.8 L345.4,413.5 L344.0,412.0 L343.6,409.3 L341.9,408.8 L340.6,406.8 L337.5,407.9 L336.2,405.4 L338.2,403.8 L335.6,402.8Z M304.1,368.5 L306.3,365.6 L307.6,367.8 L305.5,370.6 L304.9,369.3Z M319.7,361.7 L319.9,363.4 L321.1,361.3 L322.5,359.1 L321.5,357.9 L320.3,359.2Z M317.1,405.4 L319.4,403.7 L319.9,401.6 L318.4,398.7 L320.5,399.4 L323.8,399.3 L326.0,397.8 L325.7,401.1 L323.7,398.9 L321.9,399.8 L320.8,402.6 L324.0,401.9 L321.6,402.8 L321.1,405.8 L323.0,408.5 L321.6,408.0 L319.1,405.1 L319.2,407.5 L320.2,408.9 L317.8,410.0 L318.7,407.6Z M145.6,316.4 L148.7,316.0 L150.4,315.8 L152.2,315.5 L153.8,314.9 L155.8,314.4 L155.6,312.2 L153.9,310.6 L153.5,309.1 L151.9,307.7 L150.9,305.1 L148.5,305.7 L150.0,305.3 L150.4,304.3 L149.1,301.7 L146.4,301.8 L147.2,304.6 L145.7,304.7 L146.4,306.6 L146.7,308.5 L148.8,308.3 L149.5,310.2 L146.8,311.8 L147.9,313.3 L146.3,313.6 L148.8,314.3 L147.6,315.0Z M165.4,329.8 L166.6,328.1 L167.1,329.6 L166.4,330.5 L165.3,330.6Z M164.9,331.7 L166.3,330.9 L167.0,332.1 L166.9,334.8 L166.0,334.6 L165.4,334.7 L165.4,333.1Z M170.6,336.5 L172.2,336.3 L174.7,335.9 L174.4,338.2 L174.4,338.7 L173.3,338.1 L170.5,337.3Z M186.0,341.1 L187.4,341.1 L189.8,341.0 L189.4,341.9 L187.5,341.9 L186.1,341.3Z M198.0,341.8 L199.2,341.1 L201.2,340.5 L200.3,341.5 L199.1,342.5Z M156.5,333.5 L157.7,333.5 L158.2,333.6 L157.9,334.0 L157.0,334.2Z M349.1,330.8 L349.9,332.3 L349.8,333.9 L348.2,336.0 L348.3,338.2 L348.3,340.4 L347.1,341.5 L345.8,342.2 L344.4,342.2 L343.0,343.0 L341.7,344.0 L340.4,343.4 L338.9,342.4 L336.8,343.0 L334.9,343.4 L335.1,342.6 L336.9,341.5 L338.9,341.2 L341.9,340.4 L343.0,337.6 L343.2,338.3 L345.0,337.1 L346.4,335.7 L347.3,333.2 L347.6,331.4Z M333.3,343.7 L334.8,343.4 L335.6,345.2 L335.5,348.0 L334.2,348.3 L333.5,346.7 L333.0,345.0Z M336.7,344.7 L338.1,344.2 L339.6,343.7 L339.6,343.0 L337.4,342.9 L336.7,344.1Z M358.9,409.7 L361.2,410.0 L363.1,407.5 L363.3,407.5 L363.8,410.8 L361.3,409.9 L359.5,410.6Z M324.5,418.0 L326.1,415.3 L328.2,415.7 L328.9,413.7 L329.2,416.5 L327.0,416.7 L325.5,418.0Z M319.4,416.0 L321.4,414.6 L323.6,414.1 L323.4,414.9 L321.3,414.5 L320.6,415.0Z M314.8,413.9 L316.9,414.3 L318.2,416.2 L315.9,415.4Z" fill="#aaaaaa"/><path d="M193.6,331.4 L192.1,330.3 L192.0,328.9 L191.7,327.6 L193.2,326.6 L193.2,324.8 L194.5,324.2 L195.2,322.9 L196.2,322.5 L198.5,322.9 L200.1,323.4 L198.5,324.0 L199.9,326.0 L201.2,325.3 L202.7,324.9 L204.1,324.2 L205.5,325.1 L206.3,326.2 L208.4,326.8 L209.3,328.4 L211.2,329.5 L210.8,330.4 L209.3,331.5 L206.7,332.0 L204.5,331.5 L202.5,330.7 L200.8,330.1 L199.3,330.2 L197.1,331.4 L195.4,331.4Z M201.9,323.9 L204.2,324.1 L206.2,322.4 L207.7,320.6 L205.4,321.5 L203.8,321.9 L202.4,322.6Z M219.2,328.1 L220.6,330.1 L221.9,332.3 L221.7,334.1 L221.0,336.0 L222.1,337.1 L223.4,338.2 L225.1,338.6 L226.9,338.6 L228.6,337.7 L227.9,335.1 L226.7,333.2 L226.4,330.5 L227.2,330.8 L226.6,329.6 L224.5,327.8 L224.4,325.8 L223.1,325.5 L225.0,324.5 L226.9,321.8 L224.0,321.1 L221.4,322.5 L219.3,324.0 L217.9,325.4Z" fill="#fff"/><path d="M197.4,400.3 L199.2,399.9 L200.6,401.0 L201.1,402.9 L199.8,404.6 L198.4,404.8 L197.1,403.5Z M193.9,406.3 L194.9,408.6 L195.9,411.4 L195.9,413.0 L196.2,414.5 L196.5,415.0 L196.1,412.2 L194.7,409.8 L194.3,408.1 L194.4,406.6Z M201.1,416.7 L201.6,419.0 L202.2,420.8 L201.9,422.7 L202.5,424.5 L201.5,423.2 L201.1,421.5 L200.9,419.9 L201.1,418.3Z M172.0,378.4 L173.7,377.2 L173.8,378.4 L172.8,379.5Z M152.3,389.6 L152.7,387.8 L153.4,386.2 L154.4,388.8 L153.8,390.1Z M203.2,393.0 L204.2,395.6 L203.5,396.3 L203.1,394.6Z M194.0,299.4 L195.7,299.6 L196.9,297.7 L198.4,297.9 L198.9,298.7 L197.1,299.6 L195.1,299.8Z M200.8,295.8 L202.5,294.7 L204.1,296.3 L202.8,297.3Z M170.6,300.5 L172.2,300.4 L172.2,301.3 L170.8,302.2Z M234.1,322.2 L236.4,322.1 L238.7,322.2 L239.1,324.9 L236.5,326.4 L234.6,324.7Z M255.2,322.0 L257.9,322.1 L259.6,322.2 L261.2,322.1 L262.8,322.2 L261.4,324.0 L258.6,323.3 L255.8,323.9Z M297.1,313.9 L298.7,312.9 L300.1,311.9 L301.4,310.8 L303.0,309.5 L304.2,307.8 L305.6,307.2 L304.2,309.6 L302.8,311.9 L301.6,313.2 L300.2,314.1 L298.0,314.4Z M292.2,338.2 L292.4,339.1 L291.3,338.4Z M25.9,321.8 L27.8,320.7 L29.7,319.7 L31.8,318.5 L33.9,319.0 L35.7,319.9 L36.6,322.3 L33.8,322.5 L31.1,321.5 L28.3,322.1Z M31.8,324.3 L32.2,326.2 L32.1,328.1 L32.4,330.2 L34.0,330.2 L34.3,327.4 L35.5,325.2 L36.2,323.4 L35.3,323.5 L33.5,324.1Z M36.5,322.9 L38.4,323.0 L40.7,323.4 L43.0,324.0 L42.1,325.6 L40.5,327.7 L39.7,327.9 L39.4,326.0 L38.1,325.6 L38.3,323.9Z M38.0,330.1 L39.7,330.3 L41.4,329.8 L44.2,328.2 L42.2,328.6 L39.4,329.6Z M43.1,327.5 L46.3,327.4 L48.2,327.2 L47.8,326.2 L44.9,326.6 L43.5,327.2Z M16.6,309.8 L19.3,310.0 L20.1,312.1 L20.0,314.0 L19.8,315.7 L19.0,313.7 L17.3,312.1Z M-8.3,297.4 L-6.7,298.2 L-5.1,298.1 L-3.5,297.8 L-1.7,297.7 L-0.3,296.8 L1.3,296.2 L2.8,294.6 L0.6,295.2 L-1.7,294.1 L-3.5,295.4 L-5.6,296.1 L-7.4,296.3Z M-19.2,290.6 L-18.4,288.8 L-16.4,288.8 L-15.3,288.2 L-13.4,287.6 L-11.5,287.1 L-9.0,287.7 L-9.1,289.2 L-10.6,290.1 L-12.3,290.4 L-13.9,291.6 L-15.6,291.5 L-17.0,290.3Z M-0.9,301.5 L0.8,301.3 L2.6,301.1 L4.1,300.2 L6.8,300.2 L4.8,301.2 L2.7,301.6 L0.9,301.2Z M11.8,304.6 L13.4,303.1 L12.5,304.0Z M14.5,313.8 L16.0,312.0 L16.8,313.8Z M54.2,311.0 L56.3,309.1 L56.7,311.2Z M58.1,314.3 L59.7,314.0 L58.0,313.9Z M50.2,315.1 L52.7,314.4 L51.9,315.3Z M-3.4,347.1 L-1.4,344.9 M-2.4,331.6 L-1.4,330.3 L-2.2,330.9Z M17.2,300.9 L19.3,301.2 M13.7,309.5 L15.6,308.9 M15.3,306.5 L17.2,305.4 M19.4,307.2 L21.4,305.9 M23.4,312.1 L25.5,311.3 M24.9,314.7 L26.9,313.8 M27.6,317.5 L29.7,316.7 M32.4,312.9 L34.5,311.6 M37.2,316.9 L39.4,316.3 M45.9,316.8 L47.7,317.7 M48.1,308.3 L50.4,307.6 M52.6,305.5 L55.3,304.0 M57.8,306.7 L59.7,306.2 M62.1,311.2 L64.3,310.3 M65.8,308.6 L67.7,307.6 M8.2,307.8 L9.6,306.6 M5.4,304.3 L7.6,303.7 M6.8,293.5 L8.9,292.3 M17.1,295.8 L19.3,295.3 M20.4,292.1 L22.8,291.9 M15.4,291.5 L17.2,289.7 M4.0,289.1 L6.2,288.6 M-1.2,292.3 L0.6,290.7 M-4.9,294.5 L-2.8,293.3 M-9.6,294.0 L-7.7,292.8 M9.3,296.5 L11.7,295.8 M21.1,299.2 L22.4,297.5 M28.3,288.5 L30.4,287.7" fill="#fff"/><path d="M71,330h1v2h-1zM109,321h1v1h-1zM226,407h1v1h-1zM111,411h1v1h-1zM108,384h1v2h-1zM224,342h1v1h-1zM102,414h1v2h-1zM169,342h1v2h-1zM176,438h1v1h-1zM283,369h1v1h-1zM351,423h2v1h-2zM107,335h1v2h-1zM76,410h1v2h-1zM261,344h1v2h-1zM284,341h1v1h-1zM211,350h2v1h-2zM167,367h2v1h-2zM353,441h1v1h-1zM302,355h1v1h-1zM234,436h2v1h-2zM95,340h2v1h-2zM274,328h1v2h-1zM152,355h1v1h-1zM101,342h2v1h-2zM199,417h1v1h-1zM147,428h1v1h-1zM353,342h1v1h-1zM279,425h1v2h-1zM84,394h2v1h-2zM323,441h1v2h-1zM256,321h1v1h-1zM212,418h1v2h-1zM357,414h2v1h-2zM213,416h1v2h-1zM171,317h1v2h-1zM241,373h1v1h-1zM107,388h1v1h-1zM342,429h1v1h-1zM349,427h1v1h-1zM232,387h1v2h-1zM135,341h1v2h-1zM159,421h2v1h-2zM107,332h2v1h-2zM289,436h1v2h-1zM240,337h1v1h-1zM285,342h1v1h-1zM180,355h1v2h-1zM332,355h1v1h-1zM341,350h1v1h-1zM77,394h2v1h-2zM144,342h2v1h-2zM130,320h1v2h-1zM181,341h1v1h-1zM163,354h2v1h-2zM101,343h1v1h-1zM330,405h1v2h-1zM202,399h1v1h-1zM191,325h1v1h-1zM156,376h1v1h-1zM359,351h2v1h-2zM293,354h1v1h-1zM240,367h1v1h-1zM138,334h2v1h-2zM320,402h1v1h-1zM73,432h1v2h-1zM347,402h2v1h-2zM159,365h1v1h-1zM232,344h1v2h-1zM82,389h1v1h-1zM82,438h2v1h-2zM148,330h1v1h-1zM165,409h1v2h-1zM109,322h2v1h-2zM305,435h1v1h-1zM227,372h1v1h-1zM90,379h1v2h-1zM198,377h1v2h-1zM266,316h2v1h-2zM137,443h1v2h-1zM323,323h1v2h-1zM338,357h1v2h-1zM127,344h1v1h-1zM271,423h1v1h-1zM330,369h1v2h-1zM108,439h2v1h-2zM195,387h1v1h-1zM202,333h2v1h-2zM326,427h1v1h-1zM259,376h2v1h-2zM169,439h1v2h-1zM298,423h1v2h-1zM311,370h1v1h-1zM123,345h2v1h-2zM309,439h1v1h-1zM291,330h2v1h-2zM146,416h1v2h-1zM126,381h2v1h-2zM305,385h1v2h-1zM209,334h1v2h-1zM211,324h2v1h-2zM161,424h1v1h-1zM297,331h1v1h-1zM231,392h1v1h-1zM146,386h1v2h-1zM244,385h2v1h-2zM290,399h1v1h-1zM111,440h1v2h-1zM353,408h1v1h-1zM194,439h1v1h-1zM204,333h2v1h-2zM306,378h1v1h-1zM312,359h1v2h-1zM178,413h1v1h-1zM211,355h1v1h-1zM278,410h1v2h-1zM170,426h1v1h-1zM291,432h2v1h-2zM309,324h1v1h-1zM309,424h2v1h-2zM236,346h2v1h-2zM190,354h1v1h-1zM354,367h1v1h-1zM87,368h2v1h-2zM115,320h1v1h-1zM229,366h2v1h-2zM324,406h1v1h-1zM164,348h1v2h-1zM342,362h1v2h-1zM194,443h1v1h-1zM358,407h1v1h-1zM342,388h1v1h-1zM284,393h1v1h-1zM334,352h1v1h-1zM213,360h1v1h-1zM153,405h1v1h-1zM150,362h2v1h-2zM355,375h1v2h-1zM127,369h1v1h-1zM72,384h1v2h-1zM193,381h1v2h-1zM213,383h1v1h-1zM67,380h1v1h-1zM358,437h2v1h-2zM291,367h1v1h-1zM202,336h1v1h-1zM184,403h1v1h-1zM105,400h2v1h-2zM169,349h2v1h-2zM274,396h1v1h-1zM75,367h1v1h-1zM206,387h1v2h-1zM102,381h1v2h-1zM297,435h1v1h-1zM89,363h1v1h-1zM248,364h1v1h-1zM103,348h1v1h-1zM88,343h1v1h-1zM158,372h2v1h-2zM98,323h1v2h-1zM223,323h1v1h-1zM235,335h1v1h-1zM200,326h1v1h-1zM89,333h1v2h-1zM299,442h2v1h-2zM104,414h1v1h-1zM326,428h1v2h-1zM134,376h1v1h-1zM235,398h1v1h-1zM310,405h2v1h-2zM363,393h1v1h-1zM253,335h1v2h-1zM341,389h1v1h-1zM273,366h2v1h-2zM92,348h2v1h-2zM224,353h1v2h-1zM218,328h1v1h-1zM112,316h1v1h-1zM310,348h1v2h-1zM107,415h2v1h-2zM317,418h2v1h-2zM73,429h2v1h-2zM185,353h2v1h-2zM130,356h1v1h-1zM274,403h2v1h-2zM324,398h1v1h-1zM347,400h1v1h-1zM233,408h1v1h-1zM222,425h2v1h-2zM245,348h2v1h-2zM349,372h1v1h-1zM254,421h1v1h-1zM363,434h2v1h-2zM89,422h2v1h-2zM330,358h1v2h-1zM350,408h1v2h-1zM77,396h1v1h-1zM244,411h1v1h-1zM188,406h1v2h-1zM197,357h1v1h-1zM99,422h1v1h-1zM135,327h1v1h-1zM182,371h1v2h-1zM269,384h1v1h-1zM230,346h2v1h-2zM192,442h2v1h-2zM143,340h1v1h-1zM285,427h1v1h-1zM318,367h1v1h-1zM258,362h1v1h-1zM290,398h1v2h-1zM258,415h1v2h-1zM243,337h2v1h-2zM128,326h1v1h-1zM273,381h2v1h-2zM121,410h1v2h-1zM99,332h1v1h-1zM310,403h1v2h-1zM68,364h1v1h-1zM357,417h2v1h-2zM152,334h1v1h-1zM136,400h1v1h-1zM180,423h1v1h-1zM262,422h2v1h-2zM148,437h2v1h-2zM214,333h1v2h-1zM322,341h2v1h-2zM281,413h2v1h-2zM304,407h2v1h-2zM225,322h2v1h-2zM135,393h1v1h-1zM173,389h1v1h-1zM201,323h1v1h-1zM70,361h1v2h-1zM327,323h1v2h-1zM332,364h1v2h-1zM203,349h2v1h-2zM243,362h1v1h-1zM314,405h2v1h-2zM245,333h1v1h-1zM269,347h1v2h-1zM70,439h1v2h-1zM327,384h1v1h-1zM171,381h1v1h-1zM213,399h1v1h-1zM347,361h2v1h-2zM287,374h1v1h-1zM354,431h2v1h-2zM189,404h2v1h-2zM83,401h1v2h-1zM258,431h2v1h-2zM345,341h1v1h-1zM192,339h1v1h-1zM206,429h1v1h-1zM80,369h1v1h-1zM121,328h1v2h-1zM320,333h1v1h-1zM274,390h2v1h-2zM73,351h1v1h-1zM86,422h1v1h-1zM222,426h1v2h-1zM303,364h1v2h-1zM358,391h1v1h-1zM95,385h2v1h-2zM226,385h1v1h-1zM323,365h1v1h-1zM283,334h1v2h-1zM243,409h1v1h-1zM123,329h1v1h-1zM276,403h1v1h-1zM227,361h1v1h-1zM342,338h1v2h-1zM272,319h1v1h-1zM293,365h1v1h-1zM355,380h2v1h-2zM188,393h1v1h-1zM74,386h2v1h-2zM328,348h1v1h-1zM339,368h2v1h-2zM362,317h2v1h-2zM321,371h1v1h-1zM322,370h2v1h-2zM107,430h2v1h-2zM237,369h1v1h-1zM313,354h1v2h-1zM363,407h1v2h-1zM100,346h1v1h-1zM136,343h1v2h-1zM345,327h1v2h-1zM204,335h1v2h-1zM204,437h2v1h-2zM354,335h1v1h-1zM312,318h2v1h-2zM198,318h2v1h-2zM73,328h1v2h-1zM218,441h2v1h-2zM262,347h1v1h-1zM103,342h1v1h-1zM75,361h1v2h-1zM284,341h1v1h-1zM356,318h1v2h-1zM270,397h1v1h-1zM276,418h1v2h-1zM113,426h1v1h-1zM114,340h2v1h-2zM202,415h1v2h-1zM217,371h1v2h-1zM291,381h1v1h-1zM240,432h1v1h-1zM74,363h1v2h-1zM210,349h1v1h-1zM81,405h1v1h-1zM161,364h1v1h-1zM183,318h2v1h-2zM257,371h2v1h-2zM166,317h1v1h-1zM108,436h1v1h-1zM97,394h2v1h-2zM105,347h1v2h-1zM304,388h2v1h-2zM164,323h1v2h-1zM86,319h2v1h-2zM217,341h1v1h-1zM126,423h1v1h-1zM151,434h1v1h-1zM169,320h1v1h-1zM212,371h1v1h-1zM274,337h1v2h-1zM101,332h1v1h-1zM173,321h1v1h-1zM209,432h1v2h-1zM72,401h2v1h-2zM237,398h1v1h-1zM101,388h2v1h-2zM257,372h1v1h-1zM118,434h1v1h-1zM289,395h1v2h-1zM277,370h2v1h-2zM164,404h1v1h-1zM196,375h1v2h-1zM121,387h1v1h-1zM189,362h1v1h-1zM302,355h1v1h-1zM329,391h1v1h-1zM350,443h1v1h-1zM290,406h1v2h-1zM150,420h1v2h-1zM309,402h1v2h-1zM319,354h1v1h-1zM133,384h2v1h-2zM152,411h1v1h-1zM215,357h1v1h-1zM168,335h1v2h-1zM306,372h1v2h-1zM341,396h1v1h-1zM350,408h1v2h-1zM297,380h1v1h-1zM247,396h1v2h-1zM105,340h2v1h-2zM296,409h1v1h-1zM266,338h1v2h-1zM346,319h1v1h-1zM361,426h2v1h-2zM115,374h1v1h-1zM207,324h1v1h-1zM168,351h1v1h-1zM166,372h1v1h-1zM364,408h1v1h-1zM85,330h1v2h-1zM156,346h1v1h-1zM68,342h1v1h-1zM251,402h1v2h-1zM315,370h1v1h-1zM176,375h1v2h-1zM113,350h2v1h-2zM218,385h1v1h-1zM147,409h1v1h-1zM335,440h1v1h-1zM136,364h1v2h-1zM128,398h1v2h-1zM242,395h1v2h-1zM122,340h1v2h-1zM337,360h1v1h-1zM239,334h2v1h-2zM132,422h1v1h-1zM154,363h2v1h-2zM161,397h1v2h-1zM123,406h1v1h-1zM148,425h1v2h-1zM102,434h2v1h-2zM114,342h1v2h-1zM198,342h2v1h-2zM89,358h1v2h-1zM271,371h1v1h-1zM204,386h1v1h-1zM293,352h1v2h-1zM205,369h1v1h-1zM313,373h1v1h-1zM106,377h2v1h-2zM339,431h1v1h-1zM72,432h1v1h-1zM291,428h1v1h-1zM88,426h1v2h-1zM250,339h1v1h-1zM277,339h1v1h-1zM137,391h1v1h-1zM334,345h2v1h-2zM171,392h1v2h-1zM324,367h1v2h-1zM140,348h2v1h-2zM263,346h1v2h-1zM133,355h1v2h-1zM162,381h1v1h-1zM146,408h1v1h-1zM325,373h1v1h-1zM249,385h1v2h-1zM327,317h2v1h-2zM80,408h1v1h-1zM76,407h1v2h-1zM314,418h1v2h-1zM261,381h2v1h-2zM105,373h2v1h-2zM339,345h1v1h-1zM68,371h1v1h-1zM359,385h1v1h-1zM101,354h1v1h-1zM329,333h1v1h-1zM260,376h2v1h-2zM312,365h1v2h-1zM145,379h1v1h-1zM190,423h1v1h-1zM176,322h1v1h-1zM159,403h1v1h-1zM338,338h1v1h-1zM290,378h1v1h-1zM72,332h1v1h-1zM334,415h1v1h-1zM208,345h1v2h-1zM226,426h1v2h-1zM333,427h2v1h-2zM303,437h1v1h-1zM263,381h2v1h-2zM347,417h2v1h-2zM267,427h1v1h-1zM263,387h1v1h-1zM278,380h1v2h-1zM261,436h1v1h-1zM216,391h1v1h-1zM88,351h1v1h-1zM98,343h1v1h-1zM190,422h1v1h-1zM67,442h1v1h-1zM269,435h2v1h-2zM341,317h1v1h-1zM282,418h1v2h-1zM335,404h1v1h-1zM75,441h1v1h-1zM148,350h1v2h-1zM227,379h1v1h-1zM86,413h1v1h-1zM248,360h2v1h-2zM229,330h1v2h-1zM192,392h1v1h-1zM157,409h1v1h-1zM221,391h1v1h-1zM311,402h1v1h-1zM172,399h1v1h-1zM332,392h1v2h-1zM148,387h2v1h-2zM206,323h1v1h-1zM307,333h1v1h-1zM362,408h2v1h-2zM112,337h1v2h-1zM360,362h1v1h-1zM288,350h2v1h-2zM146,324h1v1h-1zM88,418h1v1h-1zM262,414h1v1h-1zM69,327h1v2h-1zM294,385h1v1h-1zM214,377h1v1h-1zM275,360h1v1h-1zM168,443h1v2h-1zM250,360h1v2h-1zM91,423h1v1h-1zM328,341h1v2h-1zM214,425h1v1h-1zM185,322h1v1h-1zM132,399h1v2h-1zM336,418h1v1h-1zM107,329h1v2h-1zM106,345h1v1h-1zM77,421h1v2h-1zM77,415h1v2h-1zM296,347h2v1h-2zM134,389h1v1h-1zM306,427h2v1h-2zM211,396h1v2h-1zM105,410h1v1h-1zM244,438h1v2h-1zM356,410h1v2h-1zM352,345h1v2h-1zM159,382h2v1h-2zM148,325h2v1h-2zM281,431h1v2h-1zM308,403h1v1h-1zM230,441h2v1h-2zM349,393h2v1h-2zM286,361h1v2h-1zM263,370h1v2h-1zM184,350h1v1h-1zM332,369h2v1h-2zM156,372h1v2h-1zM117,440h2v1h-2zM205,374h1v1h-1zM150,412h2v1h-2zM334,335h1v1h-1zM200,328h2v1h-2zM347,438h1v1h-1zM176,353h1v1h-1zM271,328h2v1h-2zM350,317h1v1h-1zM281,383h1v1h-1zM120,364h1v1h-1zM76,317h1v2h-1zM275,397h1v1h-1zM327,431h1v2h-1zM196,381h2v1h-2zM248,431h1v1h-1zM103,432h2v1h-2zM329,332h2v1h-2zM233,404h1v1h-1zM349,345h2v1h-2zM76,333h2v1h-2zM121,337h1v1h-1zM168,383h2v1h-2zM345,366h1v2h-1zM127,412h1v2h-1zM226,425h2v1h-2zM122,405h1v2h-1zM333,381h2v1h-2zM282,415h1v1h-1zM329,442h1v1h-1zM265,328h2v1h-2zM114,418h1v1h-1zM255,416h1v1h-1zM193,438h1v2h-1zM327,344h1v1h-1zM306,422h2v1h-2zM321,348h2v1h-2zM145,332h1v1h-1zM225,370h1v1h-1zM202,384h1v1h-1zM285,384h2v1h-2zM195,319h1v1h-1zM280,439h2v1h-2zM91,316h1v2h-1zM292,318h1v1h-1zM341,387h2v1h-2zM293,329h1v2h-1zM313,393h1v2h-1zM156,356h2v1h-2zM250,382h2v1h-2zM175,379h1v2h-1zM174,374h1v1h-1zM253,394h2v1h-2zM112,399h2v1h-2zM245,414h2v1h-2zM113,386h1v2h-1zM86,364h1v2h-1zM350,408h1v1h-1zM102,428h1v1h-1zM274,368h1v2h-1zM147,359h1v2h-1zM305,324h2v1h-2zM272,381h2v1h-2zM354,371h1v2h-1zM325,352h1v1h-1zM154,390h1v1h-1zM68,390h2v1h-2zM182,370h1v1h-1zM262,443h2v1h-2zM129,423h1v1h-1zM82,430h1v1h-1zM157,441h1v2h-1zM303,386h1v1h-1zM276,408h1v1h-1zM86,352h2v1h-2zM255,426h2v1h-2zM340,319h1v1h-1zM250,327h2v1h-2zM169,355h1v1h-1zM88,443h1v1h-1zM349,387h1v1h-1zM139,420h1v2h-1zM359,369h2v1h-2zM246,438h1v1h-1zM75,358h1v1h-1zM276,372h1v1h-1zM200,338h1v1h-1zM138,380h1v1h-1zM245,409h1v2h-1zM155,339h1v1h-1zM279,432h1v2h-1zM323,360h2v1h-2zM198,379h1v1h-1zM336,396h2v1h-2zM89,349h1v1h-1zM109,321h1v2h-1zM135,330h1v2h-1zM101,354h1v1h-1zM168,422h1v1h-1zM208,428h2v1h-2zM345,430h1v2h-1zM174,433h1v2h-1zM352,395h1v2h-1zM90,341h1v1h-1zM343,389h1v1h-1zM218,384h1v1h-1zM127,384h1v1h-1zM151,409h1v1h-1zM298,411h1v2h-1zM146,357h1v2h-1zM178,413h1v1h-1zM108,344h1v1h-1zM124,368h1v1h-1zM252,400h1v2h-1zM234,392h1v2h-1zM280,376h1v1h-1zM159,330h1v1h-1zM132,375h1v1h-1zM309,433h1v1h-1zM213,416h2v1h-2zM209,322h1v2h-1zM167,397h2v1h-2zM143,336h1v1h-1zM99,427h1v1h-1zM80,338h1v2h-1zM137,333h1v1h-1zM181,389h1v2h-1zM194,341h2v1h-2zM246,349h2v1h-2zM105,351h1v1h-1zM283,375h1v2h-1zM108,385h2v1h-2zM248,357h2v1h-2zM357,397h1v1h-1zM288,431h1v1h-1zM350,318h1v1h-1zM321,396h1v2h-1zM356,396h2v1h-2zM314,375h1v1h-1zM114,423h2v1h-2zM112,351h2v1h-2zM287,425h1v1h-1zM301,370h2v1h-2zM337,327h1v1h-1zM175,415h1v1h-1zM182,364h1v1h-1zM350,322h1v2h-1zM346,353h1v1h-1zM77,424h2v1h-2zM140,374h1v2h-1zM137,325h1v1h-1zM329,338h1v1h-1zM162,442h1v1h-1zM297,418h1v1h-1zM297,372h1v1h-1zM331,434h1v2h-1zM251,380h2v1h-2zM78,319h1v2h-1zM307,433h1v1h-1zM348,352h1v1h-1zM245,361h1v2h-1zM207,439h2v1h-2zM327,339h1v1h-1zM151,424h1v1h-1zM346,366h2v1h-2zM318,435h1v1h-1zM246,361h1v2h-1zM183,362h1v2h-1zM337,380h1v1h-1zM287,365h1v2h-1zM243,394h1v1h-1zM179,347h1v2h-1zM171,340h2v1h-2zM273,403h1v2h-1zM94,405h2v1h-2zM346,353h1v1h-1zM123,444h1v1h-1zM190,368h1v2h-1zM293,387h1v2h-1zM266,410h1v2h-1zM260,412h1v2h-1zM208,410h1v1h-1zM331,364h1v1h-1zM270,419h1v1h-1zM213,346h1v2h-1zM170,401h1v1h-1zM300,352h1v1h-1zM132,438h1v2h-1zM317,354h2v1h-2zM133,377h1v1h-1zM201,375h1v2h-1zM109,349h1v1h-1zM343,376h1v1h-1zM278,430h1v2h-1zM312,416h1v1h-1zM301,438h1v1h-1zM201,406h2v1h-2zM68,439h1v1h-1zM168,427h1v1h-1zM72,425h1v1h-1zM130,388h1v1h-1zM261,349h1v2h-1zM333,418h1v2h-1zM78,361h1v1h-1zM217,340h1v2h-1zM217,317h2v1h-2zM144,377h1v2h-1zM288,354h1v2h-1zM312,388h2v1h-2zM76,356h1v2h-1zM253,442h2v1h-2zM175,342h2v1h-2zM179,325h1v1h-1zM186,391h1v1h-1zM313,322h2v1h-2zM116,397h1v2h-1zM74,389h2v1h-2zM104,356h1v2h-1zM234,325h1v2h-1zM358,364h1v1h-1zM125,399h1v2h-1zM286,377h1v1h-1zM139,441h1v1h-1zM303,427h2v1h-2zM131,381h1v2h-1zM265,351h1v1h-1zM263,328h1v2h-1zM171,389h1v2h-1zM173,363h1v1h-1zM95,422h1v1h-1zM127,432h2v1h-2zM125,404h2v1h-2zM265,408h1v2h-1zM255,412h2v1h-2zM334,404h1v2h-1zM282,396h2v1h-2zM297,352h1v1h-1zM272,393h1v2h-1zM250,345h1v1h-1zM311,428h1v2h-1zM209,404h2v1h-2zM126,347h1v1h-1zM254,440h1v1h-1zM89,330h1v1h-1zM68,328h1v1h-1zM114,326h2v1h-2zM293,376h1v1h-1zM105,435h1v2h-1zM276,401h2v1h-2zM208,431h1v2h-1zM354,378h1v1h-1zM275,402h1v2h-1zM83,398h1v1h-1zM297,392h1v1h-1zM307,331h2v1h-2zM340,425h2v1h-2zM161,326h1v1h-1zM159,422h1v1h-1zM75,328h2v1h-2zM146,416h1v2h-1zM191,435h1v1h-1zM218,424h1v1h-1zM121,396h1v1h-1zM365,439h1v2h-1zM249,413h1v1h-1zM207,419h1v1h-1zM200,387h1v1h-1zM153,419h1v1h-1zM186,420h1v1h-1zM305,439h1v1h-1zM318,393h1v1h-1zM282,360h2v1h-2zM96,343h2v1h-2zM364,428h1v1h-1zM218,424h2v1h-2zM233,326h2v1h-2zM336,366h1v1h-1zM300,354h1v1h-1zM360,349h1v2h-1zM354,352h2v1h-2zM256,426h1v1h-1zM150,440h1v1h-1zM126,367h1v2h-1zM301,377h1v1h-1zM104,391h1v1h-1zM287,389h1v1h-1zM264,353h1v1h-1zM365,329h1v1h-1zM127,323h1v2h-1zM150,363h1v1h-1zM324,376h1v2h-1zM343,392h1v1h-1zM181,393h1v2h-1zM183,316h2v1h-2zM121,394h1v1h-1zM84,414h1v1h-1zM70,367h1v2h-1zM274,406h1v2h-1zM218,415h2v1h-2zM268,353h1v1h-1zM322,371h1v1h-1zM230,340h1v1h-1zM159,407h2v1h-2zM176,410h1v2h-1zM224,429h1v2h-1zM330,348h1v1h-1zM351,406h1v1h-1zM245,376h1v1h-1zM214,355h1v2h-1zM272,316h2v1h-2zM357,371h1v2h-1zM180,345h1v1h-1zM225,405h1v1h-1zM299,344h1v2h-1zM143,417h1v1h-1zM232,419h1v2h-1zM291,356h1v2h-1zM210,358h1v2h-1zM285,318h1v1h-1zM234,333h1v1h-1zM97,428h2v1h-2zM243,329h2v1h-2zM188,339h1v1h-1zM235,430h2v1h-2zM255,346h1v1h-1zM300,403h1v1h-1zM202,429h1v2h-1zM185,320h1v2h-1zM140,404h2v1h-2zM344,400h2v1h-2zM73,427h1v1h-1zM202,342h2v1h-2zM281,421h1v1h-1zM233,426h2v1h-2zM150,352h2v1h-2zM198,363h1v1h-1zM92,323h1v1h-1zM236,392h1v1h-1zM289,392h1v1h-1zM173,441h1v2h-1zM210,335h1v2h-1zM89,437h1v1h-1zM210,356h2v1h-2zM133,321h1v2h-1zM321,320h1v1h-1zM170,437h1v1h-1zM210,394h1v2h-1zM277,354h1v1h-1zM119,345h1v2h-1zM224,371h2v1h-2zM298,402h2v1h-2zM75,427h1v1h-1zM210,421h2v1h-2zM362,409h1v1h-1zM201,436h1v1h-1zM330,372h2v1h-2zM155,374h1v1h-1zM159,443h1v2h-1zM238,336h2v1h-2zM195,427h1v1h-1zM92,337h1v1h-1zM211,330h2v1h-2zM103,351h1v2h-1zM79,343h1v1h-1zM132,409h1v2h-1zM239,364h1v2h-1zM257,333h1v1h-1zM224,398h1v2h-1zM318,340h2v1h-2zM168,384h1v1h-1zM151,325h1v2h-1zM91,413h2v1h-2zM273,391h1v1h-1zM192,373h1v2h-1zM359,411h1v1h-1z" fill="#fff"/></g>
<g fill="none" stroke="#000" stroke-width="1.3" stroke-linejoin="round" shape-rendering="crispEdges">
<use href="#outl"/>
<use href="#outl" transform="translate(498.00,0)"/>
</g>
<use href="#tex"/>
<use href="#tex" transform="translate(498.00,0)"/>
</g>
<rect x="71" y="174" width="677" height="265" fill="none" stroke="#000" stroke-width="2"/>
<g stroke="#000" stroke-width="1"><line x1="66" y1="198.5" x2="71" y2="198.5"/><line x1="66" y1="249.5" x2="71" y2="249.5"/><line x1="66" y1="299.5" x2="71" y2="299.5"/><line x1="66" y1="349.5" x2="71" y2="349.5"/><line x1="66" y1="400.5" x2="71" y2="400.5"/><line x1="153.5" y1="439" x2="153.5" y2="444"/><line x1="236.5" y1="439" x2="236.5" y2="444"/><line x1="319.5" y1="439" x2="319.5" y2="444"/><line x1="402.5" y1="439" x2="402.5" y2="444"/><line x1="485.5" y1="439" x2="485.5" y2="444"/><line x1="568.5" y1="439" x2="568.5" y2="444"/><line x1="651.5" y1="439" x2="651.5" y2="444"/><line x1="734.5" y1="439" x2="734.5" y2="444"/></g>
<g fill="#000"><text transform="translate(28.95,204.50) scale(0.0858,0.1730)" font-family="Liberation Sans" font-size="100" stroke="#fff" stroke-width="1.700">1</text><text transform="translate(35.99,204.50) scale(0.1602,0.1704)" font-family="Liberation Sans" font-size="100" stroke="#fff" stroke-width="1.331">2</text><text transform="translate(45.19,204.34) scale(0.1318,0.1681)" font-family="Liberation Sans" font-size="100" stroke="#fff" stroke-width="1.467">0</text><text transform="translate(53.60,204.50) scale(0.1217,0.1730)" font-family="Liberation Sans" font-size="100" stroke="#fff" stroke-width="1.493">N</text><text transform="translate(36.09,255.34) scale(0.1515,0.1681)" font-family="Liberation Sans" font-size="100" stroke="#fff" stroke-width="1.377">9</text><text transform="translate(45.19,255.34) scale(0.1318,0.1681)" font-family="Liberation Sans" font-size="100" stroke="#fff" stroke-width="1.467">0</text><text transform="translate(53.60,255.50) scale(0.1217,0.1730)" font-family="Liberation Sans" font-size="100" stroke="#fff" stroke-width="1.493">N</text><text transform="translate(36.03,305.34) scale(0.1517,0.1681)" font-family="Liberation Sans" font-size="100" stroke="#fff" stroke-width="1.376">6</text><text transform="translate(45.19,305.34) scale(0.1318,0.1681)" font-family="Liberation Sans" font-size="100" stroke="#fff" stroke-width="1.467">0</text><text transform="translate(53.60,305.50) scale(0.1217,0.1730)" font-family="Liberation Sans" font-size="100" stroke="#fff" stroke-width="1.493">N</text><text transform="translate(36.24,355.34) scale(0.1476,0.1681)" font-family="Liberation Sans" font-size="100" stroke="#fff" stroke-width="1.394">3</text><text transform="translate(45.19,355.34) scale(0.1318,0.1681)" font-family="Liberation Sans" font-size="100" stroke="#fff" stroke-width="1.467">0</text><text transform="translate(53.60,355.50) scale(0.1217,0.1730)" font-family="Liberation Sans" font-size="100" stroke="#fff" stroke-width="1.493">N</text><text transform="translate(44.51,406.50) scale(0.1328,0.1730)" font-family="Liberation Sans" font-size="100" stroke="#fff" stroke-width="1.439">E</text><text transform="translate(53.42,404.67) scale(0.1216,0.1443)" font-family="Liberation Sans" font-size="100" stroke="#fff" stroke-width="1.655">Q</text><text transform="translate(149.94,457.84) scale(0.1443,0.1596)" font-family="Liberation Sans" font-size="100" stroke="#fff" stroke-width="1.448">0</text><text transform="translate(225.07,457.84) scale(0.1430,0.1596)" font-family="Liberation Sans" font-size="100" stroke="#fff" stroke-width="1.454">6</text><text transform="translate(233.26,457.84) scale(0.1381,0.1596)" font-family="Liberation Sans" font-size="100" stroke="#fff" stroke-width="1.478">0</text><text transform="translate(241.37,458.00) scale(0.1255,0.1642)" font-family="Liberation Sans" font-size="100" stroke="#fff" stroke-width="1.519">E</text><text transform="translate(303.73,458.00) scale(0.0881,0.1642)" font-family="Liberation Sans" font-size="100" stroke="#fff" stroke-width="1.743">1</text><text transform="translate(311.03,458.00) scale(0.1537,0.1618)" font-family="Liberation Sans" font-size="100" stroke="#fff" stroke-width="1.395">2</text><text transform="translate(319.86,457.84) scale(0.1381,0.1596)" font-family="Liberation Sans" font-size="100" stroke="#fff" stroke-width="1.478">0</text><text transform="translate(328.07,458.00) scale(0.1255,0.1642)" font-family="Liberation Sans" font-size="100" stroke="#fff" stroke-width="1.519">E</text><text transform="translate(390.93,458.00) scale(0.0881,0.1642)" font-family="Liberation Sans" font-size="100" stroke="#fff" stroke-width="1.743">1</text><text transform="translate(398.17,457.84) scale(0.1449,0.1596)" font-family="Liberation Sans" font-size="100" stroke="#fff" stroke-width="1.445">8</text><text transform="translate(408.14,457.84) scale(0.1423,0.1596)" font-family="Liberation Sans" font-size="100" stroke="#fff" stroke-width="1.458">0</text><text transform="translate(468.91,458.00) scale(0.0905,0.1642)" font-family="Liberation Sans" font-size="100" stroke="#fff" stroke-width="1.728">1</text><text transform="translate(475.98,458.00) scale(0.1624,0.1618)" font-family="Liberation Sans" font-size="100" stroke="#fff" stroke-width="1.357">2</text><text transform="translate(485.12,457.84) scale(0.1485,0.1596)" font-family="Liberation Sans" font-size="100" stroke="#fff" stroke-width="1.428">0</text><text transform="translate(493.96,458.00) scale(0.0983,0.1642)" font-family="Liberation Sans" font-size="100" stroke="#fff" stroke-width="1.676">W</text><text transform="translate(554.56,457.84) scale(0.1452,0.1596)" font-family="Liberation Sans" font-size="100" stroke="#fff" stroke-width="1.444">6</text><text transform="translate(563.26,457.84) scale(0.1381,0.1596)" font-family="Liberation Sans" font-size="100" stroke="#fff" stroke-width="1.478">0</text><text transform="translate(573.26,458.00) scale(0.0983,0.1642)" font-family="Liberation Sans" font-size="100" stroke="#fff" stroke-width="1.676">W</text><text transform="translate(646.85,457.84) scale(0.1674,0.1596)" font-family="Liberation Sans" font-size="100" stroke="#fff" stroke-width="1.346">0</text><text transform="translate(721.76,457.84) scale(0.1452,0.1596)" font-family="Liberation Sans" font-size="100" stroke="#fff" stroke-width="1.444">6</text><text transform="translate(730.26,457.84) scale(0.1381,0.1596)" font-family="Liberation Sans" font-size="100" stroke="#fff" stroke-width="1.478">0</text><text transform="translate(739.27,458.00) scale(0.1255,0.1642)" font-family="Liberation Sans" font-size="100" stroke="#fff" stroke-width="1.519">E</text></g>
<g fill="#000"><text transform="translate(140.85,162.10) scale(0.2139,0.2762)" font-family="Liberation Sans" font-size="100" stroke="#fff" stroke-width="1.837">R</text><text transform="translate(157.47,162.16) scale(0.1947,0.2446)" font-family="Liberation Sans" font-size="100" stroke="#fff" stroke-width="2.049">a</text><text transform="translate(169.65,162.10) scale(0.3072,0.2415)" font-family="Liberation Sans" font-size="100" stroke="#fff" stroke-width="1.640">i</text><text transform="translate(176.65,162.10) scale(0.2189,0.2435)" font-family="Liberation Sans" font-size="100" stroke="#fff" stroke-width="1.946">n</text><text transform="translate(190.51,162.10) scale(0.2753,0.2667)" font-family="Liberation Sans" font-size="100" stroke="#fff" stroke-width="1.660">f</text><text transform="translate(198.18,162.16) scale(0.1927,0.2446)" font-family="Liberation Sans" font-size="100" stroke="#fff" stroke-width="2.058">a</text><text transform="translate(211.04,162.10) scale(0.2617,0.2664)" font-family="Liberation Sans" font-size="100" stroke="#fff" stroke-width="1.704">l</text><text transform="translate(216.96,162.10) scale(0.2731,0.2664)" font-family="Liberation Sans" font-size="100" stroke="#fff" stroke-width="1.668">l</text><text transform="translate(234.90,162.53) scale(0.2904,0.2834)" font-family="Liberation Sans" font-size="100" stroke="#fff" stroke-width="1.569">(</text><text transform="translate(246.63,162.10) scale(0.2288,0.2762)" font-family="Liberation Sans" font-size="100" stroke="#fff" stroke-width="1.782">7</text><text transform="translate(261.34,164.79) scale(0.2758,0.3367)" font-family="Liberation Sans" font-size="100" stroke="#fff" stroke-width="1.469">−</text><text transform="translate(278.93,162.14) scale(0.2313,0.2628)" font-family="Liberation Sans" font-size="100" stroke="#fff" stroke-width="1.822">d</text><text transform="translate(291.98,162.16) scale(0.2161,0.2446)" font-family="Liberation Sans" font-size="100" stroke="#fff" stroke-width="1.954">a</text><text transform="translate(305.45,161.78) scale(0.2159,0.2419)" font-family="Liberation Sans" font-size="100" stroke="#fff" stroke-width="1.966">y</text><text transform="translate(329.84,162.16) scale(0.2025,0.2446)" font-family="Liberation Sans" font-size="100" stroke="#fff" stroke-width="2.013">a</text><text transform="translate(342.95,162.16) scale(0.2482,0.2446)" font-family="Liberation Sans" font-size="100" stroke="#fff" stroke-width="1.826">c</text><text transform="translate(355.98,162.16) scale(0.2412,0.2446)" font-family="Liberation Sans" font-size="100" stroke="#fff" stroke-width="1.853">c</text><text transform="translate(369.23,162.16) scale(0.2425,0.2490)" font-family="Liberation Sans" font-size="100" stroke="#fff" stroke-width="1.831">u</text><text transform="translate(381.93,162.10) scale(0.2512,0.2435)" font-family="Liberation Sans" font-size="100" stroke="#fff" stroke-width="1.820">m</text><text transform="translate(402.64,162.10) scale(0.3466,0.3086)" font-family="Liberation Sans" font-size="100" stroke="#fff" stroke-width="1.374">.</text><text transform="translate(411.74,162.53) scale(0.2753,0.2834)" font-family="Liberation Sans" font-size="100" stroke="#fff" stroke-width="1.611">)</text><text transform="translate(432.18,162.52) scale(0.3673,0.2832)" font-family="Liberation Sans" font-size="100" stroke="#fff" stroke-width="1.383">[</text><text transform="translate(443.83,162.10) scale(0.2512,0.2435)" font-family="Liberation Sans" font-size="100" stroke="#fff" stroke-width="1.820">m</text><text transform="translate(464.83,162.10) scale(0.2512,0.2435)" font-family="Liberation Sans" font-size="100" stroke="#fff" stroke-width="1.820">m</text><text transform="translate(488.37,162.52) scale(0.2919,0.2832)" font-family="Liberation Sans" font-size="100" stroke="#fff" stroke-width="1.565">]</text><text transform="translate(508.70,161.84) scale(0.2552,0.2684)" font-family="Liberation Sans" font-size="100" stroke="#fff" stroke-width="1.719">0</text><text transform="translate(524.44,162.10) scale(0.2421,0.2762)" font-family="Liberation Sans" font-size="100" stroke="#fff" stroke-width="1.737">4</text><text transform="translate(538.29,162.10) scale(0.2245,0.2762)" font-family="Liberation Sans" font-size="100" stroke="#fff" stroke-width="1.798">Z</text><text transform="translate(554.42,162.10) scale(0.1415,0.2762)" font-family="Liberation Sans" font-size="100" stroke="#fff" stroke-width="2.155">1</text><text transform="translate(565.89,161.84) scale(0.2573,0.2684)" font-family="Liberation Sans" font-size="100" stroke="#fff" stroke-width="1.712">0</text><text transform="translate(579.86,162.10) scale(0.1976,0.2762)" font-family="Liberation Sans" font-size="100" stroke="#fff" stroke-width="1.900">A</text><text transform="translate(594.49,162.16) scale(0.2166,0.2490)" font-family="Liberation Sans" font-size="100" stroke="#fff" stroke-width="1.933">u</text><text transform="translate(606.73,161.84) scale(0.2557,0.2392)" font-family="Liberation Sans" font-size="100" stroke="#fff" stroke-width="1.818">g</text><text transform="translate(620.67,162.10) scale(0.2437,0.2721)" font-family="Liberation Sans" font-size="100" stroke="#fff" stroke-width="1.745">2</text><text transform="translate(634.76,161.84) scale(0.2406,0.2684)" font-family="Liberation Sans" font-size="100" stroke="#fff" stroke-width="1.768">0</text><text transform="translate(651.79,162.10) scale(0.1322,0.2762)" font-family="Liberation Sans" font-size="100" stroke="#fff" stroke-width="2.204">1</text><text transform="translate(662.66,161.84) scale(0.2621,0.2684)" font-family="Liberation Sans" font-size="100" stroke="#fff" stroke-width="1.697">8</text></g>
<g stroke="#000" stroke-width="1"><polygon points="306,533.5 363.5,526.5 363.5,540.5" fill="#aaaaaa"/><rect x="363.5" y="526.5" width="57" height="14" fill="#fff"/><polygon points="478,533.5 420.5,526.5 420.5,540.5" fill="#aaaaaa"/></g>
<g fill="#000"><text transform="translate(336.47,554.10) scale(0.1429,0.1497)" font-family="Liberation Sans" font-size="100" stroke="#fff" stroke-width="0.820">4</text><text transform="translate(344.01,553.96) scale(0.1598,0.1455)" font-family="Liberation Sans" font-size="100" stroke="#fff" stroke-width="0.786">8</text><text transform="translate(352.97,553.96) scale(0.1342,0.1455)" font-family="Liberation Sans" font-size="100" stroke="#fff" stroke-width="0.858">9</text><text transform="translate(360.68,554.10) scale(0.1995,0.1964)" font-family="Liberation Sans" font-size="100" stroke="#fff" stroke-width="0.606">.</text><text transform="translate(365.83,553.96) scale(0.1517,0.1455)" font-family="Liberation Sans" font-size="100" stroke="#fff" stroke-width="0.808">6</text><text transform="translate(374.24,553.96) scale(0.1443,0.1455)" font-family="Liberation Sans" font-size="100" stroke="#fff" stroke-width="0.828">0</text><text transform="translate(383.19,554.10) scale(0.1386,0.1497)" font-family="Liberation Sans" font-size="100" stroke="#fff" stroke-width="0.832">7</text><text transform="translate(375.16,554.10) scale(0.1488,0.1497)" font-family="Liberation Sans" font-size="100" stroke="#fff" stroke-width="0.804">4</text><text transform="translate(382.48,554.10) scale(0.1995,0.1964)" font-family="Liberation Sans" font-size="100" stroke="#fff" stroke-width="0.606">.</text><text transform="translate(387.93,553.96) scale(0.1321,0.1455)" font-family="Liberation Sans" font-size="100" stroke="#fff" stroke-width="0.865">8</text><text transform="translate(396.07,553.96) scale(0.1342,0.1455)" font-family="Liberation Sans" font-size="100" stroke="#fff" stroke-width="0.858">9</text><text transform="translate(405.20,553.96) scale(0.1387,0.1455)" font-family="Liberation Sans" font-size="100" stroke="#fff" stroke-width="0.845">6</text><text transform="translate(413.40,553.96) scale(0.1527,0.1455)" font-family="Liberation Sans" font-size="100" stroke="#fff" stroke-width="0.805">0</text><text transform="translate(422.27,554.10) scale(0.1430,0.1497)" font-family="Liberation Sans" font-size="100" stroke="#fff" stroke-width="0.820">7</text><text transform="translate(430.09,553.97) scale(0.1428,0.1351)" font-family="Liberation Sans" font-size="100" stroke="#fff" stroke-width="0.864">e</text><text transform="translate(437.87,555.77) scale(0.1914,0.1901)" font-family="Liberation Sans" font-size="100" stroke="#fff" stroke-width="0.629">+</text><text transform="translate(449.19,553.96) scale(0.1569,0.1455)" font-family="Liberation Sans" font-size="100" stroke="#fff" stroke-width="0.794">0</text><text transform="translate(458.33,553.96) scale(0.1322,0.1455)" font-family="Liberation Sans" font-size="100" stroke="#fff" stroke-width="0.864">6</text><text transform="translate(457.84,553.59) scale(0.2466,0.1641)" font-family="Liberation Sans" font-size="100" stroke="#fff" stroke-width="0.584">[</text><text transform="translate(464.59,554.10) scale(0.1527,0.1375)" font-family="Liberation Sans" font-size="100" stroke="#fff" stroke-width="0.827">m</text><text transform="translate(477.49,554.10) scale(0.1527,0.1375)" font-family="Liberation Sans" font-size="100" stroke="#fff" stroke-width="0.827">m</text><text transform="translate(490.41,553.59) scale(0.2466,0.1641)" font-family="Liberation Sans" font-size="100" stroke="#fff" stroke-width="0.584">]</text></g>
</svg>
</body></html>
